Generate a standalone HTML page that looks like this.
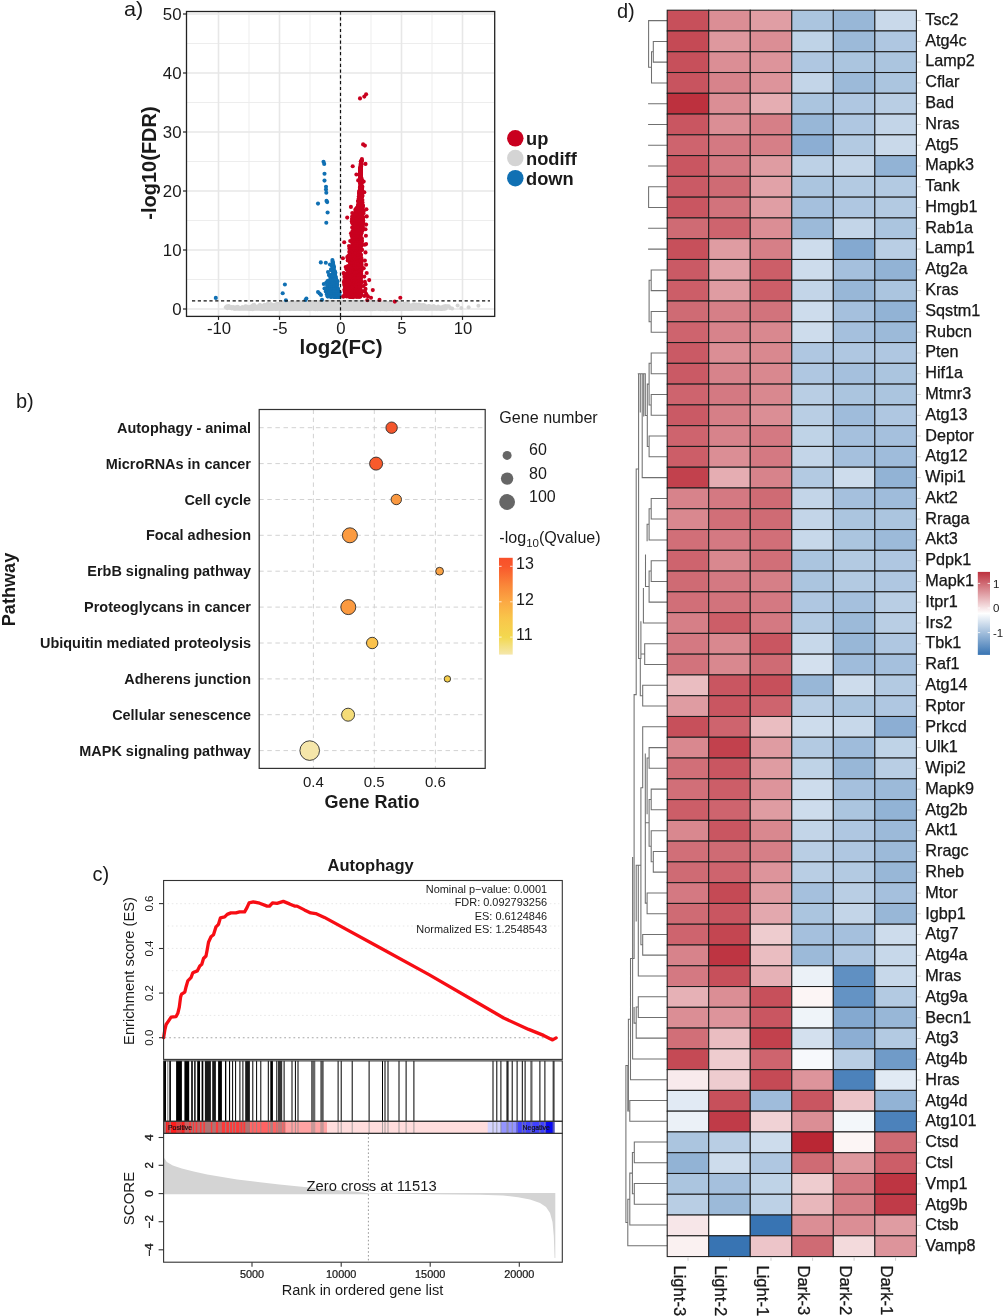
<!DOCTYPE html>
<html><head><meta charset="utf-8"><title>Figure</title>
<style>
html,body{margin:0;padding:0;background:#ffffff;}
body{width:1003px;height:1316px;overflow:hidden;}
svg{display:block;position:absolute;left:0;top:0;will-change:transform;}
text{font-family:"Liberation Sans",sans-serif;fill:#1a1a1a;}
.b{font-weight:bold;}
</style></head><body>
<svg width="1003" height="1316" viewBox="0 0 1003 1316">
<rect x="0" y="0" width="1003" height="1316" fill="#ffffff"/>
<g id="panelA">
<text transform="translate(124,16.3) scale(1.08,1)" font-size="20">a)</text>
<rect x="186.5" y="11.5" width="308.2" height="304.9" fill="#fff"/>
<line x1="249" y1="11.5" x2="249" y2="316.4" stroke="#ededed" stroke-width="1.0"/>
<line x1="310" y1="11.5" x2="310" y2="316.4" stroke="#ededed" stroke-width="1.0"/>
<line x1="371" y1="11.5" x2="371" y2="316.4" stroke="#ededed" stroke-width="1.0"/>
<line x1="432" y1="11.5" x2="432" y2="316.4" stroke="#ededed" stroke-width="1.0"/>
<line x1="186.5" y1="43.5" x2="494.7" y2="43.5" stroke="#ededed" stroke-width="1.0"/>
<line x1="186.5" y1="102.5" x2="494.7" y2="102.5" stroke="#ededed" stroke-width="1.0"/>
<line x1="186.5" y1="161.5" x2="494.7" y2="161.5" stroke="#ededed" stroke-width="1.0"/>
<line x1="186.5" y1="220.5" x2="494.7" y2="220.5" stroke="#ededed" stroke-width="1.0"/>
<line x1="186.5" y1="279.5" x2="494.7" y2="279.5" stroke="#ededed" stroke-width="1.0"/>
<line x1="218.5" y1="11.5" x2="218.5" y2="316.4" stroke="#e7e7e7" stroke-width="1.6"/>
<line x1="279.5" y1="11.5" x2="279.5" y2="316.4" stroke="#e7e7e7" stroke-width="1.6"/>
<line x1="340.5" y1="11.5" x2="340.5" y2="316.4" stroke="#e7e7e7" stroke-width="1.6"/>
<line x1="401.5" y1="11.5" x2="401.5" y2="316.4" stroke="#e7e7e7" stroke-width="1.6"/>
<line x1="462.5" y1="11.5" x2="462.5" y2="316.4" stroke="#e7e7e7" stroke-width="1.6"/>
<line x1="186.5" y1="14" x2="494.7" y2="14" stroke="#e7e7e7" stroke-width="1.6"/>
<line x1="186.5" y1="73" x2="494.7" y2="73" stroke="#e7e7e7" stroke-width="1.6"/>
<line x1="186.5" y1="132" x2="494.7" y2="132" stroke="#e7e7e7" stroke-width="1.6"/>
<line x1="186.5" y1="191" x2="494.7" y2="191" stroke="#e7e7e7" stroke-width="1.6"/>
<line x1="186.5" y1="250" x2="494.7" y2="250" stroke="#e7e7e7" stroke-width="1.6"/>
<line x1="186.5" y1="309" x2="494.7" y2="309" stroke="#e7e7e7" stroke-width="1.6"/>
<g fill="#d4d4d4"><circle cx="406.5" cy="308.8" r="2"/><circle cx="322.3" cy="304.3" r="2"/><circle cx="341.8" cy="305.3" r="2"/><circle cx="356.4" cy="307.7" r="2"/><circle cx="309.7" cy="307.4" r="2"/><circle cx="340.6" cy="303.9" r="2"/><circle cx="340.5" cy="307.6" r="2"/><circle cx="272.0" cy="307.3" r="2"/><circle cx="380.2" cy="306.6" r="2"/><circle cx="363.9" cy="303.6" r="2"/><circle cx="316.1" cy="307.9" r="2"/><circle cx="333.8" cy="308.7" r="2"/><circle cx="360.2" cy="307.9" r="2"/><circle cx="330.3" cy="303.9" r="2"/><circle cx="331.0" cy="308.9" r="2"/><circle cx="283.8" cy="305.8" r="2"/><circle cx="362.2" cy="305.5" r="2"/><circle cx="345.3" cy="306.4" r="2"/><circle cx="351.2" cy="306.6" r="2"/><circle cx="280.9" cy="305.9" r="2"/><circle cx="404.9" cy="308.9" r="2"/><circle cx="346.5" cy="306.8" r="2"/><circle cx="325.4" cy="306.1" r="2"/><circle cx="419.7" cy="308.5" r="2"/><circle cx="338.7" cy="305.3" r="2"/><circle cx="283.9" cy="307.3" r="2"/><circle cx="324.7" cy="308.8" r="2"/><circle cx="251.2" cy="308.6" r="2"/><circle cx="381.5" cy="307.0" r="2"/><circle cx="324.2" cy="304.3" r="2"/><circle cx="311.5" cy="303.4" r="2"/><circle cx="382.4" cy="305.9" r="2"/><circle cx="276.0" cy="309.0" r="2"/><circle cx="361.4" cy="304.7" r="2"/><circle cx="259.9" cy="304.7" r="2"/><circle cx="314.6" cy="308.9" r="2"/><circle cx="293.5" cy="306.9" r="2"/><circle cx="397.6" cy="309.1" r="2"/><circle cx="409.5" cy="306.0" r="2"/><circle cx="327.6" cy="308.5" r="2"/><circle cx="373.3" cy="302.5" r="2"/><circle cx="333.5" cy="306.2" r="2"/><circle cx="362.7" cy="304.7" r="2"/><circle cx="311.1" cy="306.9" r="2"/><circle cx="273.8" cy="307.3" r="2"/><circle cx="270.1" cy="309.1" r="2"/><circle cx="355.5" cy="302.7" r="2"/><circle cx="428.2" cy="308.0" r="2"/><circle cx="351.0" cy="307.4" r="2"/><circle cx="320.0" cy="306.6" r="2"/><circle cx="415.1" cy="308.2" r="2"/><circle cx="349.8" cy="306.9" r="2"/><circle cx="344.5" cy="307.1" r="2"/><circle cx="350.4" cy="301.9" r="2"/><circle cx="335.3" cy="302.6" r="2"/><circle cx="328.4" cy="307.1" r="2"/><circle cx="284.5" cy="303.9" r="2"/><circle cx="360.1" cy="309.0" r="2"/><circle cx="336.8" cy="304.9" r="2"/><circle cx="387.1" cy="303.4" r="2"/><circle cx="326.1" cy="307.6" r="2"/><circle cx="266.1" cy="308.3" r="2"/><circle cx="336.6" cy="303.2" r="2"/><circle cx="406.8" cy="305.4" r="2"/><circle cx="325.5" cy="301.9" r="2"/><circle cx="305.8" cy="308.1" r="2"/><circle cx="293.9" cy="308.3" r="2"/><circle cx="299.5" cy="308.9" r="2"/><circle cx="328.8" cy="306.8" r="2"/><circle cx="294.4" cy="308.9" r="2"/><circle cx="399.0" cy="305.4" r="2"/><circle cx="329.5" cy="308.6" r="2"/><circle cx="344.7" cy="305.8" r="2"/><circle cx="396.6" cy="306.0" r="2"/><circle cx="399.2" cy="308.7" r="2"/><circle cx="332.2" cy="304.0" r="2"/><circle cx="353.5" cy="301.8" r="2"/><circle cx="369.2" cy="306.4" r="2"/><circle cx="333.0" cy="305.3" r="2"/><circle cx="271.1" cy="307.1" r="2"/><circle cx="366.1" cy="302.0" r="2"/><circle cx="375.4" cy="303.2" r="2"/><circle cx="356.7" cy="302.0" r="2"/><circle cx="304.4" cy="306.5" r="2"/><circle cx="332.8" cy="306.9" r="2"/><circle cx="317.4" cy="309.2" r="2"/><circle cx="328.8" cy="308.7" r="2"/><circle cx="391.1" cy="303.0" r="2"/><circle cx="400.2" cy="305.6" r="2"/><circle cx="366.6" cy="306.0" r="2"/><circle cx="361.9" cy="308.1" r="2"/><circle cx="366.9" cy="302.4" r="2"/><circle cx="340.0" cy="309.0" r="2"/><circle cx="337.5" cy="304.3" r="2"/><circle cx="314.2" cy="304.9" r="2"/><circle cx="338.3" cy="303.7" r="2"/><circle cx="428.7" cy="305.9" r="2"/><circle cx="374.4" cy="304.4" r="2"/><circle cx="327.1" cy="305.1" r="2"/><circle cx="322.1" cy="306.0" r="2"/><circle cx="306.8" cy="303.5" r="2"/><circle cx="355.1" cy="308.3" r="2"/><circle cx="355.8" cy="307.2" r="2"/><circle cx="284.2" cy="304.3" r="2"/><circle cx="359.5" cy="302.6" r="2"/><circle cx="318.3" cy="304.3" r="2"/><circle cx="396.2" cy="308.9" r="2"/><circle cx="346.6" cy="302.9" r="2"/><circle cx="407.6" cy="303.6" r="2"/><circle cx="322.6" cy="305.8" r="2"/><circle cx="329.3" cy="306.3" r="2"/><circle cx="352.2" cy="306.6" r="2"/><circle cx="381.7" cy="305.1" r="2"/><circle cx="362.6" cy="308.0" r="2"/><circle cx="292.3" cy="308.4" r="2"/><circle cx="347.6" cy="301.7" r="2"/><circle cx="341.4" cy="305.5" r="2"/><circle cx="323.7" cy="305.4" r="2"/><circle cx="315.2" cy="307.1" r="2"/><circle cx="408.7" cy="309.0" r="2"/><circle cx="325.3" cy="308.8" r="2"/><circle cx="307.5" cy="308.9" r="2"/><circle cx="365.4" cy="304.1" r="2"/><circle cx="345.6" cy="303.3" r="2"/><circle cx="337.5" cy="302.0" r="2"/><circle cx="371.0" cy="302.1" r="2"/><circle cx="359.6" cy="308.2" r="2"/><circle cx="354.6" cy="309.2" r="2"/><circle cx="378.1" cy="304.4" r="2"/><circle cx="351.6" cy="307.1" r="2"/><circle cx="316.4" cy="302.4" r="2"/><circle cx="326.4" cy="305.6" r="2"/><circle cx="320.2" cy="306.0" r="2"/><circle cx="348.7" cy="306.1" r="2"/><circle cx="298.4" cy="307.1" r="2"/><circle cx="269.0" cy="306.1" r="2"/><circle cx="343.9" cy="307.9" r="2"/><circle cx="288.3" cy="302.9" r="2"/><circle cx="264.3" cy="305.0" r="2"/><circle cx="355.1" cy="302.8" r="2"/><circle cx="312.7" cy="302.3" r="2"/><circle cx="359.9" cy="304.2" r="2"/><circle cx="319.8" cy="302.5" r="2"/><circle cx="296.7" cy="304.2" r="2"/><circle cx="292.0" cy="306.1" r="2"/><circle cx="320.4" cy="309.1" r="2"/><circle cx="329.8" cy="305.4" r="2"/><circle cx="308.4" cy="305.4" r="2"/><circle cx="329.5" cy="303.7" r="2"/><circle cx="280.5" cy="303.9" r="2"/><circle cx="341.1" cy="304.5" r="2"/><circle cx="270.5" cy="308.7" r="2"/><circle cx="332.9" cy="308.6" r="2"/><circle cx="367.7" cy="302.9" r="2"/><circle cx="383.1" cy="303.2" r="2"/><circle cx="407.4" cy="306.9" r="2"/><circle cx="279.7" cy="308.8" r="2"/><circle cx="370.1" cy="308.5" r="2"/><circle cx="387.6" cy="308.5" r="2"/><circle cx="378.8" cy="302.8" r="2"/><circle cx="304.2" cy="306.4" r="2"/><circle cx="356.6" cy="305.8" r="2"/><circle cx="413.1" cy="304.8" r="2"/><circle cx="282.0" cy="307.7" r="2"/><circle cx="359.1" cy="305.3" r="2"/><circle cx="383.9" cy="305.3" r="2"/><circle cx="313.3" cy="306.2" r="2"/><circle cx="363.3" cy="308.4" r="2"/><circle cx="298.7" cy="306.3" r="2"/><circle cx="308.8" cy="308.5" r="2"/><circle cx="308.6" cy="307.0" r="2"/><circle cx="348.0" cy="306.2" r="2"/><circle cx="336.9" cy="307.8" r="2"/><circle cx="377.7" cy="302.2" r="2"/><circle cx="303.8" cy="304.4" r="2"/><circle cx="335.4" cy="302.2" r="2"/><circle cx="378.0" cy="302.7" r="2"/><circle cx="362.4" cy="307.1" r="2"/><circle cx="288.8" cy="308.3" r="2"/><circle cx="366.5" cy="302.0" r="2"/><circle cx="321.8" cy="305.5" r="2"/><circle cx="355.5" cy="304.2" r="2"/><circle cx="352.2" cy="302.7" r="2"/><circle cx="388.1" cy="307.0" r="2"/><circle cx="345.1" cy="304.8" r="2"/><circle cx="268.1" cy="307.6" r="2"/><circle cx="287.0" cy="307.9" r="2"/><circle cx="369.0" cy="309.0" r="2"/><circle cx="330.4" cy="307.5" r="2"/><circle cx="384.9" cy="307.6" r="2"/><circle cx="351.2" cy="303.6" r="2"/><circle cx="311.3" cy="305.5" r="2"/><circle cx="382.8" cy="303.9" r="2"/><circle cx="309.0" cy="307.2" r="2"/><circle cx="260.4" cy="308.1" r="2"/><circle cx="421.1" cy="306.4" r="2"/><circle cx="265.9" cy="307.8" r="2"/><circle cx="365.3" cy="303.7" r="2"/><circle cx="377.2" cy="306.6" r="2"/><circle cx="346.2" cy="307.1" r="2"/><circle cx="274.8" cy="304.8" r="2"/><circle cx="380.1" cy="307.9" r="2"/><circle cx="284.2" cy="304.7" r="2"/><circle cx="288.0" cy="306.7" r="2"/><circle cx="326.4" cy="308.6" r="2"/><circle cx="371.3" cy="304.7" r="2"/><circle cx="352.2" cy="304.7" r="2"/><circle cx="372.2" cy="308.6" r="2"/><circle cx="323.2" cy="305.8" r="2"/><circle cx="333.8" cy="305.8" r="2"/><circle cx="296.1" cy="304.4" r="2"/><circle cx="328.1" cy="307.8" r="2"/><circle cx="363.7" cy="305.1" r="2"/><circle cx="328.8" cy="301.7" r="2"/><circle cx="359.1" cy="309.2" r="2"/><circle cx="318.1" cy="303.9" r="2"/><circle cx="317.4" cy="306.7" r="2"/><circle cx="342.0" cy="305.6" r="2"/><circle cx="332.9" cy="307.1" r="2"/><circle cx="363.6" cy="305.9" r="2"/><circle cx="347.5" cy="305.5" r="2"/><circle cx="408.4" cy="304.0" r="2"/><circle cx="331.9" cy="302.6" r="2"/><circle cx="331.6" cy="302.2" r="2"/><circle cx="299.9" cy="302.5" r="2"/><circle cx="341.4" cy="306.3" r="2"/><circle cx="367.2" cy="303.5" r="2"/><circle cx="311.6" cy="302.8" r="2"/><circle cx="338.6" cy="308.4" r="2"/><circle cx="368.6" cy="304.0" r="2"/><circle cx="335.5" cy="304.9" r="2"/><circle cx="320.2" cy="307.8" r="2"/><circle cx="378.5" cy="304.8" r="2"/><circle cx="344.3" cy="304.0" r="2"/><circle cx="356.0" cy="304.3" r="2"/><circle cx="386.2" cy="309.2" r="2"/><circle cx="385.2" cy="303.0" r="2"/><circle cx="326.9" cy="306.6" r="2"/><circle cx="320.0" cy="303.3" r="2"/><circle cx="351.6" cy="308.1" r="2"/><circle cx="335.3" cy="304.7" r="2"/><circle cx="266.3" cy="308.9" r="2"/><circle cx="390.3" cy="305.6" r="2"/><circle cx="341.3" cy="304.3" r="2"/><circle cx="369.2" cy="306.4" r="2"/><circle cx="294.7" cy="304.4" r="2"/><circle cx="390.8" cy="306.1" r="2"/><circle cx="317.5" cy="308.9" r="2"/><circle cx="336.3" cy="309.0" r="2"/><circle cx="285.8" cy="308.9" r="2"/><circle cx="334.0" cy="306.7" r="2"/><circle cx="331.5" cy="302.2" r="2"/><circle cx="333.3" cy="306.8" r="2"/><circle cx="357.6" cy="303.1" r="2"/><circle cx="342.9" cy="304.4" r="2"/><circle cx="378.6" cy="304.3" r="2"/><circle cx="322.2" cy="304.4" r="2"/><circle cx="301.6" cy="307.9" r="2"/><circle cx="339.8" cy="302.6" r="2"/><circle cx="365.0" cy="306.2" r="2"/><circle cx="389.1" cy="303.0" r="2"/><circle cx="372.3" cy="309.2" r="2"/><circle cx="271.6" cy="308.6" r="2"/><circle cx="355.2" cy="308.3" r="2"/><circle cx="397.5" cy="304.7" r="2"/><circle cx="342.9" cy="308.5" r="2"/><circle cx="320.4" cy="306.1" r="2"/><circle cx="352.6" cy="305.4" r="2"/><circle cx="320.9" cy="305.4" r="2"/><circle cx="365.5" cy="307.1" r="2"/><circle cx="340.0" cy="302.5" r="2"/><circle cx="394.9" cy="306.3" r="2"/><circle cx="360.0" cy="308.0" r="2"/><circle cx="312.2" cy="305.2" r="2"/><circle cx="364.1" cy="308.4" r="2"/><circle cx="377.0" cy="304.5" r="2"/><circle cx="318.3" cy="308.0" r="2"/><circle cx="323.9" cy="302.6" r="2"/><circle cx="250.5" cy="308.8" r="2"/><circle cx="375.8" cy="307.1" r="2"/><circle cx="317.6" cy="307.7" r="2"/><circle cx="257.6" cy="306.5" r="2"/><circle cx="271.4" cy="306.9" r="2"/><circle cx="331.8" cy="305.8" r="2"/><circle cx="370.2" cy="306.0" r="2"/><circle cx="337.0" cy="304.6" r="2"/><circle cx="358.9" cy="307.3" r="2"/><circle cx="297.5" cy="307.0" r="2"/><circle cx="288.1" cy="307.6" r="2"/><circle cx="375.1" cy="308.2" r="2"/><circle cx="359.7" cy="304.6" r="2"/><circle cx="339.3" cy="302.1" r="2"/><circle cx="390.6" cy="303.3" r="2"/><circle cx="303.4" cy="302.4" r="2"/><circle cx="324.1" cy="308.5" r="2"/><circle cx="380.6" cy="304.3" r="2"/><circle cx="412.2" cy="308.8" r="2"/><circle cx="340.8" cy="303.0" r="2"/><circle cx="406.1" cy="304.3" r="2"/><circle cx="317.0" cy="305.7" r="2"/><circle cx="353.4" cy="301.8" r="2"/><circle cx="333.7" cy="305.7" r="2"/><circle cx="278.5" cy="306.0" r="2"/><circle cx="350.6" cy="306.7" r="2"/><circle cx="376.9" cy="303.5" r="2"/><circle cx="334.7" cy="305.0" r="2"/><circle cx="337.7" cy="305.5" r="2"/><circle cx="394.9" cy="306.5" r="2"/><circle cx="291.7" cy="304.2" r="2"/><circle cx="282.0" cy="308.8" r="2"/><circle cx="315.0" cy="304.6" r="2"/><circle cx="293.8" cy="308.8" r="2"/><circle cx="393.1" cy="307.8" r="2"/><circle cx="352.6" cy="309.0" r="2"/><circle cx="306.8" cy="305.5" r="2"/><circle cx="316.5" cy="302.3" r="2"/><circle cx="452.2" cy="308.6" r="2"/><circle cx="316.7" cy="308.4" r="2"/><circle cx="310.8" cy="305.4" r="2"/><circle cx="352.4" cy="309.1" r="2"/><circle cx="365.4" cy="306.7" r="2"/><circle cx="349.2" cy="305.9" r="2"/><circle cx="305.0" cy="308.7" r="2"/><circle cx="295.2" cy="303.2" r="2"/><circle cx="363.8" cy="306.4" r="2"/><circle cx="338.4" cy="304.8" r="2"/><circle cx="276.4" cy="308.6" r="2"/><circle cx="386.2" cy="302.7" r="2"/><circle cx="370.8" cy="308.0" r="2"/><circle cx="331.1" cy="305.7" r="2"/><circle cx="330.3" cy="308.6" r="2"/><circle cx="349.5" cy="308.1" r="2"/><circle cx="313.7" cy="308.3" r="2"/><circle cx="287.9" cy="306.7" r="2"/><circle cx="353.1" cy="308.6" r="2"/><circle cx="284.3" cy="306.3" r="2"/><circle cx="355.8" cy="305.0" r="2"/><circle cx="284.2" cy="308.0" r="2"/><circle cx="336.6" cy="303.4" r="2"/><circle cx="335.2" cy="308.7" r="2"/><circle cx="410.1" cy="306.0" r="2"/><circle cx="298.9" cy="303.6" r="2"/><circle cx="285.3" cy="305.3" r="2"/><circle cx="315.3" cy="309.3" r="2"/><circle cx="296.6" cy="308.8" r="2"/><circle cx="317.5" cy="308.9" r="2"/><circle cx="356.9" cy="308.3" r="2"/><circle cx="370.6" cy="305.4" r="2"/><circle cx="405.3" cy="303.6" r="2"/><circle cx="311.7" cy="306.6" r="2"/><circle cx="443.5" cy="306.6" r="2"/><circle cx="417.9" cy="307.8" r="2"/><circle cx="332.6" cy="301.9" r="2"/><circle cx="251.0" cy="307.5" r="2"/><circle cx="337.3" cy="307.8" r="2"/><circle cx="343.3" cy="307.8" r="2"/><circle cx="250.7" cy="308.7" r="2"/><circle cx="343.4" cy="308.7" r="2"/><circle cx="332.7" cy="302.2" r="2"/><circle cx="309.8" cy="304.0" r="2"/><circle cx="365.0" cy="308.2" r="2"/><circle cx="379.7" cy="305.0" r="2"/><circle cx="321.5" cy="305.8" r="2"/><circle cx="349.5" cy="308.7" r="2"/><circle cx="314.9" cy="302.0" r="2"/><circle cx="309.8" cy="307.6" r="2"/><circle cx="343.6" cy="304.9" r="2"/><circle cx="360.9" cy="306.6" r="2"/><circle cx="318.5" cy="305.6" r="2"/><circle cx="254.1" cy="304.7" r="2"/><circle cx="363.4" cy="303.6" r="2"/><circle cx="278.2" cy="307.8" r="2"/><circle cx="345.3" cy="303.9" r="2"/><circle cx="410.0" cy="306.6" r="2"/><circle cx="339.8" cy="307.5" r="2"/><circle cx="294.1" cy="305.5" r="2"/><circle cx="283.5" cy="307.8" r="2"/><circle cx="386.2" cy="303.8" r="2"/><circle cx="339.8" cy="307.0" r="2"/><circle cx="361.6" cy="308.6" r="2"/><circle cx="376.7" cy="303.1" r="2"/><circle cx="338.6" cy="308.0" r="2"/><circle cx="328.5" cy="303.9" r="2"/><circle cx="303.5" cy="303.1" r="2"/><circle cx="281.2" cy="304.7" r="2"/><circle cx="337.8" cy="302.0" r="2"/><circle cx="333.7" cy="307.2" r="2"/><circle cx="356.3" cy="306.5" r="2"/><circle cx="335.6" cy="304.4" r="2"/><circle cx="346.7" cy="308.4" r="2"/><circle cx="371.3" cy="302.1" r="2"/><circle cx="305.9" cy="304.5" r="2"/><circle cx="329.3" cy="304.1" r="2"/><circle cx="277.8" cy="305.7" r="2"/><circle cx="378.5" cy="305.7" r="2"/><circle cx="342.0" cy="307.8" r="2"/><circle cx="359.6" cy="308.5" r="2"/><circle cx="400.7" cy="307.7" r="2"/><circle cx="382.6" cy="309.1" r="2"/><circle cx="338.2" cy="304.5" r="2"/><circle cx="371.3" cy="308.0" r="2"/><circle cx="284.6" cy="303.4" r="2"/><circle cx="357.4" cy="308.5" r="2"/><circle cx="345.9" cy="306.8" r="2"/><circle cx="277.3" cy="304.1" r="2"/><circle cx="392.7" cy="305.2" r="2"/><circle cx="313.0" cy="306.2" r="2"/><circle cx="367.2" cy="303.9" r="2"/><circle cx="324.1" cy="306.3" r="2"/><circle cx="379.3" cy="308.2" r="2"/><circle cx="391.7" cy="302.8" r="2"/><circle cx="308.1" cy="303.0" r="2"/><circle cx="280.8" cy="304.7" r="2"/><circle cx="335.4" cy="307.1" r="2"/><circle cx="373.6" cy="305.6" r="2"/><circle cx="326.0" cy="308.6" r="2"/><circle cx="316.5" cy="309.0" r="2"/><circle cx="359.6" cy="302.2" r="2"/><circle cx="232.7" cy="308.0" r="2"/><circle cx="314.5" cy="307.7" r="2"/><circle cx="286.5" cy="304.2" r="2"/><circle cx="352.0" cy="305.3" r="2"/><circle cx="311.8" cy="304.4" r="2"/><circle cx="297.0" cy="308.5" r="2"/><circle cx="326.7" cy="305.9" r="2"/><circle cx="283.2" cy="306.7" r="2"/><circle cx="340.0" cy="307.0" r="2"/><circle cx="313.9" cy="308.0" r="2"/><circle cx="325.8" cy="302.7" r="2"/><circle cx="312.5" cy="303.8" r="2"/><circle cx="376.1" cy="305.3" r="2"/><circle cx="336.3" cy="307.2" r="2"/><circle cx="361.0" cy="304.5" r="2"/><circle cx="359.2" cy="306.2" r="2"/><circle cx="309.0" cy="309.3" r="2"/><circle cx="362.8" cy="304.6" r="2"/><circle cx="354.1" cy="304.2" r="2"/><circle cx="352.7" cy="302.0" r="2"/><circle cx="324.9" cy="303.0" r="2"/><circle cx="323.8" cy="308.7" r="2"/><circle cx="371.2" cy="307.0" r="2"/><circle cx="425.7" cy="309.0" r="2"/><circle cx="308.1" cy="308.8" r="2"/><circle cx="361.4" cy="305.8" r="2"/><circle cx="326.2" cy="307.7" r="2"/><circle cx="371.1" cy="308.8" r="2"/><circle cx="357.6" cy="304.6" r="2"/><circle cx="381.9" cy="302.9" r="2"/><circle cx="231.4" cy="307.0" r="2"/><circle cx="317.0" cy="308.9" r="2"/><circle cx="301.9" cy="307.2" r="2"/><circle cx="336.3" cy="309.0" r="2"/><circle cx="312.2" cy="306.2" r="2"/><circle cx="315.5" cy="302.4" r="2"/><circle cx="367.1" cy="307.9" r="2"/><circle cx="414.8" cy="305.3" r="2"/><circle cx="230.3" cy="307.9" r="2"/><circle cx="328.4" cy="305.3" r="2"/><circle cx="352.7" cy="303.0" r="2"/><circle cx="340.7" cy="306.9" r="2"/><circle cx="327.0" cy="306.8" r="2"/><circle cx="287.7" cy="304.5" r="2"/><circle cx="303.7" cy="308.3" r="2"/><circle cx="368.8" cy="308.5" r="2"/><circle cx="382.5" cy="306.4" r="2"/><circle cx="344.3" cy="306.3" r="2"/><circle cx="307.9" cy="307.1" r="2"/><circle cx="344.2" cy="307.3" r="2"/><circle cx="331.1" cy="302.6" r="2"/><circle cx="361.8" cy="306.2" r="2"/><circle cx="345.1" cy="306.9" r="2"/><circle cx="316.2" cy="303.4" r="2"/><circle cx="347.9" cy="302.8" r="2"/><circle cx="294.5" cy="304.5" r="2"/><circle cx="372.5" cy="302.3" r="2"/><circle cx="386.7" cy="308.4" r="2"/><circle cx="294.5" cy="306.2" r="2"/><circle cx="356.9" cy="303.2" r="2"/><circle cx="301.8" cy="302.4" r="2"/><circle cx="382.3" cy="307.9" r="2"/><circle cx="375.8" cy="304.0" r="2"/><circle cx="331.5" cy="307.7" r="2"/><circle cx="379.3" cy="306.5" r="2"/><circle cx="323.7" cy="303.6" r="2"/><circle cx="315.4" cy="303.6" r="2"/><circle cx="318.3" cy="308.9" r="2"/><circle cx="335.0" cy="307.3" r="2"/><circle cx="327.9" cy="302.0" r="2"/><circle cx="346.5" cy="304.9" r="2"/><circle cx="316.5" cy="305.0" r="2"/><circle cx="370.4" cy="307.4" r="2"/><circle cx="380.4" cy="306.1" r="2"/><circle cx="321.1" cy="307.3" r="2"/><circle cx="284.8" cy="308.4" r="2"/><circle cx="368.8" cy="307.2" r="2"/><circle cx="384.9" cy="305.5" r="2"/><circle cx="334.1" cy="305.3" r="2"/><circle cx="290.3" cy="305.8" r="2"/><circle cx="350.9" cy="306.7" r="2"/><circle cx="400.0" cy="306.6" r="2"/><circle cx="267.2" cy="304.5" r="2"/><circle cx="359.2" cy="302.4" r="2"/><circle cx="328.3" cy="302.5" r="2"/><circle cx="307.1" cy="307.6" r="2"/><circle cx="359.9" cy="304.5" r="2"/><circle cx="289.8" cy="304.2" r="2"/><circle cx="352.1" cy="306.8" r="2"/><circle cx="391.8" cy="306.1" r="2"/><circle cx="347.4" cy="302.7" r="2"/><circle cx="306.3" cy="304.2" r="2"/><circle cx="271.0" cy="305.1" r="2"/><circle cx="290.5" cy="308.7" r="2"/><circle cx="268.6" cy="308.9" r="2"/><circle cx="402.9" cy="305.1" r="2"/><circle cx="330.8" cy="304.9" r="2"/><circle cx="299.7" cy="308.1" r="2"/><circle cx="289.8" cy="309.2" r="2"/><circle cx="298.8" cy="307.6" r="2"/><circle cx="327.4" cy="304.6" r="2"/><circle cx="290.4" cy="306.9" r="2"/><circle cx="405.9" cy="305.4" r="2"/><circle cx="311.3" cy="308.2" r="2"/><circle cx="309.9" cy="304.6" r="2"/><circle cx="352.5" cy="308.4" r="2"/><circle cx="397.1" cy="303.6" r="2"/><circle cx="392.2" cy="307.6" r="2"/><circle cx="321.5" cy="309.3" r="2"/><circle cx="350.5" cy="303.2" r="2"/><circle cx="346.3" cy="306.8" r="2"/><circle cx="361.2" cy="306.2" r="2"/><circle cx="350.5" cy="308.2" r="2"/><circle cx="303.7" cy="307.8" r="2"/><circle cx="291.3" cy="306.6" r="2"/><circle cx="347.4" cy="307.1" r="2"/><circle cx="294.3" cy="305.8" r="2"/><circle cx="393.7" cy="307.5" r="2"/><circle cx="342.1" cy="305.9" r="2"/><circle cx="300.4" cy="309.1" r="2"/><circle cx="327.9" cy="305.5" r="2"/><circle cx="320.7" cy="304.8" r="2"/><circle cx="335.4" cy="302.4" r="2"/><circle cx="377.4" cy="304.2" r="2"/><circle cx="284.1" cy="308.7" r="2"/><circle cx="267.6" cy="307.2" r="2"/><circle cx="353.7" cy="303.5" r="2"/><circle cx="333.6" cy="303.8" r="2"/><circle cx="346.9" cy="308.9" r="2"/><circle cx="357.9" cy="309.1" r="2"/><circle cx="333.4" cy="305.5" r="2"/><circle cx="371.7" cy="306.0" r="2"/><circle cx="305.6" cy="308.3" r="2"/><circle cx="343.0" cy="307.3" r="2"/><circle cx="308.1" cy="306.8" r="2"/><circle cx="296.4" cy="303.9" r="2"/><circle cx="364.5" cy="307.4" r="2"/><circle cx="362.7" cy="303.3" r="2"/><circle cx="264.7" cy="304.8" r="2"/><circle cx="296.7" cy="307.6" r="2"/><circle cx="351.9" cy="302.8" r="2"/><circle cx="382.3" cy="308.7" r="2"/><circle cx="314.5" cy="306.5" r="2"/><circle cx="333.3" cy="308.5" r="2"/><circle cx="285.3" cy="307.2" r="2"/><circle cx="438.5" cy="308.1" r="2"/><circle cx="359.0" cy="303.6" r="2"/><circle cx="375.4" cy="303.3" r="2"/><circle cx="366.2" cy="306.8" r="2"/><circle cx="376.9" cy="306.9" r="2"/><circle cx="364.2" cy="302.1" r="2"/><circle cx="327.4" cy="308.1" r="2"/><circle cx="369.5" cy="305.8" r="2"/><circle cx="343.6" cy="304.8" r="2"/><circle cx="391.1" cy="304.9" r="2"/><circle cx="311.8" cy="308.2" r="2"/><circle cx="319.4" cy="306.9" r="2"/><circle cx="366.3" cy="308.2" r="2"/><circle cx="390.5" cy="304.3" r="2"/><circle cx="346.2" cy="303.7" r="2"/><circle cx="312.7" cy="303.2" r="2"/><circle cx="335.9" cy="306.0" r="2"/><circle cx="321.0" cy="309.1" r="2"/><circle cx="414.6" cy="304.4" r="2"/><circle cx="375.6" cy="308.5" r="2"/><circle cx="389.9" cy="307.8" r="2"/><circle cx="352.3" cy="309.1" r="2"/><circle cx="318.8" cy="306.3" r="2"/><circle cx="386.3" cy="304.6" r="2"/><circle cx="405.1" cy="303.8" r="2"/><circle cx="363.2" cy="305.2" r="2"/><circle cx="339.6" cy="308.6" r="2"/><circle cx="382.7" cy="303.2" r="2"/><circle cx="326.0" cy="308.5" r="2"/><circle cx="370.3" cy="307.8" r="2"/><circle cx="312.7" cy="307.7" r="2"/><circle cx="302.6" cy="303.0" r="2"/><circle cx="362.6" cy="306.2" r="2"/><circle cx="353.7" cy="302.9" r="2"/><circle cx="414.8" cy="306.2" r="2"/><circle cx="329.6" cy="305.7" r="2"/><circle cx="341.4" cy="303.3" r="2"/><circle cx="296.0" cy="307.8" r="2"/><circle cx="267.5" cy="307.7" r="2"/><circle cx="271.0" cy="304.1" r="2"/><circle cx="358.6" cy="304.7" r="2"/><circle cx="294.6" cy="306.7" r="2"/><circle cx="384.5" cy="305.0" r="2"/><circle cx="396.0" cy="304.5" r="2"/><circle cx="329.4" cy="303.9" r="2"/><circle cx="405.2" cy="306.3" r="2"/><circle cx="349.4" cy="304.5" r="2"/><circle cx="384.4" cy="307.6" r="2"/><circle cx="331.7" cy="305.6" r="2"/><circle cx="377.9" cy="303.0" r="2"/><circle cx="303.7" cy="302.8" r="2"/><circle cx="364.8" cy="309.1" r="2"/><circle cx="322.6" cy="307.4" r="2"/><circle cx="335.4" cy="307.3" r="2"/><circle cx="365.2" cy="306.9" r="2"/><circle cx="347.2" cy="307.0" r="2"/><circle cx="337.6" cy="307.1" r="2"/><circle cx="368.9" cy="305.8" r="2"/><circle cx="371.9" cy="307.5" r="2"/><circle cx="286.4" cy="304.6" r="2"/><circle cx="362.3" cy="309.1" r="2"/><circle cx="366.7" cy="302.2" r="2"/><circle cx="311.2" cy="307.9" r="2"/><circle cx="355.6" cy="302.5" r="2"/><circle cx="288.8" cy="304.8" r="2"/><circle cx="396.7" cy="303.7" r="2"/><circle cx="331.2" cy="306.0" r="2"/><circle cx="337.4" cy="306.8" r="2"/><circle cx="387.2" cy="305.1" r="2"/><circle cx="334.9" cy="307.8" r="2"/><circle cx="363.9" cy="306.2" r="2"/><circle cx="299.6" cy="305.5" r="2"/><circle cx="318.3" cy="308.4" r="2"/><circle cx="286.1" cy="304.1" r="2"/><circle cx="332.4" cy="305.8" r="2"/><circle cx="380.8" cy="305.6" r="2"/><circle cx="349.2" cy="304.1" r="2"/><circle cx="375.0" cy="302.8" r="2"/><circle cx="300.4" cy="308.3" r="2"/><circle cx="306.0" cy="307.9" r="2"/><circle cx="322.3" cy="308.4" r="2"/><circle cx="362.9" cy="302.1" r="2"/><circle cx="354.4" cy="306.0" r="2"/><circle cx="339.9" cy="303.8" r="2"/><circle cx="364.8" cy="308.1" r="2"/><circle cx="334.6" cy="302.2" r="2"/><circle cx="339.7" cy="308.3" r="2"/><circle cx="391.4" cy="304.8" r="2"/><circle cx="317.6" cy="309.1" r="2"/><circle cx="347.6" cy="302.7" r="2"/><circle cx="403.4" cy="306.9" r="2"/><circle cx="344.5" cy="304.5" r="2"/><circle cx="368.1" cy="304.9" r="2"/><circle cx="316.8" cy="307.8" r="2"/><circle cx="416.9" cy="306.8" r="2"/><circle cx="252.7" cy="309.2" r="2"/><circle cx="296.2" cy="303.9" r="2"/><circle cx="299.4" cy="306.1" r="2"/><circle cx="403.7" cy="307.6" r="2"/><circle cx="354.3" cy="306.3" r="2"/><circle cx="330.3" cy="306.2" r="2"/><circle cx="290.5" cy="308.2" r="2"/><circle cx="354.7" cy="306.5" r="2"/><circle cx="345.0" cy="304.1" r="2"/><circle cx="313.4" cy="305.2" r="2"/><circle cx="282.3" cy="303.1" r="2"/><circle cx="297.4" cy="304.1" r="2"/><circle cx="348.8" cy="303.0" r="2"/><circle cx="352.6" cy="308.2" r="2"/><circle cx="343.4" cy="305.3" r="2"/><circle cx="334.6" cy="307.4" r="2"/><circle cx="271.4" cy="307.9" r="2"/><circle cx="342.4" cy="306.8" r="2"/><circle cx="300.2" cy="305.3" r="2"/><circle cx="342.1" cy="306.1" r="2"/><circle cx="358.7" cy="306.3" r="2"/><circle cx="314.1" cy="306.6" r="2"/><circle cx="300.6" cy="302.4" r="2"/><circle cx="379.3" cy="306.3" r="2"/><circle cx="354.2" cy="302.3" r="2"/><circle cx="315.6" cy="301.9" r="2"/><circle cx="338.6" cy="304.5" r="2"/><circle cx="365.1" cy="302.0" r="2"/><circle cx="384.3" cy="302.4" r="2"/><circle cx="314.0" cy="303.3" r="2"/><circle cx="315.4" cy="304.0" r="2"/><circle cx="323.2" cy="307.6" r="2"/><circle cx="373.2" cy="308.0" r="2"/><circle cx="294.6" cy="308.9" r="2"/><circle cx="336.1" cy="307.6" r="2"/><circle cx="304.4" cy="305.5" r="2"/><circle cx="351.0" cy="306.0" r="2"/><circle cx="279.8" cy="304.6" r="2"/><circle cx="355.2" cy="307.0" r="2"/><circle cx="321.1" cy="304.6" r="2"/><circle cx="331.8" cy="306.5" r="2"/><circle cx="361.0" cy="307.6" r="2"/><circle cx="385.2" cy="304.0" r="2"/><circle cx="274.2" cy="307.5" r="2"/><circle cx="379.7" cy="305.6" r="2"/><circle cx="362.3" cy="307.4" r="2"/><circle cx="329.0" cy="304.4" r="2"/><circle cx="395.3" cy="308.1" r="2"/><circle cx="347.9" cy="308.8" r="2"/><circle cx="391.0" cy="305.1" r="2"/><circle cx="317.4" cy="305.6" r="2"/><circle cx="306.7" cy="304.6" r="2"/><circle cx="388.3" cy="308.7" r="2"/><circle cx="425.0" cy="305.6" r="2"/><circle cx="365.2" cy="308.9" r="2"/><circle cx="375.3" cy="302.4" r="2"/><circle cx="322.0" cy="302.2" r="2"/><circle cx="288.8" cy="304.0" r="2"/><circle cx="331.7" cy="306.9" r="2"/><circle cx="399.1" cy="305.2" r="2"/><circle cx="267.9" cy="303.8" r="2"/><circle cx="321.2" cy="303.9" r="2"/><circle cx="265.8" cy="305.7" r="2"/><circle cx="344.7" cy="309.1" r="2"/><circle cx="374.6" cy="309.0" r="2"/><circle cx="292.0" cy="305.1" r="2"/><circle cx="324.5" cy="305.8" r="2"/><circle cx="392.3" cy="306.0" r="2"/><circle cx="337.0" cy="307.8" r="2"/><circle cx="292.1" cy="307.2" r="2"/><circle cx="289.1" cy="303.4" r="2"/><circle cx="261.8" cy="307.4" r="2"/><circle cx="370.7" cy="302.2" r="2"/><circle cx="311.4" cy="308.1" r="2"/><circle cx="381.5" cy="305.6" r="2"/><circle cx="374.3" cy="304.7" r="2"/><circle cx="314.7" cy="304.2" r="2"/><circle cx="319.9" cy="303.3" r="2"/><circle cx="370.9" cy="303.8" r="2"/><circle cx="346.3" cy="303.0" r="2"/><circle cx="351.0" cy="308.8" r="2"/><circle cx="276.2" cy="308.7" r="2"/><circle cx="375.5" cy="308.3" r="2"/><circle cx="306.3" cy="307.9" r="2"/><circle cx="251.9" cy="306.1" r="2"/><circle cx="316.4" cy="305.3" r="2"/><circle cx="357.0" cy="304.0" r="2"/><circle cx="422.4" cy="306.3" r="2"/><circle cx="325.9" cy="305.0" r="2"/><circle cx="288.6" cy="308.0" r="2"/><circle cx="423.4" cy="305.1" r="2"/><circle cx="346.8" cy="303.4" r="2"/><circle cx="330.3" cy="303.5" r="2"/><circle cx="298.5" cy="302.8" r="2"/><circle cx="301.3" cy="306.5" r="2"/><circle cx="398.2" cy="306.6" r="2"/><circle cx="329.9" cy="305.7" r="2"/><circle cx="319.5" cy="306.7" r="2"/><circle cx="320.6" cy="305.5" r="2"/><circle cx="401.7" cy="305.4" r="2"/><circle cx="317.5" cy="304.9" r="2"/><circle cx="365.0" cy="308.0" r="2"/><circle cx="350.9" cy="303.8" r="2"/><circle cx="349.8" cy="308.8" r="2"/><circle cx="306.3" cy="307.8" r="2"/><circle cx="366.2" cy="306.4" r="2"/><circle cx="403.3" cy="304.3" r="2"/><circle cx="338.5" cy="307.4" r="2"/><circle cx="304.6" cy="303.4" r="2"/><circle cx="290.1" cy="305.4" r="2"/><circle cx="347.9" cy="303.9" r="2"/><circle cx="329.9" cy="307.0" r="2"/><circle cx="336.4" cy="301.9" r="2"/><circle cx="341.0" cy="304.3" r="2"/><circle cx="282.9" cy="308.7" r="2"/><circle cx="371.0" cy="303.4" r="2"/><circle cx="349.6" cy="305.7" r="2"/><circle cx="337.6" cy="302.9" r="2"/><circle cx="349.6" cy="303.9" r="2"/><circle cx="376.7" cy="302.4" r="2"/><circle cx="342.6" cy="302.3" r="2"/><circle cx="307.3" cy="304.5" r="2"/><circle cx="386.0" cy="304.1" r="2"/><circle cx="323.6" cy="308.8" r="2"/><circle cx="312.2" cy="303.5" r="2"/><circle cx="279.5" cy="304.8" r="2"/><circle cx="340.8" cy="302.1" r="2"/><circle cx="299.6" cy="304.0" r="2"/><circle cx="320.2" cy="304.7" r="2"/><circle cx="358.0" cy="303.4" r="2"/><circle cx="341.8" cy="304.7" r="2"/><circle cx="380.2" cy="305.9" r="2"/><circle cx="352.4" cy="301.8" r="2"/><circle cx="324.7" cy="305.6" r="2"/><circle cx="327.6" cy="308.5" r="2"/><circle cx="320.7" cy="308.9" r="2"/><circle cx="365.7" cy="306.6" r="2"/><circle cx="341.3" cy="305.8" r="2"/><circle cx="324.5" cy="305.1" r="2"/><circle cx="373.5" cy="308.8" r="2"/><circle cx="344.3" cy="305.1" r="2"/><circle cx="322.3" cy="302.1" r="2"/><circle cx="281.5" cy="304.6" r="2"/><circle cx="357.6" cy="304.0" r="2"/><circle cx="349.8" cy="305.4" r="2"/><circle cx="342.5" cy="302.5" r="2"/><circle cx="323.6" cy="308.6" r="2"/><circle cx="308.0" cy="303.7" r="2"/><circle cx="331.6" cy="303.8" r="2"/><circle cx="349.5" cy="306.4" r="2"/><circle cx="335.5" cy="305.5" r="2"/><circle cx="334.9" cy="308.1" r="2"/><circle cx="322.2" cy="309.2" r="2"/><circle cx="353.7" cy="306.7" r="2"/><circle cx="349.6" cy="306.7" r="2"/><circle cx="311.1" cy="305.5" r="2"/><circle cx="370.2" cy="306.8" r="2"/><circle cx="371.4" cy="302.8" r="2"/><circle cx="372.3" cy="308.2" r="2"/><circle cx="335.4" cy="303.0" r="2"/><circle cx="332.9" cy="305.1" r="2"/><circle cx="295.2" cy="307.8" r="2"/><circle cx="370.0" cy="302.9" r="2"/><circle cx="257.1" cy="306.6" r="2"/><circle cx="325.2" cy="308.6" r="2"/><circle cx="327.2" cy="302.7" r="2"/><circle cx="373.9" cy="307.3" r="2"/><circle cx="340.5" cy="304.9" r="2"/><circle cx="302.8" cy="304.5" r="2"/><circle cx="284.8" cy="304.5" r="2"/><circle cx="312.0" cy="304.0" r="2"/><circle cx="344.7" cy="302.9" r="2"/><circle cx="342.6" cy="303.4" r="2"/><circle cx="332.8" cy="307.9" r="2"/><circle cx="313.8" cy="305.2" r="2"/><circle cx="332.3" cy="305.5" r="2"/><circle cx="379.5" cy="308.3" r="2"/><circle cx="297.5" cy="306.3" r="2"/><circle cx="341.8" cy="303.3" r="2"/><circle cx="403.7" cy="306.6" r="2"/><circle cx="362.1" cy="306.4" r="2"/><circle cx="322.7" cy="305.7" r="2"/><circle cx="366.3" cy="305.1" r="2"/><circle cx="311.1" cy="303.7" r="2"/><circle cx="340.8" cy="302.8" r="2"/><circle cx="401.2" cy="307.5" r="2"/><circle cx="414.4" cy="307.8" r="2"/><circle cx="273.8" cy="307.4" r="2"/><circle cx="367.8" cy="302.9" r="2"/><circle cx="416.6" cy="304.5" r="2"/><circle cx="319.2" cy="306.7" r="2"/><circle cx="350.6" cy="302.9" r="2"/><circle cx="399.3" cy="305.9" r="2"/><circle cx="321.3" cy="302.1" r="2"/><circle cx="358.1" cy="305.0" r="2"/><circle cx="338.2" cy="302.4" r="2"/><circle cx="265.3" cy="306.3" r="2"/><circle cx="354.0" cy="306.6" r="2"/><circle cx="333.3" cy="302.8" r="2"/><circle cx="376.7" cy="306.9" r="2"/><circle cx="422.2" cy="305.4" r="2"/><circle cx="367.2" cy="305.4" r="2"/><circle cx="326.2" cy="306.8" r="2"/><circle cx="358.1" cy="305.7" r="2"/><circle cx="348.4" cy="302.4" r="2"/><circle cx="380.4" cy="307.2" r="2"/><circle cx="284.3" cy="308.7" r="2"/><circle cx="295.0" cy="303.1" r="2"/><circle cx="260.7" cy="308.6" r="2"/><circle cx="364.2" cy="307.6" r="2"/><circle cx="339.8" cy="305.6" r="2"/><circle cx="315.5" cy="303.5" r="2"/><circle cx="312.2" cy="302.1" r="2"/><circle cx="318.2" cy="307.9" r="2"/><circle cx="304.3" cy="307.6" r="2"/><circle cx="328.0" cy="301.7" r="2"/><circle cx="321.2" cy="305.1" r="2"/><circle cx="394.8" cy="303.7" r="2"/><circle cx="353.1" cy="306.5" r="2"/><circle cx="308.5" cy="307.2" r="2"/><circle cx="317.7" cy="302.8" r="2"/><circle cx="387.3" cy="307.9" r="2"/><circle cx="358.2" cy="307.3" r="2"/><circle cx="352.0" cy="306.5" r="2"/><circle cx="368.6" cy="306.8" r="2"/><circle cx="402.4" cy="308.2" r="2"/><circle cx="293.0" cy="307.3" r="2"/><circle cx="311.4" cy="308.0" r="2"/><circle cx="272.5" cy="306.2" r="2"/><circle cx="359.8" cy="304.1" r="2"/><circle cx="325.7" cy="305.4" r="2"/><circle cx="314.3" cy="308.8" r="2"/><circle cx="310.7" cy="305.0" r="2"/><circle cx="367.5" cy="304.0" r="2"/><circle cx="335.0" cy="307.9" r="2"/><circle cx="319.8" cy="305.7" r="2"/><circle cx="389.5" cy="302.8" r="2"/><circle cx="299.7" cy="303.5" r="2"/><circle cx="291.1" cy="306.2" r="2"/><circle cx="441.8" cy="308.3" r="2"/><circle cx="326.1" cy="308.1" r="2"/><circle cx="319.3" cy="308.9" r="2"/><circle cx="312.1" cy="307.6" r="2"/><circle cx="335.2" cy="305.6" r="2"/><circle cx="371.1" cy="305.7" r="2"/><circle cx="369.9" cy="308.0" r="2"/><circle cx="361.7" cy="305.9" r="2"/><circle cx="329.6" cy="305.9" r="2"/><circle cx="282.3" cy="304.2" r="2"/><circle cx="351.5" cy="302.3" r="2"/><circle cx="399.8" cy="303.3" r="2"/><circle cx="382.2" cy="305.9" r="2"/><circle cx="333.9" cy="302.8" r="2"/><circle cx="371.8" cy="304.8" r="2"/><circle cx="325.5" cy="308.5" r="2"/><circle cx="338.3" cy="308.7" r="2"/><circle cx="292.3" cy="305.2" r="2"/><circle cx="328.2" cy="304.1" r="2"/><circle cx="346.0" cy="304.3" r="2"/><circle cx="333.9" cy="305.6" r="2"/><circle cx="370.6" cy="305.0" r="2"/><circle cx="414.0" cy="305.6" r="2"/><circle cx="392.1" cy="304.7" r="2"/><circle cx="328.6" cy="308.2" r="2"/><circle cx="312.0" cy="305.8" r="2"/><circle cx="315.0" cy="306.8" r="2"/><circle cx="302.3" cy="305.9" r="2"/><circle cx="341.8" cy="306.3" r="2"/><circle cx="356.9" cy="308.7" r="2"/><circle cx="347.6" cy="303.3" r="2"/><circle cx="348.1" cy="305.3" r="2"/><circle cx="346.7" cy="302.6" r="2"/><circle cx="335.3" cy="309.0" r="2"/><circle cx="311.5" cy="308.6" r="2"/><circle cx="407.8" cy="308.5" r="2"/><circle cx="381.4" cy="303.2" r="2"/><circle cx="305.0" cy="305.7" r="2"/><circle cx="305.2" cy="303.9" r="2"/><circle cx="317.6" cy="308.7" r="2"/><circle cx="341.8" cy="303.6" r="2"/><circle cx="389.7" cy="308.7" r="2"/><circle cx="380.1" cy="302.9" r="2"/><circle cx="382.2" cy="305.7" r="2"/><circle cx="383.0" cy="302.6" r="2"/><circle cx="383.7" cy="304.9" r="2"/><circle cx="369.3" cy="304.9" r="2"/><circle cx="358.2" cy="308.0" r="2"/><circle cx="335.9" cy="304.5" r="2"/><circle cx="272.4" cy="304.9" r="2"/><circle cx="335.5" cy="304.6" r="2"/><circle cx="410.8" cy="305.4" r="2"/><circle cx="319.4" cy="302.7" r="2"/><circle cx="316.1" cy="304.1" r="2"/><circle cx="380.2" cy="304.8" r="2"/><circle cx="343.6" cy="305.3" r="2"/><circle cx="321.8" cy="305.9" r="2"/><circle cx="401.3" cy="304.9" r="2"/><circle cx="364.9" cy="303.1" r="2"/><circle cx="370.1" cy="304.0" r="2"/><circle cx="318.5" cy="308.5" r="2"/><circle cx="359.9" cy="307.4" r="2"/><circle cx="355.2" cy="304.6" r="2"/><circle cx="370.8" cy="305.2" r="2"/><circle cx="385.4" cy="303.0" r="2"/><circle cx="384.5" cy="302.5" r="2"/><circle cx="347.2" cy="302.4" r="2"/><circle cx="367.4" cy="304.8" r="2"/><circle cx="295.8" cy="304.4" r="2"/><circle cx="365.6" cy="303.0" r="2"/><circle cx="367.2" cy="308.2" r="2"/><circle cx="325.3" cy="306.9" r="2"/><circle cx="310.3" cy="309.1" r="2"/><circle cx="338.2" cy="304.5" r="2"/><circle cx="293.1" cy="303.1" r="2"/><circle cx="353.8" cy="309.3" r="2"/><circle cx="352.0" cy="308.3" r="2"/><circle cx="303.5" cy="307.9" r="2"/><circle cx="342.4" cy="303.3" r="2"/><circle cx="382.2" cy="306.7" r="2"/><circle cx="382.0" cy="307.9" r="2"/><circle cx="380.0" cy="306.7" r="2"/><circle cx="334.6" cy="307.3" r="2"/><circle cx="327.3" cy="307.4" r="2"/><circle cx="325.2" cy="305.0" r="2"/><circle cx="363.6" cy="304.3" r="2"/><circle cx="432.3" cy="308.1" r="2"/><circle cx="395.4" cy="305.7" r="2"/><circle cx="402.4" cy="309.1" r="2"/><circle cx="393.2" cy="302.9" r="2"/><circle cx="277.5" cy="308.6" r="2"/><circle cx="332.7" cy="305.0" r="2"/><circle cx="323.6" cy="301.8" r="2"/><circle cx="389.3" cy="307.1" r="2"/><circle cx="406.4" cy="307.6" r="2"/><circle cx="314.6" cy="303.8" r="2"/><circle cx="342.0" cy="305.7" r="2"/><circle cx="362.3" cy="307.3" r="2"/><circle cx="321.4" cy="305.0" r="2"/><circle cx="316.0" cy="303.2" r="2"/><circle cx="314.1" cy="304.4" r="2"/><circle cx="375.0" cy="307.6" r="2"/><circle cx="305.0" cy="304.5" r="2"/><circle cx="384.8" cy="302.9" r="2"/><circle cx="343.9" cy="307.8" r="2"/><circle cx="369.8" cy="304.5" r="2"/><circle cx="400.8" cy="306.2" r="2"/><circle cx="314.4" cy="304.4" r="2"/><circle cx="308.6" cy="308.3" r="2"/><circle cx="357.2" cy="307.5" r="2"/><circle cx="300.2" cy="306.8" r="2"/><circle cx="312.0" cy="303.1" r="2"/><circle cx="336.1" cy="306.4" r="2"/><circle cx="346.6" cy="306.7" r="2"/><circle cx="292.0" cy="304.3" r="2"/><circle cx="325.6" cy="308.2" r="2"/><circle cx="363.2" cy="306.9" r="2"/><circle cx="392.9" cy="305.7" r="2"/><circle cx="264.0" cy="307.4" r="2"/><circle cx="391.4" cy="305.3" r="2"/><circle cx="374.9" cy="305.0" r="2"/><circle cx="298.2" cy="308.3" r="2"/><circle cx="283.2" cy="308.4" r="2"/><circle cx="356.8" cy="303.4" r="2"/><circle cx="324.2" cy="306.1" r="2"/><circle cx="345.8" cy="308.2" r="2"/><circle cx="374.0" cy="308.7" r="2"/><circle cx="326.0" cy="306.1" r="2"/><circle cx="346.8" cy="302.8" r="2"/><circle cx="359.0" cy="307.7" r="2"/><circle cx="375.1" cy="302.2" r="2"/><circle cx="409.0" cy="309.1" r="2"/><circle cx="406.7" cy="305.8" r="2"/><circle cx="349.9" cy="304.0" r="2"/><circle cx="331.3" cy="305.2" r="2"/><circle cx="432.8" cy="308.1" r="2"/><circle cx="365.4" cy="306.9" r="2"/><circle cx="357.1" cy="305.1" r="2"/><circle cx="297.7" cy="303.1" r="2"/><circle cx="370.8" cy="306.2" r="2"/><circle cx="310.3" cy="306.8" r="2"/><circle cx="322.7" cy="306.3" r="2"/><circle cx="288.6" cy="302.7" r="2"/><circle cx="320.4" cy="307.3" r="2"/><circle cx="342.9" cy="308.0" r="2"/><circle cx="282.2" cy="303.7" r="2"/><circle cx="305.7" cy="308.4" r="2"/><circle cx="337.5" cy="302.9" r="2"/><circle cx="291.5" cy="305.1" r="2"/><circle cx="291.9" cy="302.9" r="2"/><circle cx="308.2" cy="307.0" r="2"/><circle cx="285.8" cy="303.8" r="2"/><circle cx="364.4" cy="308.6" r="2"/><circle cx="301.9" cy="303.8" r="2"/><circle cx="370.4" cy="306.9" r="2"/><circle cx="376.5" cy="306.0" r="2"/><circle cx="294.0" cy="303.9" r="2"/><circle cx="342.1" cy="304.4" r="2"/><circle cx="321.9" cy="305.8" r="2"/><circle cx="296.3" cy="307.3" r="2"/><circle cx="327.5" cy="303.6" r="2"/><circle cx="331.1" cy="305.7" r="2"/><circle cx="368.1" cy="307.5" r="2"/><circle cx="380.4" cy="306.5" r="2"/><circle cx="297.7" cy="303.8" r="2"/><circle cx="324.7" cy="308.8" r="2"/><circle cx="361.1" cy="306.9" r="2"/><circle cx="386.3" cy="304.3" r="2"/><circle cx="245.5" cy="306.8" r="2"/><circle cx="390.3" cy="306.3" r="2"/><circle cx="334.0" cy="308.1" r="2"/><circle cx="400.2" cy="308.9" r="2"/><circle cx="324.0" cy="306.3" r="2"/><circle cx="308.2" cy="304.3" r="2"/><circle cx="342.3" cy="307.2" r="2"/><circle cx="386.0" cy="303.1" r="2"/><circle cx="341.7" cy="304.5" r="2"/><circle cx="248.7" cy="307.3" r="2"/><circle cx="367.2" cy="303.7" r="2"/><circle cx="277.8" cy="307.4" r="2"/><circle cx="302.4" cy="303.0" r="2"/><circle cx="295.2" cy="306.8" r="2"/><circle cx="268.9" cy="309.2" r="2"/><circle cx="291.7" cy="302.7" r="2"/><circle cx="302.0" cy="305.8" r="2"/><circle cx="316.6" cy="302.6" r="2"/><circle cx="338.4" cy="308.5" r="2"/><circle cx="327.5" cy="307.8" r="2"/><circle cx="282.7" cy="306.2" r="2"/><circle cx="333.4" cy="302.4" r="2"/><circle cx="378.5" cy="308.6" r="2"/><circle cx="377.5" cy="305.5" r="2"/><circle cx="345.8" cy="303.5" r="2"/><circle cx="364.7" cy="306.4" r="2"/><circle cx="375.3" cy="306.1" r="2"/><circle cx="393.7" cy="303.2" r="2"/><circle cx="406.7" cy="306.1" r="2"/><circle cx="328.0" cy="304.0" r="2"/><circle cx="329.9" cy="304.2" r="2"/><circle cx="398.0" cy="303.6" r="2"/><circle cx="401.4" cy="307.2" r="2"/><circle cx="400.6" cy="305.9" r="2"/><circle cx="249.0" cy="308.3" r="2"/><circle cx="331.9" cy="306.8" r="2"/><circle cx="369.0" cy="303.3" r="2"/><circle cx="342.7" cy="301.9" r="2"/><circle cx="342.5" cy="306.8" r="2"/><circle cx="335.1" cy="303.5" r="2"/><circle cx="391.4" cy="305.7" r="2"/><circle cx="329.1" cy="304.0" r="2"/><circle cx="380.8" cy="306.7" r="2"/><circle cx="362.1" cy="306.6" r="2"/><circle cx="354.4" cy="307.7" r="2"/><circle cx="358.6" cy="305.5" r="2"/><circle cx="344.8" cy="308.9" r="2"/><circle cx="297.8" cy="303.3" r="2"/><circle cx="368.5" cy="307.5" r="2"/><circle cx="368.3" cy="304.6" r="2"/><circle cx="334.9" cy="305.4" r="2"/><circle cx="369.0" cy="306.7" r="2"/><circle cx="375.6" cy="302.5" r="2"/><circle cx="290.5" cy="303.6" r="2"/><circle cx="335.0" cy="303.7" r="2"/><circle cx="323.2" cy="308.4" r="2"/><circle cx="305.2" cy="306.0" r="2"/><circle cx="353.1" cy="304.3" r="2"/><circle cx="307.6" cy="308.6" r="2"/><circle cx="323.5" cy="304.0" r="2"/><circle cx="350.1" cy="303.1" r="2"/><circle cx="354.2" cy="302.1" r="2"/><circle cx="353.1" cy="305.5" r="2"/><circle cx="427.7" cy="309.0" r="2"/><circle cx="320.8" cy="307.7" r="2"/><circle cx="350.3" cy="303.1" r="2"/><circle cx="293.4" cy="308.3" r="2"/><circle cx="359.3" cy="304.6" r="2"/><circle cx="385.5" cy="304.8" r="2"/><circle cx="387.9" cy="306.3" r="2"/><circle cx="315.7" cy="303.5" r="2"/><circle cx="329.6" cy="308.4" r="2"/><circle cx="389.8" cy="305.1" r="2"/><circle cx="336.9" cy="306.4" r="2"/><circle cx="377.9" cy="303.2" r="2"/><circle cx="302.5" cy="306.5" r="2"/><circle cx="394.5" cy="308.0" r="2"/><circle cx="380.6" cy="306.9" r="2"/><circle cx="358.6" cy="305.3" r="2"/><circle cx="309.3" cy="308.7" r="2"/><circle cx="334.3" cy="302.7" r="2"/><circle cx="346.4" cy="304.3" r="2"/><circle cx="350.8" cy="306.9" r="2"/><circle cx="336.4" cy="304.6" r="2"/><circle cx="332.0" cy="301.8" r="2"/><circle cx="348.0" cy="304.7" r="2"/><circle cx="395.0" cy="306.6" r="2"/><circle cx="262.1" cy="305.8" r="2"/><circle cx="286.9" cy="304.4" r="2"/><circle cx="280.2" cy="305.0" r="2"/><circle cx="313.7" cy="307.7" r="2"/><circle cx="272.6" cy="309.1" r="2"/><circle cx="362.1" cy="306.9" r="2"/><circle cx="344.2" cy="306.0" r="2"/><circle cx="330.6" cy="303.0" r="2"/><circle cx="313.9" cy="308.6" r="2"/><circle cx="346.6" cy="302.8" r="2"/><circle cx="347.5" cy="308.8" r="2"/><circle cx="353.4" cy="306.9" r="2"/><circle cx="312.0" cy="306.3" r="2"/><circle cx="365.8" cy="302.4" r="2"/><circle cx="283.2" cy="303.3" r="2"/><circle cx="389.3" cy="309.0" r="2"/><circle cx="317.3" cy="307.8" r="2"/><circle cx="293.6" cy="306.2" r="2"/><circle cx="371.3" cy="307.3" r="2"/><circle cx="282.5" cy="303.3" r="2"/><circle cx="411.6" cy="305.8" r="2"/><circle cx="280.2" cy="307.2" r="2"/><circle cx="419.7" cy="306.2" r="2"/><circle cx="358.0" cy="304.2" r="2"/><circle cx="341.7" cy="302.7" r="2"/><circle cx="357.5" cy="302.6" r="2"/><circle cx="426.1" cy="307.3" r="2"/><circle cx="375.4" cy="303.9" r="2"/><circle cx="253.3" cy="304.9" r="2"/><circle cx="387.1" cy="305.7" r="2"/><circle cx="349.5" cy="303.7" r="2"/><circle cx="277.4" cy="306.3" r="2"/><circle cx="370.2" cy="306.5" r="2"/><circle cx="293.2" cy="307.9" r="2"/><circle cx="347.6" cy="308.6" r="2"/><circle cx="349.6" cy="306.8" r="2"/><circle cx="315.2" cy="306.7" r="2"/><circle cx="365.8" cy="305.1" r="2"/><circle cx="300.6" cy="304.6" r="2"/><circle cx="348.0" cy="303.9" r="2"/><circle cx="319.1" cy="303.5" r="2"/><circle cx="333.4" cy="304.9" r="2"/><circle cx="415.6" cy="306.5" r="2"/><circle cx="344.9" cy="304.6" r="2"/><circle cx="298.0" cy="304.4" r="2"/><circle cx="335.9" cy="302.8" r="2"/><circle cx="310.5" cy="307.4" r="2"/><circle cx="341.5" cy="302.7" r="2"/><circle cx="346.8" cy="307.8" r="2"/><circle cx="343.8" cy="309.2" r="2"/><circle cx="343.8" cy="303.2" r="2"/><circle cx="319.2" cy="307.6" r="2"/><circle cx="358.0" cy="303.0" r="2"/><circle cx="381.8" cy="306.8" r="2"/><circle cx="316.3" cy="306.7" r="2"/><circle cx="338.2" cy="302.6" r="2"/><circle cx="342.9" cy="303.5" r="2"/><circle cx="389.4" cy="308.9" r="2"/><circle cx="382.6" cy="302.7" r="2"/><circle cx="312.0" cy="307.8" r="2"/><circle cx="343.3" cy="304.2" r="2"/><circle cx="282.2" cy="303.4" r="2"/><circle cx="302.8" cy="303.3" r="2"/><circle cx="341.1" cy="305.5" r="2"/><circle cx="365.1" cy="302.3" r="2"/><circle cx="377.8" cy="304.4" r="2"/><circle cx="328.4" cy="307.4" r="2"/><circle cx="287.7" cy="303.0" r="2"/><circle cx="356.0" cy="305.0" r="2"/><circle cx="333.7" cy="306.8" r="2"/><circle cx="357.1" cy="306.0" r="2"/><circle cx="346.8" cy="307.8" r="2"/><circle cx="368.4" cy="305.1" r="2"/><circle cx="366.1" cy="305.1" r="2"/><circle cx="373.4" cy="308.1" r="2"/><circle cx="322.6" cy="306.2" r="2"/><circle cx="379.4" cy="307.4" r="2"/><circle cx="320.9" cy="302.6" r="2"/><circle cx="343.8" cy="307.8" r="2"/><circle cx="413.1" cy="305.9" r="2"/><circle cx="354.4" cy="304.4" r="2"/><circle cx="295.0" cy="305.2" r="2"/><circle cx="398.7" cy="306.9" r="2"/><circle cx="379.5" cy="307.6" r="2"/><circle cx="385.0" cy="309.2" r="2"/><circle cx="348.2" cy="307.7" r="2"/><circle cx="354.0" cy="303.1" r="2"/><circle cx="331.4" cy="307.2" r="2"/><circle cx="313.2" cy="305.4" r="2"/><circle cx="400.2" cy="307.4" r="2"/><circle cx="326.1" cy="308.8" r="2"/><circle cx="321.7" cy="306.1" r="2"/><circle cx="323.2" cy="301.8" r="2"/><circle cx="413.2" cy="307.0" r="2"/><circle cx="374.8" cy="306.9" r="2"/><circle cx="326.1" cy="304.9" r="2"/><circle cx="338.7" cy="306.5" r="2"/><circle cx="360.4" cy="307.5" r="2"/><circle cx="374.8" cy="306.5" r="2"/><circle cx="277.6" cy="303.8" r="2"/><circle cx="375.8" cy="308.3" r="2"/><circle cx="332.0" cy="308.3" r="2"/><circle cx="313.7" cy="303.7" r="2"/><circle cx="325.3" cy="307.9" r="2"/><circle cx="371.4" cy="308.3" r="2"/><circle cx="409.1" cy="307.8" r="2"/><circle cx="346.3" cy="302.5" r="2"/><circle cx="362.2" cy="302.3" r="2"/><circle cx="308.7" cy="302.5" r="2"/><circle cx="359.7" cy="306.9" r="2"/><circle cx="372.6" cy="302.7" r="2"/><circle cx="282.4" cy="308.8" r="2"/><circle cx="320.5" cy="305.7" r="2"/><circle cx="371.4" cy="305.3" r="2"/><circle cx="271.8" cy="306.7" r="2"/><circle cx="325.9" cy="301.9" r="2"/><circle cx="364.0" cy="303.7" r="2"/><circle cx="274.5" cy="306.4" r="2"/><circle cx="325.0" cy="303.7" r="2"/><circle cx="342.6" cy="303.4" r="2"/><circle cx="375.3" cy="308.5" r="2"/><circle cx="290.6" cy="307.1" r="2"/><circle cx="383.8" cy="307.0" r="2"/><circle cx="352.4" cy="302.1" r="2"/><circle cx="387.2" cy="303.5" r="2"/><circle cx="385.9" cy="307.2" r="2"/><circle cx="353.8" cy="301.8" r="2"/><circle cx="359.5" cy="308.7" r="2"/><circle cx="272.6" cy="307.3" r="2"/><circle cx="287.8" cy="307.9" r="2"/><circle cx="301.3" cy="305.6" r="2"/><circle cx="326.9" cy="302.4" r="2"/><circle cx="376.9" cy="303.7" r="2"/><circle cx="270.9" cy="309.0" r="2"/><circle cx="328.0" cy="307.4" r="2"/><circle cx="288.9" cy="304.2" r="2"/><circle cx="279.7" cy="307.5" r="2"/><circle cx="398.2" cy="304.1" r="2"/><circle cx="344.3" cy="304.5" r="2"/><circle cx="404.3" cy="305.1" r="2"/><circle cx="386.7" cy="304.4" r="2"/><circle cx="304.5" cy="305.2" r="2"/><circle cx="268.1" cy="308.2" r="2"/><circle cx="421.3" cy="305.2" r="2"/><circle cx="324.7" cy="305.0" r="2"/><circle cx="295.8" cy="304.3" r="2"/><circle cx="367.5" cy="309.1" r="2"/><circle cx="345.8" cy="307.9" r="2"/><circle cx="314.3" cy="305.1" r="2"/><circle cx="327.0" cy="303.2" r="2"/><circle cx="346.8" cy="306.5" r="2"/><circle cx="343.4" cy="303.5" r="2"/><circle cx="370.0" cy="309.3" r="2"/><circle cx="326.7" cy="309.0" r="2"/><circle cx="327.1" cy="304.1" r="2"/><circle cx="363.9" cy="301.9" r="2"/><circle cx="352.7" cy="306.9" r="2"/><circle cx="383.2" cy="306.9" r="2"/><circle cx="330.7" cy="306.7" r="2"/><circle cx="336.7" cy="304.9" r="2"/><circle cx="295.4" cy="306.6" r="2"/><circle cx="399.0" cy="307.0" r="2"/><circle cx="286.1" cy="304.3" r="2"/><circle cx="348.4" cy="309.3" r="2"/><circle cx="305.7" cy="303.0" r="2"/><circle cx="353.7" cy="303.7" r="2"/><circle cx="369.6" cy="302.3" r="2"/><circle cx="276.5" cy="304.2" r="2"/><circle cx="332.3" cy="303.2" r="2"/><circle cx="271.9" cy="307.6" r="2"/><circle cx="395.3" cy="304.3" r="2"/><circle cx="323.2" cy="304.8" r="2"/><circle cx="279.0" cy="307.1" r="2"/><circle cx="313.1" cy="303.3" r="2"/><circle cx="391.7" cy="306.0" r="2"/><circle cx="398.6" cy="303.1" r="2"/><circle cx="390.1" cy="304.5" r="2"/><circle cx="309.9" cy="302.9" r="2"/><circle cx="334.6" cy="302.4" r="2"/><circle cx="404.3" cy="305.8" r="2"/><circle cx="311.9" cy="302.7" r="2"/><circle cx="327.4" cy="304.8" r="2"/><circle cx="303.3" cy="305.7" r="2"/><circle cx="295.1" cy="302.5" r="2"/><circle cx="387.6" cy="304.6" r="2"/><circle cx="365.1" cy="304.2" r="2"/><circle cx="358.1" cy="301.8" r="2"/><circle cx="363.1" cy="304.6" r="2"/><circle cx="380.4" cy="309.2" r="2"/><circle cx="399.5" cy="305.1" r="2"/><circle cx="340.2" cy="304.5" r="2"/><circle cx="327.2" cy="303.8" r="2"/><circle cx="300.5" cy="302.5" r="2"/><circle cx="382.8" cy="304.2" r="2"/><circle cx="320.4" cy="301.8" r="2"/><circle cx="282.2" cy="304.3" r="2"/><circle cx="330.0" cy="301.8" r="2"/><circle cx="341.5" cy="306.0" r="2"/><circle cx="373.0" cy="307.5" r="2"/><circle cx="379.7" cy="305.4" r="2"/><circle cx="312.0" cy="302.8" r="2"/><circle cx="309.3" cy="303.0" r="2"/><circle cx="327.7" cy="304.2" r="2"/><circle cx="293.2" cy="306.5" r="2"/><circle cx="336.2" cy="307.2" r="2"/><circle cx="358.5" cy="309.1" r="2"/><circle cx="342.2" cy="306.1" r="2"/><circle cx="277.5" cy="306.2" r="2"/><circle cx="294.0" cy="302.6" r="2"/><circle cx="390.7" cy="305.5" r="2"/><circle cx="300.9" cy="305.2" r="2"/><circle cx="369.3" cy="305.9" r="2"/><circle cx="365.2" cy="309.2" r="2"/><circle cx="327.9" cy="307.1" r="2"/><circle cx="301.6" cy="304.7" r="2"/><circle cx="348.7" cy="303.9" r="2"/><circle cx="305.9" cy="302.5" r="2"/><circle cx="333.6" cy="305.6" r="2"/><circle cx="344.6" cy="304.0" r="2"/><circle cx="312.5" cy="303.4" r="2"/><circle cx="331.6" cy="303.5" r="2"/><circle cx="328.5" cy="308.3" r="2"/><circle cx="292.3" cy="303.3" r="2"/><circle cx="333.1" cy="303.5" r="2"/><circle cx="315.6" cy="304.3" r="2"/><circle cx="269.3" cy="308.4" r="2"/><circle cx="327.3" cy="302.1" r="2"/><circle cx="329.5" cy="304.1" r="2"/><circle cx="316.9" cy="307.9" r="2"/><circle cx="260.0" cy="306.3" r="2"/><circle cx="370.8" cy="308.2" r="2"/><circle cx="367.2" cy="308.9" r="2"/><circle cx="365.9" cy="304.0" r="2"/><circle cx="353.2" cy="303.7" r="2"/><circle cx="291.4" cy="305.8" r="2"/><circle cx="345.3" cy="308.1" r="2"/><circle cx="304.3" cy="306.9" r="2"/><circle cx="425.9" cy="308.7" r="2"/><circle cx="320.2" cy="307.6" r="2"/><circle cx="366.6" cy="308.8" r="2"/><circle cx="279.9" cy="305.2" r="2"/><circle cx="294.4" cy="304.0" r="2"/><circle cx="319.6" cy="305.4" r="2"/><circle cx="367.9" cy="304.4" r="2"/><circle cx="361.9" cy="308.2" r="2"/><circle cx="351.7" cy="302.4" r="2"/><circle cx="268.1" cy="306.0" r="2"/><circle cx="384.7" cy="308.4" r="2"/><circle cx="304.3" cy="305.5" r="2"/><circle cx="403.6" cy="306.5" r="2"/><circle cx="413.4" cy="304.5" r="2"/><circle cx="372.8" cy="303.9" r="2"/><circle cx="379.1" cy="308.6" r="2"/><circle cx="291.3" cy="305.0" r="2"/><circle cx="441.3" cy="309.0" r="2"/><circle cx="349.0" cy="305.5" r="2"/><circle cx="379.5" cy="303.4" r="2"/><circle cx="307.0" cy="307.9" r="2"/><circle cx="338.0" cy="304.3" r="2"/><circle cx="294.2" cy="306.5" r="2"/><circle cx="331.1" cy="308.4" r="2"/><circle cx="341.1" cy="302.5" r="2"/><circle cx="350.5" cy="303.8" r="2"/><circle cx="395.0" cy="307.5" r="2"/><circle cx="359.3" cy="307.8" r="2"/><circle cx="350.0" cy="306.6" r="2"/><circle cx="342.0" cy="303.8" r="2"/><circle cx="419.0" cy="304.6" r="2"/><circle cx="317.9" cy="305.4" r="2"/><circle cx="386.9" cy="309.2" r="2"/><circle cx="263.9" cy="309.1" r="2"/><circle cx="306.2" cy="307.5" r="2"/><circle cx="356.5" cy="303.4" r="2"/><circle cx="334.2" cy="308.0" r="2"/><circle cx="441.2" cy="307.2" r="2"/><circle cx="281.2" cy="309.1" r="2"/><circle cx="298.7" cy="307.0" r="2"/><circle cx="335.0" cy="304.2" r="2"/><circle cx="408.4" cy="305.3" r="2"/><circle cx="384.9" cy="309.1" r="2"/><circle cx="353.3" cy="308.0" r="2"/><circle cx="285.3" cy="307.8" r="2"/><circle cx="307.5" cy="307.4" r="2"/><circle cx="235.7" cy="308.0" r="2"/><circle cx="280.6" cy="304.4" r="2"/><circle cx="357.2" cy="308.5" r="2"/><circle cx="371.4" cy="307.6" r="2"/><circle cx="289.7" cy="306.1" r="2"/><circle cx="344.9" cy="303.3" r="2"/><circle cx="404.1" cy="304.6" r="2"/><circle cx="347.0" cy="308.5" r="2"/><circle cx="328.7" cy="305.2" r="2"/><circle cx="364.6" cy="304.5" r="2"/><circle cx="361.3" cy="306.0" r="2"/><circle cx="343.8" cy="302.8" r="2"/><circle cx="319.8" cy="308.5" r="2"/><circle cx="324.1" cy="305.1" r="2"/><circle cx="344.2" cy="303.8" r="2"/><circle cx="319.3" cy="302.0" r="2"/><circle cx="392.7" cy="309.2" r="2"/><circle cx="375.6" cy="304.1" r="2"/><circle cx="383.2" cy="306.9" r="2"/><circle cx="419.9" cy="305.5" r="2"/><circle cx="402.4" cy="306.0" r="2"/><circle cx="396.1" cy="304.3" r="2"/><circle cx="355.2" cy="308.0" r="2"/><circle cx="333.2" cy="302.3" r="2"/><circle cx="430.5" cy="307.5" r="2"/><circle cx="314.4" cy="303.4" r="2"/><circle cx="316.5" cy="307.1" r="2"/><circle cx="306.7" cy="308.3" r="2"/><circle cx="349.1" cy="306.7" r="2"/><circle cx="357.0" cy="304.2" r="2"/><circle cx="380.9" cy="302.9" r="2"/><circle cx="331.9" cy="305.5" r="2"/><circle cx="273.0" cy="307.3" r="2"/><circle cx="353.1" cy="302.2" r="2"/><circle cx="378.7" cy="304.1" r="2"/><circle cx="341.9" cy="305.8" r="2"/><circle cx="335.4" cy="304.3" r="2"/><circle cx="362.6" cy="307.4" r="2"/><circle cx="396.6" cy="306.1" r="2"/><circle cx="338.1" cy="306.2" r="2"/><circle cx="285.2" cy="307.7" r="2"/><circle cx="318.6" cy="308.6" r="2"/><circle cx="334.2" cy="307.5" r="2"/><circle cx="270.3" cy="304.8" r="2"/><circle cx="370.7" cy="303.7" r="2"/><circle cx="310.7" cy="306.1" r="2"/><circle cx="360.5" cy="302.7" r="2"/><circle cx="348.2" cy="308.1" r="2"/><circle cx="328.5" cy="303.7" r="2"/><circle cx="404.2" cy="304.7" r="2"/><circle cx="318.7" cy="308.8" r="2"/><circle cx="314.3" cy="302.9" r="2"/><circle cx="352.0" cy="303.4" r="2"/><circle cx="373.3" cy="305.9" r="2"/><circle cx="340.5" cy="305.5" r="2"/><circle cx="302.2" cy="305.2" r="2"/><circle cx="367.5" cy="305.8" r="2"/><circle cx="364.1" cy="308.9" r="2"/><circle cx="421.5" cy="307.1" r="2"/><circle cx="331.9" cy="302.7" r="2"/><circle cx="225.8" cy="307.3" r="2"/><circle cx="227.3" cy="308.2" r="2"/><circle cx="228.8" cy="306.1" r="2"/><circle cx="230.3" cy="307.6" r="2"/><circle cx="231.8" cy="308.4" r="2"/><circle cx="233.4" cy="307.1" r="2"/><circle cx="234.9" cy="308.4" r="2"/><circle cx="236.4" cy="307.0" r="2"/><circle cx="237.9" cy="306.8" r="2"/><circle cx="239.4" cy="308.4" r="2"/><circle cx="240.9" cy="308.0" r="2"/><circle cx="242.4" cy="307.1" r="2"/><circle cx="243.9" cy="308.3" r="2"/><circle cx="245.4" cy="306.3" r="2"/><circle cx="246.9" cy="306.6" r="2"/><circle cx="248.4" cy="308.4" r="2"/><circle cx="249.9" cy="307.1" r="2"/><circle cx="251.4" cy="307.1" r="2"/><circle cx="252.9" cy="307.8" r="2"/><circle cx="254.4" cy="306.9" r="2"/><circle cx="256.0" cy="307.6" r="2"/><circle cx="257.5" cy="307.6" r="2"/><circle cx="259.0" cy="307.7" r="2"/><circle cx="260.5" cy="307.1" r="2"/><circle cx="262.0" cy="309.0" r="2"/><circle cx="263.5" cy="307.0" r="2"/><circle cx="265.0" cy="308.6" r="2"/><circle cx="266.5" cy="308.3" r="2"/><circle cx="268.0" cy="306.4" r="2"/><circle cx="269.5" cy="308.3" r="2"/><circle cx="271.0" cy="307.0" r="2"/><circle cx="272.5" cy="308.2" r="2"/><circle cx="274.0" cy="305.8" r="2"/><circle cx="275.5" cy="305.8" r="2"/><circle cx="277.0" cy="307.9" r="2"/><circle cx="278.6" cy="306.0" r="2"/><circle cx="280.1" cy="306.0" r="2"/><circle cx="281.6" cy="308.3" r="2"/><circle cx="283.1" cy="307.8" r="2"/><circle cx="284.6" cy="308.4" r="2"/><circle cx="286.1" cy="308.3" r="2"/><circle cx="287.6" cy="307.3" r="2"/><circle cx="289.1" cy="307.4" r="2"/><circle cx="290.6" cy="307.5" r="2"/><circle cx="292.1" cy="308.4" r="2"/><circle cx="293.6" cy="307.3" r="2"/><circle cx="295.1" cy="305.9" r="2"/><circle cx="296.6" cy="307.8" r="2"/><circle cx="298.1" cy="306.8" r="2"/><circle cx="299.6" cy="308.3" r="2"/><circle cx="301.1" cy="306.6" r="2"/><circle cx="302.7" cy="307.1" r="2"/><circle cx="304.2" cy="306.0" r="2"/><circle cx="305.7" cy="308.7" r="2"/><circle cx="307.2" cy="306.9" r="2"/><circle cx="308.7" cy="307.6" r="2"/><circle cx="310.2" cy="307.8" r="2"/><circle cx="311.7" cy="307.9" r="2"/><circle cx="313.2" cy="306.1" r="2"/><circle cx="314.7" cy="308.2" r="2"/><circle cx="316.2" cy="307.0" r="2"/><circle cx="317.7" cy="308.9" r="2"/><circle cx="319.2" cy="305.9" r="2"/><circle cx="320.7" cy="306.4" r="2"/><circle cx="322.2" cy="306.8" r="2"/><circle cx="323.7" cy="307.3" r="2"/><circle cx="325.3" cy="307.8" r="2"/><circle cx="326.8" cy="307.6" r="2"/><circle cx="328.3" cy="306.9" r="2"/><circle cx="329.8" cy="307.3" r="2"/><circle cx="331.3" cy="306.1" r="2"/><circle cx="332.8" cy="307.9" r="2"/><circle cx="334.3" cy="306.2" r="2"/><circle cx="335.8" cy="308.0" r="2"/><circle cx="337.3" cy="308.5" r="2"/><circle cx="338.8" cy="308.6" r="2"/><circle cx="340.3" cy="308.1" r="2"/><circle cx="341.8" cy="306.0" r="2"/><circle cx="343.3" cy="306.4" r="2"/><circle cx="344.8" cy="306.6" r="2"/><circle cx="346.3" cy="308.0" r="2"/><circle cx="347.9" cy="308.3" r="2"/><circle cx="349.4" cy="307.8" r="2"/><circle cx="350.9" cy="306.8" r="2"/><circle cx="352.4" cy="308.5" r="2"/><circle cx="353.9" cy="307.3" r="2"/><circle cx="355.4" cy="307.8" r="2"/><circle cx="356.9" cy="306.5" r="2"/><circle cx="358.4" cy="306.9" r="2"/><circle cx="359.9" cy="308.5" r="2"/><circle cx="361.4" cy="308.0" r="2"/><circle cx="362.9" cy="306.4" r="2"/><circle cx="364.4" cy="306.1" r="2"/><circle cx="365.9" cy="307.3" r="2"/><circle cx="367.4" cy="306.3" r="2"/><circle cx="368.9" cy="308.3" r="2"/><circle cx="370.5" cy="307.7" r="2"/><circle cx="372.0" cy="306.9" r="2"/><circle cx="373.5" cy="308.9" r="2"/><circle cx="375.0" cy="307.3" r="2"/><circle cx="376.5" cy="306.2" r="2"/><circle cx="378.0" cy="308.3" r="2"/><circle cx="379.5" cy="309.0" r="2"/><circle cx="381.0" cy="306.9" r="2"/><circle cx="382.5" cy="306.9" r="2"/><circle cx="384.0" cy="308.2" r="2"/><circle cx="385.5" cy="307.9" r="2"/><circle cx="387.0" cy="307.9" r="2"/><circle cx="388.5" cy="308.7" r="2"/><circle cx="390.0" cy="306.6" r="2"/><circle cx="391.5" cy="308.3" r="2"/><circle cx="393.1" cy="306.5" r="2"/><circle cx="394.6" cy="306.9" r="2"/><circle cx="396.1" cy="308.7" r="2"/><circle cx="397.6" cy="306.6" r="2"/><circle cx="399.1" cy="308.5" r="2"/><circle cx="400.6" cy="306.9" r="2"/><circle cx="402.1" cy="308.7" r="2"/><circle cx="403.6" cy="307.1" r="2"/><circle cx="405.1" cy="307.6" r="2"/><circle cx="406.6" cy="307.3" r="2"/><circle cx="408.1" cy="306.6" r="2"/><circle cx="409.6" cy="306.6" r="2"/><circle cx="411.1" cy="308.9" r="2"/><circle cx="412.6" cy="308.5" r="2"/><circle cx="414.1" cy="305.8" r="2"/><circle cx="415.6" cy="307.6" r="2"/><circle cx="417.2" cy="306.3" r="2"/><circle cx="418.7" cy="307.2" r="2"/><circle cx="420.2" cy="306.5" r="2"/><circle cx="421.7" cy="308.8" r="2"/><circle cx="423.2" cy="307.4" r="2"/><circle cx="424.7" cy="306.6" r="2"/><circle cx="426.2" cy="307.7" r="2"/><circle cx="427.7" cy="306.7" r="2"/><circle cx="429.2" cy="306.3" r="2"/><circle cx="430.7" cy="306.4" r="2"/><circle cx="432.2" cy="308.3" r="2"/><circle cx="433.7" cy="306.1" r="2"/><circle cx="435.2" cy="307.1" r="2"/><circle cx="436.7" cy="308.4" r="2"/><circle cx="438.2" cy="306.4" r="2"/><circle cx="439.8" cy="308.2" r="2"/><circle cx="441.3" cy="307.9" r="2"/><circle cx="442.8" cy="307.6" r="2"/><circle cx="444.3" cy="307.4" r="2"/><circle cx="445.8" cy="308.4" r="2"/><circle cx="447.3" cy="306.2" r="2"/><circle cx="448.8" cy="306.3" r="2"/><circle cx="450.3" cy="308.0" r="2"/><circle cx="457.6" cy="305.5" r="2"/><circle cx="478.4" cy="305.8" r="2"/><circle cx="468.6" cy="307.2" r="2"/><circle cx="461.3" cy="308.1" r="2"/><circle cx="445.4" cy="306.1" r="2"/><circle cx="227.0" cy="306.3" r="2"/></g>
<path d="M233.1,310.8 L233.1,306.9 L279.5,304.3 L316.1,301.6 L371.0,301.6 L401.5,303.7 L445.4,306.6 L445.4,310.8 Z" fill="#d4d4d4"/>
<g fill="#1070b3"><circle cx="332.6" cy="261.6" r="2.05"/><circle cx="337.2" cy="292.9" r="2.05"/><circle cx="329.4" cy="275.2" r="2.05"/><circle cx="335.8" cy="296.7" r="2.05"/><circle cx="333.6" cy="271.7" r="2.05"/><circle cx="339.2" cy="292.1" r="2.05"/><circle cx="331.1" cy="269.2" r="2.05"/><circle cx="333.4" cy="265.1" r="2.05"/><circle cx="335.0" cy="284.9" r="2.05"/><circle cx="328.2" cy="291.7" r="2.05"/><circle cx="327.5" cy="293.4" r="2.05"/><circle cx="334.4" cy="291.2" r="2.05"/><circle cx="333.9" cy="287.5" r="2.05"/><circle cx="328.9" cy="295.1" r="2.05"/><circle cx="329.8" cy="288.5" r="2.05"/><circle cx="330.7" cy="296.2" r="2.05"/><circle cx="331.6" cy="276.9" r="2.05"/><circle cx="330.7" cy="293.9" r="2.05"/><circle cx="336.3" cy="281.4" r="2.05"/><circle cx="335.3" cy="272.9" r="2.05"/><circle cx="338.6" cy="293.6" r="2.05"/><circle cx="336.8" cy="292.7" r="2.05"/><circle cx="335.5" cy="282.1" r="2.05"/><circle cx="335.7" cy="288.4" r="2.05"/><circle cx="331.1" cy="292.4" r="2.05"/><circle cx="334.2" cy="293.7" r="2.05"/><circle cx="339.6" cy="295.3" r="2.05"/><circle cx="330.9" cy="296.0" r="2.05"/><circle cx="332.4" cy="284.1" r="2.05"/><circle cx="334.1" cy="294.3" r="2.05"/><circle cx="334.8" cy="284.1" r="2.05"/><circle cx="337.4" cy="291.8" r="2.05"/><circle cx="336.8" cy="287.5" r="2.05"/><circle cx="335.0" cy="285.5" r="2.05"/><circle cx="335.4" cy="281.4" r="2.05"/><circle cx="329.8" cy="295.7" r="2.05"/><circle cx="336.9" cy="288.0" r="2.05"/><circle cx="329.2" cy="288.5" r="2.05"/><circle cx="331.0" cy="292.5" r="2.05"/><circle cx="329.7" cy="294.1" r="2.05"/><circle cx="337.0" cy="285.1" r="2.05"/><circle cx="330.1" cy="282.7" r="2.05"/><circle cx="332.1" cy="292.9" r="2.05"/><circle cx="330.3" cy="293.2" r="2.05"/><circle cx="337.6" cy="295.9" r="2.05"/><circle cx="332.2" cy="274.2" r="2.05"/><circle cx="332.7" cy="289.3" r="2.05"/><circle cx="327.8" cy="296.6" r="2.05"/><circle cx="334.2" cy="292.4" r="2.05"/><circle cx="336.9" cy="284.2" r="2.05"/><circle cx="333.3" cy="296.4" r="2.05"/><circle cx="333.8" cy="267.9" r="2.05"/><circle cx="336.9" cy="281.2" r="2.05"/><circle cx="329.4" cy="289.6" r="2.05"/><circle cx="335.8" cy="295.6" r="2.05"/><circle cx="335.8" cy="295.0" r="2.05"/><circle cx="336.5" cy="290.3" r="2.05"/><circle cx="335.7" cy="283.0" r="2.05"/><circle cx="335.0" cy="274.8" r="2.05"/><circle cx="331.0" cy="296.7" r="2.05"/><circle cx="330.5" cy="277.3" r="2.05"/><circle cx="333.3" cy="276.5" r="2.05"/><circle cx="335.5" cy="296.7" r="2.05"/><circle cx="331.8" cy="280.7" r="2.05"/><circle cx="334.2" cy="296.7" r="2.05"/><circle cx="326.8" cy="292.7" r="2.05"/><circle cx="334.7" cy="295.7" r="2.05"/><circle cx="327.9" cy="292.1" r="2.05"/><circle cx="330.3" cy="294.8" r="2.05"/><circle cx="339.5" cy="292.5" r="2.05"/><circle cx="331.1" cy="280.1" r="2.05"/><circle cx="333.1" cy="262.9" r="2.05"/><circle cx="335.0" cy="276.6" r="2.05"/><circle cx="335.3" cy="295.3" r="2.05"/><circle cx="325.2" cy="288.5" r="2.05"/><circle cx="336.9" cy="293.1" r="2.05"/><circle cx="335.3" cy="289.9" r="2.05"/><circle cx="331.2" cy="280.7" r="2.05"/><circle cx="333.5" cy="279.7" r="2.05"/><circle cx="332.4" cy="279.3" r="2.05"/><circle cx="330.7" cy="280.4" r="2.05"/><circle cx="335.2" cy="295.1" r="2.05"/><circle cx="332.2" cy="295.1" r="2.05"/><circle cx="334.2" cy="276.8" r="2.05"/><circle cx="337.4" cy="291.4" r="2.05"/><circle cx="336.1" cy="288.6" r="2.05"/><circle cx="330.2" cy="293.8" r="2.05"/><circle cx="334.8" cy="271.2" r="2.05"/><circle cx="333.5" cy="291.4" r="2.05"/><circle cx="333.9" cy="270.0" r="2.05"/><circle cx="336.9" cy="295.3" r="2.05"/><circle cx="332.7" cy="290.4" r="2.05"/><circle cx="328.2" cy="294.9" r="2.05"/><circle cx="326.2" cy="282.8" r="2.05"/><circle cx="333.0" cy="295.9" r="2.05"/><circle cx="335.3" cy="279.9" r="2.05"/><circle cx="338.4" cy="290.9" r="2.05"/><circle cx="329.8" cy="291.9" r="2.05"/><circle cx="337.7" cy="292.8" r="2.05"/><circle cx="335.0" cy="276.4" r="2.05"/><circle cx="334.9" cy="294.2" r="2.05"/><circle cx="333.7" cy="278.3" r="2.05"/><circle cx="329.5" cy="293.2" r="2.05"/><circle cx="331.7" cy="274.7" r="2.05"/><circle cx="338.4" cy="296.3" r="2.05"/><circle cx="338.5" cy="293.2" r="2.05"/><circle cx="335.2" cy="283.1" r="2.05"/><circle cx="335.1" cy="290.7" r="2.05"/><circle cx="330.5" cy="283.7" r="2.05"/><circle cx="332.2" cy="289.9" r="2.05"/><circle cx="339.4" cy="292.2" r="2.05"/><circle cx="330.3" cy="294.2" r="2.05"/><circle cx="337.4" cy="290.0" r="2.05"/><circle cx="330.6" cy="295.9" r="2.05"/><circle cx="331.9" cy="275.6" r="2.05"/><circle cx="337.5" cy="292.8" r="2.05"/><circle cx="333.5" cy="292.3" r="2.05"/><circle cx="335.6" cy="277.6" r="2.05"/><circle cx="339.0" cy="296.4" r="2.05"/><circle cx="331.2" cy="287.4" r="2.05"/><circle cx="334.3" cy="281.3" r="2.05"/><circle cx="333.1" cy="271.3" r="2.05"/><circle cx="335.3" cy="290.6" r="2.05"/><circle cx="337.2" cy="291.9" r="2.05"/><circle cx="334.3" cy="274.2" r="2.05"/><circle cx="335.4" cy="293.0" r="2.05"/><circle cx="336.6" cy="294.5" r="2.05"/><circle cx="338.2" cy="296.5" r="2.05"/><circle cx="329.6" cy="289.8" r="2.05"/><circle cx="326.9" cy="294.3" r="2.05"/><circle cx="335.9" cy="290.4" r="2.05"/><circle cx="331.6" cy="292.2" r="2.05"/><circle cx="329.1" cy="280.3" r="2.05"/><circle cx="332.6" cy="263.8" r="2.05"/><circle cx="338.1" cy="295.2" r="2.05"/><circle cx="332.8" cy="288.8" r="2.05"/><circle cx="335.5" cy="293.5" r="2.05"/><circle cx="332.1" cy="294.7" r="2.05"/><circle cx="331.7" cy="284.3" r="2.05"/><circle cx="332.6" cy="263.8" r="2.05"/><circle cx="333.1" cy="291.3" r="2.05"/><circle cx="334.7" cy="275.3" r="2.05"/><circle cx="333.0" cy="293.3" r="2.05"/><circle cx="336.8" cy="280.7" r="2.05"/><circle cx="327.2" cy="285.4" r="2.05"/><circle cx="333.5" cy="281.8" r="2.05"/><circle cx="332.7" cy="290.7" r="2.05"/><circle cx="333.6" cy="274.5" r="2.05"/><circle cx="333.3" cy="274.0" r="2.05"/><circle cx="333.8" cy="284.2" r="2.05"/><circle cx="331.4" cy="285.6" r="2.05"/><circle cx="338.6" cy="296.2" r="2.05"/><circle cx="335.3" cy="290.2" r="2.05"/><circle cx="327.3" cy="288.6" r="2.05"/><circle cx="334.9" cy="288.4" r="2.05"/><circle cx="334.2" cy="296.7" r="2.05"/><circle cx="336.2" cy="286.1" r="2.05"/><circle cx="331.0" cy="293.9" r="2.05"/><circle cx="337.8" cy="296.7" r="2.05"/><circle cx="330.5" cy="287.3" r="2.05"/><circle cx="331.9" cy="266.1" r="2.05"/><circle cx="338.3" cy="295.8" r="2.05"/><circle cx="333.5" cy="294.2" r="2.05"/><circle cx="335.9" cy="292.4" r="2.05"/><circle cx="338.2" cy="291.9" r="2.05"/><circle cx="332.2" cy="289.6" r="2.05"/><circle cx="335.7" cy="281.3" r="2.05"/><circle cx="335.1" cy="272.2" r="2.05"/><circle cx="332.8" cy="275.3" r="2.05"/><circle cx="325.8" cy="291.5" r="2.05"/><circle cx="330.9" cy="284.3" r="2.05"/><circle cx="332.7" cy="293.9" r="2.05"/><circle cx="335.5" cy="292.3" r="2.05"/><circle cx="334.2" cy="295.9" r="2.05"/><circle cx="329.0" cy="289.5" r="2.05"/><circle cx="334.1" cy="294.8" r="2.05"/><circle cx="337.5" cy="289.5" r="2.05"/><circle cx="331.0" cy="286.0" r="2.05"/><circle cx="331.3" cy="295.6" r="2.05"/><circle cx="334.2" cy="296.7" r="2.05"/><circle cx="336.2" cy="279.4" r="2.05"/><circle cx="335.9" cy="279.7" r="2.05"/><circle cx="334.9" cy="295.8" r="2.05"/><circle cx="333.8" cy="267.1" r="2.05"/><circle cx="332.0" cy="264.6" r="2.05"/><circle cx="333.8" cy="291.1" r="2.05"/><circle cx="334.7" cy="289.7" r="2.05"/><circle cx="334.9" cy="282.6" r="2.05"/><circle cx="334.8" cy="281.2" r="2.05"/><circle cx="330.1" cy="286.6" r="2.05"/><circle cx="328.9" cy="290.2" r="2.05"/><circle cx="337.2" cy="294.6" r="2.05"/><circle cx="336.0" cy="283.6" r="2.05"/><circle cx="338.9" cy="293.1" r="2.05"/><circle cx="331.8" cy="295.3" r="2.05"/><circle cx="332.4" cy="270.7" r="2.05"/><circle cx="326.7" cy="289.7" r="2.05"/><circle cx="331.5" cy="286.1" r="2.05"/><circle cx="335.2" cy="294.2" r="2.05"/><circle cx="331.3" cy="283.4" r="2.05"/><circle cx="327.4" cy="295.9" r="2.05"/><circle cx="333.8" cy="295.7" r="2.05"/><circle cx="334.7" cy="293.8" r="2.05"/><circle cx="334.7" cy="294.3" r="2.05"/><circle cx="333.7" cy="280.7" r="2.05"/><circle cx="332.1" cy="293.2" r="2.05"/><circle cx="330.0" cy="293.8" r="2.05"/><circle cx="335.2" cy="296.9" r="2.05"/><circle cx="336.7" cy="290.9" r="2.05"/><circle cx="329.7" cy="289.8" r="2.05"/><circle cx="326.2" cy="289.3" r="2.05"/><circle cx="335.9" cy="296.9" r="2.05"/><circle cx="335.4" cy="278.2" r="2.05"/><circle cx="330.8" cy="294.2" r="2.05"/><circle cx="329.2" cy="291.1" r="2.05"/><circle cx="338.8" cy="296.8" r="2.05"/><circle cx="333.9" cy="266.7" r="2.05"/><circle cx="337.0" cy="294.5" r="2.05"/><circle cx="338.1" cy="291.0" r="2.05"/><circle cx="334.1" cy="294.0" r="2.05"/><circle cx="335.6" cy="276.5" r="2.05"/><circle cx="334.9" cy="280.5" r="2.05"/><circle cx="333.2" cy="286.2" r="2.05"/><circle cx="333.1" cy="288.8" r="2.05"/><circle cx="329.9" cy="283.3" r="2.05"/><circle cx="330.1" cy="285.7" r="2.05"/><circle cx="332.6" cy="286.4" r="2.05"/><circle cx="334.2" cy="276.1" r="2.05"/><circle cx="331.0" cy="270.1" r="2.05"/><circle cx="334.0" cy="293.2" r="2.05"/><circle cx="329.6" cy="296.1" r="2.05"/><circle cx="331.1" cy="297.0" r="2.05"/><circle cx="333.6" cy="296.4" r="2.05"/><circle cx="335.8" cy="296.6" r="2.05"/><circle cx="338.0" cy="297.0" r="2.05"/><circle cx="339.7" cy="297.0" r="2.05"/><circle cx="330.0" cy="293.9" r="2.05"/><circle cx="331.7" cy="294.1" r="2.05"/><circle cx="333.7" cy="293.9" r="2.05"/><circle cx="336.0" cy="294.5" r="2.05"/><circle cx="337.8" cy="294.3" r="2.05"/><circle cx="329.3" cy="292.5" r="2.05"/><circle cx="331.3" cy="292.5" r="2.05"/><circle cx="334.2" cy="292.4" r="2.05"/><circle cx="336.1" cy="292.8" r="2.05"/><circle cx="337.5" cy="292.7" r="2.05"/><circle cx="330.1" cy="290.6" r="2.05"/><circle cx="331.6" cy="290.0" r="2.05"/><circle cx="334.0" cy="290.6" r="2.05"/><circle cx="336.1" cy="290.6" r="2.05"/><circle cx="338.0" cy="290.2" r="2.05"/><circle cx="330.5" cy="288.3" r="2.05"/><circle cx="331.8" cy="287.9" r="2.05"/><circle cx="334.6" cy="287.7" r="2.05"/><circle cx="336.1" cy="287.6" r="2.05"/><circle cx="338.0" cy="288.5" r="2.05"/><circle cx="330.6" cy="285.7" r="2.05"/><circle cx="332.4" cy="285.8" r="2.05"/><circle cx="334.2" cy="285.5" r="2.05"/><circle cx="336.4" cy="285.7" r="2.05"/><circle cx="330.9" cy="283.9" r="2.05"/><circle cx="332.1" cy="283.5" r="2.05"/><circle cx="335.1" cy="284.2" r="2.05"/><circle cx="337.2" cy="284.4" r="2.05"/><circle cx="331.1" cy="281.3" r="2.05"/><circle cx="333.4" cy="282.3" r="2.05"/><circle cx="335.5" cy="281.5" r="2.05"/><circle cx="337.5" cy="281.6" r="2.05"/><circle cx="331.2" cy="279.4" r="2.05"/><circle cx="333.7" cy="279.9" r="2.05"/><circle cx="335.6" cy="279.3" r="2.05"/><circle cx="323.5" cy="161.7" r="2.05"/><circle cx="324.2" cy="163.9" r="2.05"/><circle cx="324.5" cy="173.8" r="2.05"/><circle cx="324.5" cy="180.6" r="2.05"/><circle cx="326.0" cy="186.8" r="2.05"/><circle cx="326.0" cy="189.5" r="2.05"/><circle cx="326.3" cy="192.7" r="2.05"/><circle cx="318.0" cy="203.6" r="2.05"/><circle cx="326.5" cy="200.9" r="2.05"/><circle cx="327.2" cy="202.1" r="2.05"/><circle cx="327.6" cy="212.5" r="2.05"/><circle cx="326.3" cy="222.7" r="2.05"/><circle cx="320.8" cy="262.4" r="2.05"/><circle cx="325.8" cy="262.7" r="2.05"/><circle cx="332.4" cy="260.0" r="2.05"/><circle cx="330.0" cy="264.5" r="2.05"/><circle cx="333.0" cy="267.0" r="2.05"/><circle cx="328.0" cy="272.0" r="2.05"/><circle cx="329.0" cy="275.0" r="2.05"/><circle cx="318.0" cy="292.0" r="2.05"/><circle cx="319.6" cy="293.5" r="2.05"/><circle cx="321.0" cy="295.0" r="2.05"/><circle cx="323.8" cy="284.0" r="2.05"/><circle cx="324.5" cy="288.5" r="2.05"/><circle cx="327.5" cy="281.0" r="2.05"/><circle cx="306.4" cy="298.5" r="2.05"/><circle cx="322.0" cy="299.8" r="2.05"/><circle cx="215.8" cy="297.9" r="2.05"/><circle cx="284.9" cy="284.5" r="2.05"/><circle cx="282.7" cy="293.3" r="2.05"/><circle cx="285.9" cy="300.3" r="2.05"/><circle cx="305.5" cy="300.0" r="2.05"/></g>
<g fill="#c9001f"><circle cx="357.6" cy="246.4" r="2.05"/><circle cx="354.7" cy="291.2" r="2.05"/><circle cx="354.6" cy="285.8" r="2.05"/><circle cx="358.4" cy="292.0" r="2.05"/><circle cx="349.7" cy="290.7" r="2.05"/><circle cx="361.4" cy="224.3" r="2.05"/><circle cx="348.6" cy="295.6" r="2.05"/><circle cx="354.7" cy="271.9" r="2.05"/><circle cx="359.3" cy="280.0" r="2.05"/><circle cx="360.3" cy="186.2" r="2.05"/><circle cx="361.8" cy="180.7" r="2.05"/><circle cx="359.8" cy="234.7" r="2.05"/><circle cx="361.4" cy="163.9" r="2.05"/><circle cx="355.5" cy="293.8" r="2.05"/><circle cx="360.8" cy="200.1" r="2.05"/><circle cx="351.1" cy="294.5" r="2.05"/><circle cx="354.3" cy="293.8" r="2.05"/><circle cx="344.8" cy="286.7" r="2.05"/><circle cx="354.4" cy="255.8" r="2.05"/><circle cx="352.0" cy="277.3" r="2.05"/><circle cx="358.4" cy="242.6" r="2.05"/><circle cx="360.6" cy="168.8" r="2.05"/><circle cx="361.4" cy="263.0" r="2.05"/><circle cx="358.9" cy="294.2" r="2.05"/><circle cx="358.3" cy="295.0" r="2.05"/><circle cx="360.9" cy="276.7" r="2.05"/><circle cx="357.9" cy="246.1" r="2.05"/><circle cx="360.7" cy="168.7" r="2.05"/><circle cx="352.1" cy="235.5" r="2.05"/><circle cx="356.2" cy="271.8" r="2.05"/><circle cx="359.2" cy="226.3" r="2.05"/><circle cx="360.1" cy="183.4" r="2.05"/><circle cx="352.1" cy="282.7" r="2.05"/><circle cx="347.9" cy="286.4" r="2.05"/><circle cx="359.8" cy="284.1" r="2.05"/><circle cx="360.0" cy="179.5" r="2.05"/><circle cx="352.1" cy="293.2" r="2.05"/><circle cx="358.2" cy="251.9" r="2.05"/><circle cx="362.4" cy="207.6" r="2.05"/><circle cx="362.0" cy="249.7" r="2.05"/><circle cx="357.0" cy="245.6" r="2.05"/><circle cx="361.7" cy="225.9" r="2.05"/><circle cx="357.3" cy="214.4" r="2.05"/><circle cx="355.8" cy="290.1" r="2.05"/><circle cx="360.1" cy="172.0" r="2.05"/><circle cx="359.5" cy="278.6" r="2.05"/><circle cx="356.2" cy="264.1" r="2.05"/><circle cx="356.8" cy="268.3" r="2.05"/><circle cx="359.9" cy="268.9" r="2.05"/><circle cx="361.7" cy="160.6" r="2.05"/><circle cx="360.4" cy="271.5" r="2.05"/><circle cx="356.3" cy="275.8" r="2.05"/><circle cx="357.6" cy="247.0" r="2.05"/><circle cx="360.7" cy="222.3" r="2.05"/><circle cx="361.9" cy="244.7" r="2.05"/><circle cx="354.0" cy="267.0" r="2.05"/><circle cx="356.0" cy="270.5" r="2.05"/><circle cx="359.8" cy="267.5" r="2.05"/><circle cx="345.3" cy="295.8" r="2.05"/><circle cx="362.4" cy="219.6" r="2.05"/><circle cx="359.1" cy="285.0" r="2.05"/><circle cx="358.9" cy="255.0" r="2.05"/><circle cx="360.8" cy="274.2" r="2.05"/><circle cx="356.9" cy="261.0" r="2.05"/><circle cx="361.9" cy="229.6" r="2.05"/><circle cx="358.5" cy="275.5" r="2.05"/><circle cx="358.5" cy="295.5" r="2.05"/><circle cx="354.6" cy="287.3" r="2.05"/><circle cx="357.5" cy="246.0" r="2.05"/><circle cx="355.9" cy="249.6" r="2.05"/><circle cx="358.8" cy="235.3" r="2.05"/><circle cx="357.4" cy="255.5" r="2.05"/><circle cx="359.2" cy="263.0" r="2.05"/><circle cx="354.2" cy="295.7" r="2.05"/><circle cx="362.2" cy="217.5" r="2.05"/><circle cx="350.7" cy="279.8" r="2.05"/><circle cx="357.6" cy="239.2" r="2.05"/><circle cx="359.8" cy="203.3" r="2.05"/><circle cx="354.7" cy="281.7" r="2.05"/><circle cx="360.8" cy="257.4" r="2.05"/><circle cx="354.1" cy="286.0" r="2.05"/><circle cx="357.0" cy="212.6" r="2.05"/><circle cx="360.6" cy="227.8" r="2.05"/><circle cx="358.1" cy="246.8" r="2.05"/><circle cx="358.7" cy="275.5" r="2.05"/><circle cx="360.5" cy="174.5" r="2.05"/><circle cx="360.5" cy="169.3" r="2.05"/><circle cx="353.7" cy="222.6" r="2.05"/><circle cx="359.2" cy="271.6" r="2.05"/><circle cx="356.9" cy="291.2" r="2.05"/><circle cx="360.5" cy="286.8" r="2.05"/><circle cx="363.0" cy="209.7" r="2.05"/><circle cx="352.4" cy="290.2" r="2.05"/><circle cx="360.7" cy="165.4" r="2.05"/><circle cx="350.4" cy="289.1" r="2.05"/><circle cx="355.3" cy="295.0" r="2.05"/><circle cx="360.9" cy="169.3" r="2.05"/><circle cx="355.4" cy="293.3" r="2.05"/><circle cx="349.3" cy="251.8" r="2.05"/><circle cx="353.5" cy="287.9" r="2.05"/><circle cx="360.6" cy="177.2" r="2.05"/><circle cx="350.3" cy="293.0" r="2.05"/><circle cx="353.5" cy="258.0" r="2.05"/><circle cx="356.0" cy="266.9" r="2.05"/><circle cx="359.4" cy="198.7" r="2.05"/><circle cx="350.0" cy="279.4" r="2.05"/><circle cx="355.5" cy="282.7" r="2.05"/><circle cx="359.7" cy="263.6" r="2.05"/><circle cx="359.9" cy="257.7" r="2.05"/><circle cx="359.8" cy="229.8" r="2.05"/><circle cx="349.4" cy="248.5" r="2.05"/><circle cx="360.9" cy="177.1" r="2.05"/><circle cx="352.2" cy="290.3" r="2.05"/><circle cx="358.2" cy="295.2" r="2.05"/><circle cx="360.3" cy="175.5" r="2.05"/><circle cx="362.4" cy="186.7" r="2.05"/><circle cx="355.8" cy="263.3" r="2.05"/><circle cx="361.4" cy="196.8" r="2.05"/><circle cx="360.7" cy="177.2" r="2.05"/><circle cx="352.1" cy="296.5" r="2.05"/><circle cx="361.3" cy="259.0" r="2.05"/><circle cx="351.5" cy="257.6" r="2.05"/><circle cx="353.9" cy="226.0" r="2.05"/><circle cx="352.8" cy="272.6" r="2.05"/><circle cx="360.6" cy="274.0" r="2.05"/><circle cx="360.7" cy="166.2" r="2.05"/><circle cx="354.8" cy="244.2" r="2.05"/><circle cx="345.9" cy="287.2" r="2.05"/><circle cx="349.6" cy="289.4" r="2.05"/><circle cx="355.0" cy="256.7" r="2.05"/><circle cx="360.7" cy="173.1" r="2.05"/><circle cx="343.6" cy="273.1" r="2.05"/><circle cx="362.1" cy="204.4" r="2.05"/><circle cx="346.5" cy="279.9" r="2.05"/><circle cx="353.7" cy="280.1" r="2.05"/><circle cx="361.4" cy="178.9" r="2.05"/><circle cx="360.9" cy="271.5" r="2.05"/><circle cx="349.2" cy="293.9" r="2.05"/><circle cx="354.9" cy="295.6" r="2.05"/><circle cx="356.8" cy="267.4" r="2.05"/><circle cx="360.2" cy="171.6" r="2.05"/><circle cx="360.9" cy="169.4" r="2.05"/><circle cx="360.8" cy="209.2" r="2.05"/><circle cx="354.7" cy="284.3" r="2.05"/><circle cx="362.6" cy="229.8" r="2.05"/><circle cx="355.6" cy="292.4" r="2.05"/><circle cx="354.2" cy="292.9" r="2.05"/><circle cx="352.8" cy="285.9" r="2.05"/><circle cx="363.3" cy="223.0" r="2.05"/><circle cx="352.9" cy="282.4" r="2.05"/><circle cx="360.2" cy="266.4" r="2.05"/><circle cx="360.8" cy="245.4" r="2.05"/><circle cx="353.4" cy="286.9" r="2.05"/><circle cx="350.7" cy="274.7" r="2.05"/><circle cx="358.4" cy="247.9" r="2.05"/><circle cx="359.2" cy="294.1" r="2.05"/><circle cx="359.7" cy="199.9" r="2.05"/><circle cx="359.6" cy="201.7" r="2.05"/><circle cx="352.0" cy="268.9" r="2.05"/><circle cx="359.1" cy="228.0" r="2.05"/><circle cx="356.6" cy="233.4" r="2.05"/><circle cx="351.2" cy="291.5" r="2.05"/><circle cx="353.4" cy="292.8" r="2.05"/><circle cx="359.6" cy="294.3" r="2.05"/><circle cx="354.0" cy="296.1" r="2.05"/><circle cx="348.7" cy="295.4" r="2.05"/><circle cx="362.1" cy="207.5" r="2.05"/><circle cx="359.1" cy="265.3" r="2.05"/><circle cx="352.6" cy="282.8" r="2.05"/><circle cx="359.4" cy="284.3" r="2.05"/><circle cx="355.1" cy="241.8" r="2.05"/><circle cx="353.9" cy="265.4" r="2.05"/><circle cx="356.0" cy="269.9" r="2.05"/><circle cx="349.9" cy="258.5" r="2.05"/><circle cx="355.3" cy="289.9" r="2.05"/><circle cx="360.8" cy="168.6" r="2.05"/><circle cx="360.1" cy="212.8" r="2.05"/><circle cx="360.1" cy="189.7" r="2.05"/><circle cx="356.6" cy="291.2" r="2.05"/><circle cx="358.9" cy="289.4" r="2.05"/><circle cx="361.4" cy="242.0" r="2.05"/><circle cx="357.6" cy="257.0" r="2.05"/><circle cx="359.5" cy="216.3" r="2.05"/><circle cx="358.8" cy="244.0" r="2.05"/><circle cx="357.4" cy="282.1" r="2.05"/><circle cx="355.0" cy="225.6" r="2.05"/><circle cx="360.9" cy="205.2" r="2.05"/><circle cx="351.4" cy="276.6" r="2.05"/><circle cx="357.8" cy="256.9" r="2.05"/><circle cx="350.7" cy="273.5" r="2.05"/><circle cx="361.0" cy="246.3" r="2.05"/><circle cx="358.5" cy="280.4" r="2.05"/><circle cx="354.5" cy="235.7" r="2.05"/><circle cx="347.7" cy="260.5" r="2.05"/><circle cx="360.8" cy="245.3" r="2.05"/><circle cx="360.1" cy="293.1" r="2.05"/><circle cx="353.2" cy="263.6" r="2.05"/><circle cx="348.2" cy="284.4" r="2.05"/><circle cx="346.0" cy="293.2" r="2.05"/><circle cx="356.6" cy="265.4" r="2.05"/><circle cx="355.3" cy="288.5" r="2.05"/><circle cx="356.5" cy="251.3" r="2.05"/><circle cx="351.0" cy="282.5" r="2.05"/><circle cx="360.9" cy="186.7" r="2.05"/><circle cx="356.2" cy="269.2" r="2.05"/><circle cx="361.9" cy="213.5" r="2.05"/><circle cx="357.4" cy="237.6" r="2.05"/><circle cx="357.9" cy="214.2" r="2.05"/><circle cx="359.6" cy="202.5" r="2.05"/><circle cx="361.4" cy="202.4" r="2.05"/><circle cx="356.3" cy="259.6" r="2.05"/><circle cx="352.1" cy="296.9" r="2.05"/><circle cx="359.1" cy="248.5" r="2.05"/><circle cx="361.5" cy="221.9" r="2.05"/><circle cx="357.3" cy="263.9" r="2.05"/><circle cx="360.8" cy="291.0" r="2.05"/><circle cx="360.4" cy="199.9" r="2.05"/><circle cx="343.3" cy="296.7" r="2.05"/><circle cx="361.1" cy="182.1" r="2.05"/><circle cx="357.8" cy="267.8" r="2.05"/><circle cx="356.5" cy="275.8" r="2.05"/><circle cx="360.5" cy="275.3" r="2.05"/><circle cx="361.0" cy="176.0" r="2.05"/><circle cx="361.1" cy="215.9" r="2.05"/><circle cx="359.3" cy="223.2" r="2.05"/><circle cx="352.0" cy="284.2" r="2.05"/><circle cx="355.1" cy="245.7" r="2.05"/><circle cx="357.5" cy="249.4" r="2.05"/><circle cx="362.9" cy="228.6" r="2.05"/><circle cx="352.1" cy="275.4" r="2.05"/><circle cx="351.6" cy="241.1" r="2.05"/><circle cx="360.1" cy="212.3" r="2.05"/><circle cx="360.0" cy="285.3" r="2.05"/><circle cx="346.5" cy="291.9" r="2.05"/><circle cx="358.9" cy="285.1" r="2.05"/><circle cx="358.2" cy="233.0" r="2.05"/><circle cx="359.1" cy="267.5" r="2.05"/><circle cx="358.7" cy="289.5" r="2.05"/><circle cx="360.8" cy="169.8" r="2.05"/><circle cx="356.2" cy="285.1" r="2.05"/><circle cx="361.7" cy="261.0" r="2.05"/><circle cx="359.9" cy="289.5" r="2.05"/><circle cx="360.8" cy="274.9" r="2.05"/><circle cx="360.5" cy="218.8" r="2.05"/><circle cx="359.2" cy="223.6" r="2.05"/><circle cx="351.5" cy="294.6" r="2.05"/><circle cx="360.0" cy="290.9" r="2.05"/><circle cx="347.9" cy="266.1" r="2.05"/><circle cx="351.2" cy="285.6" r="2.05"/><circle cx="353.6" cy="270.1" r="2.05"/><circle cx="357.8" cy="292.8" r="2.05"/><circle cx="353.2" cy="285.5" r="2.05"/><circle cx="361.7" cy="199.7" r="2.05"/><circle cx="354.1" cy="284.3" r="2.05"/><circle cx="360.5" cy="169.5" r="2.05"/><circle cx="353.9" cy="260.9" r="2.05"/><circle cx="351.1" cy="284.1" r="2.05"/><circle cx="360.7" cy="168.2" r="2.05"/><circle cx="356.0" cy="262.2" r="2.05"/><circle cx="354.9" cy="290.4" r="2.05"/><circle cx="357.4" cy="292.6" r="2.05"/><circle cx="361.1" cy="166.5" r="2.05"/><circle cx="361.6" cy="264.8" r="2.05"/><circle cx="357.3" cy="216.4" r="2.05"/><circle cx="357.8" cy="293.4" r="2.05"/><circle cx="358.3" cy="214.3" r="2.05"/><circle cx="356.4" cy="217.0" r="2.05"/><circle cx="359.4" cy="253.2" r="2.05"/><circle cx="348.3" cy="287.5" r="2.05"/><circle cx="352.5" cy="296.1" r="2.05"/><circle cx="353.8" cy="295.4" r="2.05"/><circle cx="358.3" cy="216.3" r="2.05"/><circle cx="360.5" cy="170.5" r="2.05"/><circle cx="347.7" cy="258.0" r="2.05"/><circle cx="360.6" cy="171.6" r="2.05"/><circle cx="360.9" cy="290.7" r="2.05"/><circle cx="361.4" cy="185.7" r="2.05"/><circle cx="352.7" cy="289.5" r="2.05"/><circle cx="360.0" cy="288.4" r="2.05"/><circle cx="361.1" cy="254.8" r="2.05"/><circle cx="360.6" cy="199.6" r="2.05"/><circle cx="349.5" cy="269.0" r="2.05"/><circle cx="358.6" cy="285.6" r="2.05"/><circle cx="361.8" cy="181.8" r="2.05"/><circle cx="356.8" cy="267.8" r="2.05"/><circle cx="353.4" cy="227.6" r="2.05"/><circle cx="356.7" cy="290.0" r="2.05"/><circle cx="360.7" cy="175.2" r="2.05"/><circle cx="362.2" cy="195.0" r="2.05"/><circle cx="362.1" cy="193.7" r="2.05"/><circle cx="355.1" cy="296.5" r="2.05"/><circle cx="359.3" cy="293.6" r="2.05"/><circle cx="345.2" cy="285.8" r="2.05"/><circle cx="355.3" cy="294.7" r="2.05"/><circle cx="362.3" cy="190.5" r="2.05"/><circle cx="361.4" cy="193.8" r="2.05"/><circle cx="352.5" cy="231.1" r="2.05"/><circle cx="361.5" cy="191.0" r="2.05"/><circle cx="354.6" cy="272.8" r="2.05"/><circle cx="356.0" cy="263.7" r="2.05"/><circle cx="360.2" cy="249.2" r="2.05"/><circle cx="356.8" cy="295.1" r="2.05"/><circle cx="360.6" cy="285.8" r="2.05"/><circle cx="350.6" cy="270.4" r="2.05"/><circle cx="356.4" cy="296.1" r="2.05"/><circle cx="358.3" cy="294.3" r="2.05"/><circle cx="359.6" cy="295.9" r="2.05"/><circle cx="360.4" cy="179.5" r="2.05"/><circle cx="351.0" cy="252.5" r="2.05"/><circle cx="359.2" cy="279.5" r="2.05"/><circle cx="358.4" cy="243.2" r="2.05"/><circle cx="353.6" cy="224.4" r="2.05"/><circle cx="361.4" cy="161.9" r="2.05"/><circle cx="356.2" cy="224.6" r="2.05"/><circle cx="359.4" cy="226.0" r="2.05"/><circle cx="351.2" cy="293.1" r="2.05"/><circle cx="360.9" cy="172.5" r="2.05"/><circle cx="361.0" cy="205.3" r="2.05"/><circle cx="354.7" cy="216.6" r="2.05"/><circle cx="354.1" cy="256.4" r="2.05"/><circle cx="360.5" cy="261.0" r="2.05"/><circle cx="361.5" cy="270.8" r="2.05"/><circle cx="359.9" cy="189.1" r="2.05"/><circle cx="361.6" cy="243.1" r="2.05"/><circle cx="351.8" cy="294.1" r="2.05"/><circle cx="351.6" cy="286.7" r="2.05"/><circle cx="355.1" cy="217.3" r="2.05"/><circle cx="349.4" cy="276.0" r="2.05"/><circle cx="358.6" cy="249.9" r="2.05"/><circle cx="355.5" cy="284.0" r="2.05"/><circle cx="357.1" cy="268.1" r="2.05"/><circle cx="361.0" cy="280.6" r="2.05"/><circle cx="357.6" cy="228.5" r="2.05"/><circle cx="361.2" cy="201.5" r="2.05"/><circle cx="359.3" cy="254.9" r="2.05"/><circle cx="351.1" cy="254.7" r="2.05"/><circle cx="353.3" cy="294.0" r="2.05"/><circle cx="348.3" cy="287.8" r="2.05"/><circle cx="357.6" cy="231.8" r="2.05"/><circle cx="360.3" cy="255.6" r="2.05"/><circle cx="362.0" cy="196.4" r="2.05"/><circle cx="355.3" cy="209.8" r="2.05"/><circle cx="356.6" cy="253.0" r="2.05"/><circle cx="359.0" cy="246.4" r="2.05"/><circle cx="352.4" cy="277.3" r="2.05"/><circle cx="352.8" cy="283.3" r="2.05"/><circle cx="359.1" cy="201.4" r="2.05"/><circle cx="351.3" cy="292.9" r="2.05"/><circle cx="357.2" cy="280.9" r="2.05"/><circle cx="355.3" cy="278.1" r="2.05"/><circle cx="361.3" cy="196.5" r="2.05"/><circle cx="355.9" cy="282.1" r="2.05"/><circle cx="354.8" cy="282.6" r="2.05"/><circle cx="348.2" cy="259.8" r="2.05"/><circle cx="358.6" cy="284.5" r="2.05"/><circle cx="359.1" cy="279.9" r="2.05"/><circle cx="358.9" cy="204.1" r="2.05"/><circle cx="356.0" cy="259.0" r="2.05"/><circle cx="350.2" cy="241.0" r="2.05"/><circle cx="363.3" cy="220.5" r="2.05"/><circle cx="355.0" cy="214.4" r="2.05"/><circle cx="354.4" cy="249.2" r="2.05"/><circle cx="359.0" cy="248.2" r="2.05"/><circle cx="360.2" cy="272.6" r="2.05"/><circle cx="344.8" cy="281.9" r="2.05"/><circle cx="352.1" cy="266.2" r="2.05"/><circle cx="362.4" cy="221.5" r="2.05"/><circle cx="360.2" cy="186.3" r="2.05"/><circle cx="352.3" cy="275.4" r="2.05"/><circle cx="349.0" cy="246.0" r="2.05"/><circle cx="349.8" cy="280.1" r="2.05"/><circle cx="361.0" cy="161.2" r="2.05"/><circle cx="352.5" cy="265.0" r="2.05"/><circle cx="361.5" cy="193.9" r="2.05"/><circle cx="354.0" cy="282.4" r="2.05"/><circle cx="349.8" cy="273.0" r="2.05"/><circle cx="353.3" cy="286.8" r="2.05"/><circle cx="349.9" cy="285.1" r="2.05"/><circle cx="357.4" cy="276.0" r="2.05"/><circle cx="353.8" cy="241.1" r="2.05"/><circle cx="353.7" cy="232.6" r="2.05"/><circle cx="349.1" cy="278.1" r="2.05"/><circle cx="362.4" cy="200.0" r="2.05"/><circle cx="350.8" cy="292.8" r="2.05"/><circle cx="360.7" cy="167.0" r="2.05"/><circle cx="345.9" cy="291.2" r="2.05"/><circle cx="356.9" cy="284.8" r="2.05"/><circle cx="359.6" cy="293.9" r="2.05"/><circle cx="358.9" cy="262.9" r="2.05"/><circle cx="358.8" cy="258.8" r="2.05"/><circle cx="358.8" cy="281.0" r="2.05"/><circle cx="350.2" cy="260.6" r="2.05"/><circle cx="354.4" cy="283.1" r="2.05"/><circle cx="359.3" cy="226.5" r="2.05"/><circle cx="357.6" cy="269.4" r="2.05"/><circle cx="361.2" cy="282.5" r="2.05"/><circle cx="352.9" cy="284.4" r="2.05"/><circle cx="361.9" cy="238.4" r="2.05"/><circle cx="349.9" cy="290.9" r="2.05"/><circle cx="355.8" cy="289.4" r="2.05"/><circle cx="353.9" cy="231.4" r="2.05"/><circle cx="358.6" cy="253.8" r="2.05"/><circle cx="358.0" cy="266.4" r="2.05"/><circle cx="356.0" cy="241.0" r="2.05"/><circle cx="361.0" cy="286.6" r="2.05"/><circle cx="356.8" cy="281.5" r="2.05"/><circle cx="358.4" cy="243.2" r="2.05"/><circle cx="352.5" cy="292.4" r="2.05"/><circle cx="356.6" cy="247.1" r="2.05"/><circle cx="357.2" cy="291.2" r="2.05"/><circle cx="357.4" cy="247.0" r="2.05"/><circle cx="358.3" cy="250.0" r="2.05"/><circle cx="353.0" cy="286.4" r="2.05"/><circle cx="353.7" cy="228.1" r="2.05"/><circle cx="356.8" cy="229.4" r="2.05"/><circle cx="353.2" cy="283.6" r="2.05"/><circle cx="355.1" cy="295.3" r="2.05"/><circle cx="360.8" cy="224.5" r="2.05"/><circle cx="358.2" cy="262.6" r="2.05"/><circle cx="356.5" cy="259.0" r="2.05"/><circle cx="358.7" cy="268.8" r="2.05"/><circle cx="357.9" cy="251.1" r="2.05"/><circle cx="358.1" cy="233.5" r="2.05"/><circle cx="361.4" cy="244.9" r="2.05"/><circle cx="352.0" cy="274.8" r="2.05"/><circle cx="353.2" cy="273.5" r="2.05"/><circle cx="358.8" cy="288.3" r="2.05"/><circle cx="351.8" cy="221.5" r="2.05"/><circle cx="350.7" cy="291.4" r="2.05"/><circle cx="360.4" cy="190.0" r="2.05"/><circle cx="354.8" cy="259.7" r="2.05"/><circle cx="356.9" cy="272.2" r="2.05"/><circle cx="348.4" cy="285.2" r="2.05"/><circle cx="361.0" cy="294.5" r="2.05"/><circle cx="361.2" cy="162.1" r="2.05"/><circle cx="360.9" cy="281.6" r="2.05"/><circle cx="351.0" cy="273.2" r="2.05"/><circle cx="359.9" cy="294.4" r="2.05"/><circle cx="361.4" cy="209.3" r="2.05"/><circle cx="359.5" cy="239.2" r="2.05"/><circle cx="360.8" cy="184.7" r="2.05"/><circle cx="347.5" cy="285.3" r="2.05"/><circle cx="359.4" cy="236.2" r="2.05"/><circle cx="356.7" cy="258.2" r="2.05"/><circle cx="356.2" cy="266.1" r="2.05"/><circle cx="359.9" cy="296.7" r="2.05"/><circle cx="355.6" cy="245.3" r="2.05"/><circle cx="357.5" cy="258.4" r="2.05"/><circle cx="358.1" cy="201.5" r="2.05"/><circle cx="350.5" cy="287.9" r="2.05"/><circle cx="360.2" cy="217.6" r="2.05"/><circle cx="360.8" cy="219.9" r="2.05"/><circle cx="352.0" cy="263.5" r="2.05"/><circle cx="356.5" cy="253.6" r="2.05"/><circle cx="356.7" cy="263.9" r="2.05"/><circle cx="352.7" cy="241.9" r="2.05"/><circle cx="347.9" cy="276.5" r="2.05"/><circle cx="357.2" cy="289.3" r="2.05"/><circle cx="359.3" cy="293.8" r="2.05"/><circle cx="360.3" cy="278.4" r="2.05"/><circle cx="354.9" cy="263.4" r="2.05"/><circle cx="351.7" cy="273.6" r="2.05"/><circle cx="345.3" cy="288.8" r="2.05"/><circle cx="361.2" cy="240.0" r="2.05"/><circle cx="352.7" cy="282.2" r="2.05"/><circle cx="359.6" cy="262.5" r="2.05"/><circle cx="358.1" cy="281.2" r="2.05"/><circle cx="346.6" cy="269.3" r="2.05"/><circle cx="355.4" cy="275.6" r="2.05"/><circle cx="353.6" cy="254.6" r="2.05"/><circle cx="354.6" cy="283.3" r="2.05"/><circle cx="360.0" cy="170.0" r="2.05"/><circle cx="357.8" cy="292.5" r="2.05"/><circle cx="357.2" cy="274.1" r="2.05"/><circle cx="358.3" cy="226.7" r="2.05"/><circle cx="361.0" cy="165.0" r="2.05"/><circle cx="349.2" cy="296.7" r="2.05"/><circle cx="350.0" cy="279.3" r="2.05"/><circle cx="356.2" cy="286.5" r="2.05"/><circle cx="355.7" cy="239.3" r="2.05"/><circle cx="344.3" cy="273.5" r="2.05"/><circle cx="361.0" cy="164.5" r="2.05"/><circle cx="355.3" cy="256.5" r="2.05"/><circle cx="359.8" cy="226.9" r="2.05"/><circle cx="356.6" cy="272.7" r="2.05"/><circle cx="350.2" cy="251.7" r="2.05"/><circle cx="355.0" cy="295.6" r="2.05"/><circle cx="355.1" cy="260.0" r="2.05"/><circle cx="358.0" cy="239.0" r="2.05"/><circle cx="360.4" cy="210.4" r="2.05"/><circle cx="356.1" cy="213.2" r="2.05"/><circle cx="361.0" cy="293.8" r="2.05"/><circle cx="360.6" cy="204.4" r="2.05"/><circle cx="351.6" cy="235.4" r="2.05"/><circle cx="359.1" cy="260.4" r="2.05"/><circle cx="353.2" cy="269.2" r="2.05"/><circle cx="349.8" cy="290.2" r="2.05"/><circle cx="351.9" cy="290.1" r="2.05"/><circle cx="361.0" cy="282.8" r="2.05"/><circle cx="348.6" cy="258.1" r="2.05"/><circle cx="362.0" cy="227.8" r="2.05"/><circle cx="353.4" cy="276.1" r="2.05"/><circle cx="359.2" cy="221.9" r="2.05"/><circle cx="357.9" cy="206.0" r="2.05"/><circle cx="358.5" cy="265.9" r="2.05"/><circle cx="356.5" cy="215.2" r="2.05"/><circle cx="353.7" cy="234.7" r="2.05"/><circle cx="351.4" cy="267.8" r="2.05"/><circle cx="346.2" cy="295.8" r="2.05"/><circle cx="361.5" cy="186.1" r="2.05"/><circle cx="360.6" cy="267.6" r="2.05"/><circle cx="361.7" cy="179.6" r="2.05"/><circle cx="356.7" cy="237.0" r="2.05"/><circle cx="354.2" cy="257.9" r="2.05"/><circle cx="355.8" cy="291.9" r="2.05"/><circle cx="352.2" cy="295.9" r="2.05"/><circle cx="359.0" cy="214.9" r="2.05"/><circle cx="360.6" cy="181.0" r="2.05"/><circle cx="354.6" cy="246.7" r="2.05"/><circle cx="361.8" cy="180.8" r="2.05"/><circle cx="357.0" cy="257.6" r="2.05"/><circle cx="354.0" cy="290.5" r="2.05"/><circle cx="362.4" cy="196.1" r="2.05"/><circle cx="349.7" cy="253.0" r="2.05"/><circle cx="356.1" cy="287.9" r="2.05"/><circle cx="361.4" cy="180.0" r="2.05"/><circle cx="360.4" cy="283.2" r="2.05"/><circle cx="350.0" cy="258.6" r="2.05"/><circle cx="355.3" cy="249.8" r="2.05"/><circle cx="360.4" cy="247.0" r="2.05"/><circle cx="347.0" cy="267.9" r="2.05"/><circle cx="360.1" cy="181.4" r="2.05"/><circle cx="351.9" cy="281.3" r="2.05"/><circle cx="350.7" cy="288.5" r="2.05"/><circle cx="354.3" cy="267.3" r="2.05"/><circle cx="357.3" cy="236.6" r="2.05"/><circle cx="362.2" cy="195.6" r="2.05"/><circle cx="348.7" cy="271.7" r="2.05"/><circle cx="357.5" cy="260.5" r="2.05"/><circle cx="357.0" cy="235.3" r="2.05"/><circle cx="349.9" cy="294.7" r="2.05"/><circle cx="360.7" cy="178.5" r="2.05"/><circle cx="347.6" cy="268.2" r="2.05"/><circle cx="359.2" cy="284.6" r="2.05"/><circle cx="362.0" cy="188.9" r="2.05"/><circle cx="361.8" cy="241.1" r="2.05"/><circle cx="359.8" cy="269.4" r="2.05"/><circle cx="352.2" cy="227.4" r="2.05"/><circle cx="361.4" cy="245.7" r="2.05"/><circle cx="361.2" cy="196.0" r="2.05"/><circle cx="354.2" cy="289.1" r="2.05"/><circle cx="352.6" cy="282.8" r="2.05"/><circle cx="348.0" cy="283.0" r="2.05"/><circle cx="362.9" cy="206.7" r="2.05"/><circle cx="357.1" cy="259.9" r="2.05"/><circle cx="349.8" cy="262.1" r="2.05"/><circle cx="359.0" cy="273.1" r="2.05"/><circle cx="357.2" cy="246.3" r="2.05"/><circle cx="355.9" cy="248.7" r="2.05"/><circle cx="361.8" cy="194.2" r="2.05"/><circle cx="358.0" cy="246.2" r="2.05"/><circle cx="352.6" cy="283.1" r="2.05"/><circle cx="355.8" cy="270.0" r="2.05"/><circle cx="360.6" cy="172.9" r="2.05"/><circle cx="357.4" cy="209.9" r="2.05"/><circle cx="360.4" cy="169.1" r="2.05"/><circle cx="359.8" cy="293.4" r="2.05"/><circle cx="361.2" cy="162.9" r="2.05"/><circle cx="351.2" cy="256.5" r="2.05"/><circle cx="359.6" cy="190.5" r="2.05"/><circle cx="357.2" cy="284.3" r="2.05"/><circle cx="357.9" cy="286.5" r="2.05"/><circle cx="358.9" cy="261.2" r="2.05"/><circle cx="360.2" cy="172.5" r="2.05"/><circle cx="358.0" cy="296.2" r="2.05"/><circle cx="355.7" cy="268.1" r="2.05"/><circle cx="359.2" cy="191.8" r="2.05"/><circle cx="359.1" cy="265.9" r="2.05"/><circle cx="357.2" cy="252.1" r="2.05"/><circle cx="356.2" cy="248.5" r="2.05"/><circle cx="359.1" cy="291.7" r="2.05"/><circle cx="358.6" cy="296.5" r="2.05"/><circle cx="354.3" cy="240.8" r="2.05"/><circle cx="358.8" cy="280.3" r="2.05"/><circle cx="360.3" cy="289.7" r="2.05"/><circle cx="357.4" cy="242.9" r="2.05"/><circle cx="355.2" cy="294.7" r="2.05"/><circle cx="354.0" cy="222.4" r="2.05"/><circle cx="359.8" cy="175.1" r="2.05"/><circle cx="345.2" cy="287.6" r="2.05"/><circle cx="358.1" cy="262.7" r="2.05"/><circle cx="348.4" cy="255.9" r="2.05"/><circle cx="358.0" cy="288.0" r="2.05"/><circle cx="351.9" cy="260.8" r="2.05"/><circle cx="350.9" cy="250.8" r="2.05"/><circle cx="346.7" cy="283.3" r="2.05"/><circle cx="359.2" cy="287.8" r="2.05"/><circle cx="346.4" cy="287.9" r="2.05"/><circle cx="346.6" cy="268.7" r="2.05"/><circle cx="361.0" cy="267.2" r="2.05"/><circle cx="355.1" cy="217.4" r="2.05"/><circle cx="354.1" cy="288.5" r="2.05"/><circle cx="361.9" cy="219.4" r="2.05"/><circle cx="355.9" cy="296.1" r="2.05"/><circle cx="358.4" cy="294.6" r="2.05"/><circle cx="354.8" cy="277.7" r="2.05"/><circle cx="355.7" cy="294.6" r="2.05"/><circle cx="352.2" cy="288.4" r="2.05"/><circle cx="357.7" cy="224.4" r="2.05"/><circle cx="358.2" cy="254.2" r="2.05"/><circle cx="360.6" cy="260.1" r="2.05"/><circle cx="356.2" cy="241.0" r="2.05"/><circle cx="354.8" cy="292.6" r="2.05"/><circle cx="359.3" cy="221.5" r="2.05"/><circle cx="360.4" cy="290.0" r="2.05"/><circle cx="358.0" cy="260.9" r="2.05"/><circle cx="354.6" cy="249.8" r="2.05"/><circle cx="360.8" cy="193.8" r="2.05"/><circle cx="357.2" cy="255.5" r="2.05"/><circle cx="359.9" cy="274.2" r="2.05"/><circle cx="353.1" cy="250.7" r="2.05"/><circle cx="360.3" cy="177.8" r="2.05"/><circle cx="347.8" cy="288.9" r="2.05"/><circle cx="350.8" cy="292.9" r="2.05"/><circle cx="350.7" cy="277.3" r="2.05"/><circle cx="358.5" cy="223.4" r="2.05"/><circle cx="357.8" cy="262.6" r="2.05"/><circle cx="351.4" cy="253.3" r="2.05"/><circle cx="360.9" cy="244.0" r="2.05"/><circle cx="359.2" cy="226.7" r="2.05"/><circle cx="357.0" cy="288.9" r="2.05"/><circle cx="344.7" cy="284.6" r="2.05"/><circle cx="360.8" cy="189.6" r="2.05"/><circle cx="360.6" cy="174.6" r="2.05"/><circle cx="356.3" cy="281.1" r="2.05"/><circle cx="360.5" cy="182.0" r="2.05"/><circle cx="355.2" cy="286.3" r="2.05"/><circle cx="356.6" cy="289.5" r="2.05"/><circle cx="358.6" cy="285.7" r="2.05"/><circle cx="358.9" cy="253.3" r="2.05"/><circle cx="351.6" cy="257.9" r="2.05"/><circle cx="355.5" cy="227.9" r="2.05"/><circle cx="350.0" cy="271.7" r="2.05"/><circle cx="357.9" cy="233.4" r="2.05"/><circle cx="351.0" cy="279.5" r="2.05"/><circle cx="357.3" cy="290.3" r="2.05"/><circle cx="359.6" cy="296.2" r="2.05"/><circle cx="360.6" cy="258.7" r="2.05"/><circle cx="360.3" cy="167.8" r="2.05"/><circle cx="350.4" cy="296.6" r="2.05"/><circle cx="361.8" cy="267.1" r="2.05"/><circle cx="347.1" cy="275.8" r="2.05"/><circle cx="351.6" cy="277.7" r="2.05"/><circle cx="357.7" cy="295.0" r="2.05"/><circle cx="354.4" cy="257.2" r="2.05"/><circle cx="359.7" cy="285.7" r="2.05"/><circle cx="360.3" cy="288.7" r="2.05"/><circle cx="351.8" cy="292.0" r="2.05"/><circle cx="360.8" cy="167.3" r="2.05"/><circle cx="349.6" cy="279.6" r="2.05"/><circle cx="351.1" cy="254.5" r="2.05"/><circle cx="363.2" cy="217.6" r="2.05"/><circle cx="361.5" cy="161.1" r="2.05"/><circle cx="352.0" cy="287.6" r="2.05"/><circle cx="351.6" cy="285.8" r="2.05"/><circle cx="351.0" cy="233.3" r="2.05"/><circle cx="350.8" cy="282.3" r="2.05"/><circle cx="344.3" cy="281.6" r="2.05"/><circle cx="352.2" cy="256.1" r="2.05"/><circle cx="349.8" cy="274.7" r="2.05"/><circle cx="358.6" cy="216.7" r="2.05"/><circle cx="360.8" cy="267.4" r="2.05"/><circle cx="355.9" cy="220.8" r="2.05"/><circle cx="350.2" cy="280.1" r="2.05"/><circle cx="359.5" cy="208.4" r="2.05"/><circle cx="359.0" cy="237.5" r="2.05"/><circle cx="359.0" cy="232.8" r="2.05"/><circle cx="355.4" cy="293.8" r="2.05"/><circle cx="354.4" cy="250.4" r="2.05"/><circle cx="354.3" cy="290.4" r="2.05"/><circle cx="362.1" cy="196.7" r="2.05"/><circle cx="350.9" cy="296.8" r="2.05"/><circle cx="362.4" cy="226.3" r="2.05"/><circle cx="361.4" cy="185.8" r="2.05"/><circle cx="359.5" cy="258.1" r="2.05"/><circle cx="359.8" cy="265.7" r="2.05"/><circle cx="359.9" cy="295.9" r="2.05"/><circle cx="358.9" cy="206.5" r="2.05"/><circle cx="356.2" cy="261.4" r="2.05"/><circle cx="358.3" cy="279.4" r="2.05"/><circle cx="360.5" cy="240.3" r="2.05"/><circle cx="356.8" cy="266.7" r="2.05"/><circle cx="355.9" cy="218.5" r="2.05"/><circle cx="361.2" cy="177.2" r="2.05"/><circle cx="355.3" cy="263.9" r="2.05"/><circle cx="354.0" cy="253.1" r="2.05"/><circle cx="357.2" cy="255.2" r="2.05"/><circle cx="360.7" cy="206.6" r="2.05"/><circle cx="354.4" cy="293.8" r="2.05"/><circle cx="354.4" cy="293.3" r="2.05"/><circle cx="356.5" cy="294.4" r="2.05"/><circle cx="361.5" cy="220.2" r="2.05"/><circle cx="358.6" cy="293.7" r="2.05"/><circle cx="352.6" cy="266.1" r="2.05"/><circle cx="360.9" cy="161.2" r="2.05"/><circle cx="353.8" cy="282.5" r="2.05"/><circle cx="357.6" cy="248.7" r="2.05"/><circle cx="361.8" cy="250.0" r="2.05"/><circle cx="357.8" cy="227.8" r="2.05"/><circle cx="361.0" cy="268.2" r="2.05"/><circle cx="354.3" cy="292.2" r="2.05"/><circle cx="360.9" cy="176.3" r="2.05"/><circle cx="353.5" cy="272.3" r="2.05"/><circle cx="360.8" cy="173.0" r="2.05"/><circle cx="359.3" cy="281.1" r="2.05"/><circle cx="360.9" cy="177.2" r="2.05"/><circle cx="354.3" cy="237.1" r="2.05"/><circle cx="345.7" cy="267.0" r="2.05"/><circle cx="358.6" cy="228.2" r="2.05"/><circle cx="350.6" cy="276.3" r="2.05"/><circle cx="352.3" cy="213.0" r="2.05"/><circle cx="359.8" cy="199.1" r="2.05"/><circle cx="347.6" cy="288.3" r="2.05"/><circle cx="362.3" cy="191.6" r="2.05"/><circle cx="359.6" cy="203.3" r="2.05"/><circle cx="360.8" cy="170.1" r="2.05"/><circle cx="358.9" cy="286.6" r="2.05"/><circle cx="357.8" cy="256.6" r="2.05"/><circle cx="356.3" cy="279.5" r="2.05"/><circle cx="355.8" cy="284.2" r="2.05"/><circle cx="359.5" cy="276.1" r="2.05"/><circle cx="353.2" cy="243.8" r="2.05"/><circle cx="352.7" cy="252.0" r="2.05"/><circle cx="358.3" cy="264.9" r="2.05"/><circle cx="356.8" cy="263.7" r="2.05"/><circle cx="353.3" cy="273.2" r="2.05"/><circle cx="354.3" cy="284.2" r="2.05"/><circle cx="360.7" cy="204.5" r="2.05"/><circle cx="361.8" cy="160.5" r="2.05"/><circle cx="362.8" cy="205.3" r="2.05"/><circle cx="354.7" cy="294.5" r="2.05"/><circle cx="354.6" cy="289.4" r="2.05"/><circle cx="360.8" cy="166.1" r="2.05"/><circle cx="358.9" cy="241.2" r="2.05"/><circle cx="357.3" cy="294.3" r="2.05"/><circle cx="358.6" cy="287.7" r="2.05"/><circle cx="357.4" cy="207.8" r="2.05"/><circle cx="353.4" cy="247.3" r="2.05"/><circle cx="357.1" cy="243.7" r="2.05"/><circle cx="358.4" cy="230.2" r="2.05"/><circle cx="356.3" cy="272.1" r="2.05"/><circle cx="353.3" cy="296.7" r="2.05"/><circle cx="347.3" cy="280.6" r="2.05"/><circle cx="357.1" cy="207.6" r="2.05"/><circle cx="353.1" cy="276.5" r="2.05"/><circle cx="355.6" cy="284.3" r="2.05"/><circle cx="350.5" cy="292.7" r="2.05"/><circle cx="355.4" cy="290.3" r="2.05"/><circle cx="359.1" cy="193.6" r="2.05"/><circle cx="357.9" cy="268.3" r="2.05"/><circle cx="361.1" cy="163.4" r="2.05"/><circle cx="351.2" cy="246.9" r="2.05"/><circle cx="345.6" cy="291.7" r="2.05"/><circle cx="361.7" cy="183.6" r="2.05"/><circle cx="355.8" cy="290.3" r="2.05"/><circle cx="357.4" cy="263.6" r="2.05"/><circle cx="361.4" cy="164.3" r="2.05"/><circle cx="361.4" cy="195.6" r="2.05"/><circle cx="361.6" cy="294.9" r="2.05"/><circle cx="353.0" cy="258.2" r="2.05"/><circle cx="353.7" cy="272.5" r="2.05"/><circle cx="357.3" cy="281.3" r="2.05"/><circle cx="359.1" cy="218.0" r="2.05"/><circle cx="356.3" cy="291.0" r="2.05"/><circle cx="355.2" cy="260.6" r="2.05"/><circle cx="357.1" cy="238.7" r="2.05"/><circle cx="344.5" cy="289.7" r="2.05"/><circle cx="360.5" cy="174.0" r="2.05"/><circle cx="354.8" cy="236.7" r="2.05"/><circle cx="359.1" cy="202.8" r="2.05"/><circle cx="353.0" cy="252.7" r="2.05"/><circle cx="347.9" cy="272.2" r="2.05"/><circle cx="360.5" cy="270.1" r="2.05"/><circle cx="356.6" cy="249.7" r="2.05"/><circle cx="359.5" cy="255.9" r="2.05"/><circle cx="359.8" cy="295.6" r="2.05"/><circle cx="356.1" cy="284.6" r="2.05"/><circle cx="356.3" cy="282.8" r="2.05"/><circle cx="358.2" cy="235.7" r="2.05"/><circle cx="355.2" cy="289.3" r="2.05"/><circle cx="357.5" cy="264.9" r="2.05"/><circle cx="360.2" cy="168.2" r="2.05"/><circle cx="353.4" cy="290.3" r="2.05"/><circle cx="351.9" cy="219.1" r="2.05"/><circle cx="345.4" cy="274.4" r="2.05"/><circle cx="360.4" cy="245.2" r="2.05"/><circle cx="356.2" cy="290.2" r="2.05"/><circle cx="360.7" cy="294.4" r="2.05"/><circle cx="356.0" cy="272.3" r="2.05"/><circle cx="355.3" cy="240.4" r="2.05"/><circle cx="358.5" cy="290.6" r="2.05"/><circle cx="359.5" cy="251.4" r="2.05"/><circle cx="358.8" cy="235.2" r="2.05"/><circle cx="359.8" cy="213.0" r="2.05"/><circle cx="357.1" cy="293.7" r="2.05"/><circle cx="360.1" cy="243.7" r="2.05"/><circle cx="351.6" cy="272.4" r="2.05"/><circle cx="359.3" cy="240.8" r="2.05"/><circle cx="361.6" cy="241.1" r="2.05"/><circle cx="361.2" cy="189.3" r="2.05"/><circle cx="360.4" cy="273.3" r="2.05"/><circle cx="358.5" cy="201.0" r="2.05"/><circle cx="351.0" cy="279.6" r="2.05"/><circle cx="360.4" cy="171.0" r="2.05"/><circle cx="351.3" cy="267.1" r="2.05"/><circle cx="359.0" cy="292.7" r="2.05"/><circle cx="353.4" cy="287.0" r="2.05"/><circle cx="354.7" cy="221.4" r="2.05"/><circle cx="357.4" cy="287.2" r="2.05"/><circle cx="356.1" cy="210.7" r="2.05"/><circle cx="359.4" cy="284.5" r="2.05"/><circle cx="360.7" cy="179.2" r="2.05"/><circle cx="357.4" cy="273.3" r="2.05"/><circle cx="354.7" cy="264.4" r="2.05"/><circle cx="357.0" cy="250.0" r="2.05"/><circle cx="348.1" cy="278.3" r="2.05"/><circle cx="353.4" cy="233.3" r="2.05"/><circle cx="356.0" cy="228.8" r="2.05"/><circle cx="356.5" cy="296.7" r="2.05"/><circle cx="355.1" cy="213.4" r="2.05"/><circle cx="355.8" cy="287.2" r="2.05"/><circle cx="362.0" cy="188.4" r="2.05"/><circle cx="360.5" cy="194.7" r="2.05"/><circle cx="361.2" cy="163.8" r="2.05"/><circle cx="361.4" cy="187.6" r="2.05"/><circle cx="359.0" cy="282.9" r="2.05"/><circle cx="360.5" cy="261.6" r="2.05"/><circle cx="359.0" cy="222.0" r="2.05"/><circle cx="355.6" cy="276.2" r="2.05"/><circle cx="360.5" cy="168.6" r="2.05"/><circle cx="359.1" cy="274.6" r="2.05"/><circle cx="357.9" cy="280.9" r="2.05"/><circle cx="354.5" cy="268.2" r="2.05"/><circle cx="360.7" cy="187.2" r="2.05"/><circle cx="353.5" cy="291.1" r="2.05"/><circle cx="360.7" cy="168.2" r="2.05"/><circle cx="360.4" cy="276.7" r="2.05"/><circle cx="349.7" cy="296.1" r="2.05"/><circle cx="358.3" cy="294.3" r="2.05"/><circle cx="361.5" cy="207.8" r="2.05"/><circle cx="357.7" cy="275.9" r="2.05"/><circle cx="359.5" cy="296.3" r="2.05"/><circle cx="361.1" cy="293.0" r="2.05"/><circle cx="359.9" cy="253.7" r="2.05"/><circle cx="359.8" cy="287.6" r="2.05"/><circle cx="355.8" cy="287.3" r="2.05"/><circle cx="356.7" cy="216.5" r="2.05"/><circle cx="358.7" cy="286.1" r="2.05"/><circle cx="358.3" cy="271.6" r="2.05"/><circle cx="351.5" cy="287.0" r="2.05"/><circle cx="361.7" cy="240.7" r="2.05"/><circle cx="351.0" cy="295.5" r="2.05"/><circle cx="352.1" cy="288.0" r="2.05"/><circle cx="360.4" cy="239.2" r="2.05"/><circle cx="360.8" cy="207.7" r="2.05"/><circle cx="360.5" cy="220.8" r="2.05"/><circle cx="357.7" cy="217.3" r="2.05"/><circle cx="344.4" cy="282.2" r="2.05"/><circle cx="353.2" cy="289.6" r="2.05"/><circle cx="359.1" cy="286.9" r="2.05"/><circle cx="353.0" cy="270.6" r="2.05"/><circle cx="358.4" cy="286.6" r="2.05"/><circle cx="360.4" cy="171.7" r="2.05"/><circle cx="353.4" cy="296.2" r="2.05"/><circle cx="358.8" cy="269.1" r="2.05"/><circle cx="357.7" cy="294.5" r="2.05"/><circle cx="352.8" cy="296.4" r="2.05"/><circle cx="355.4" cy="275.1" r="2.05"/><circle cx="346.1" cy="276.7" r="2.05"/><circle cx="355.9" cy="211.2" r="2.05"/><circle cx="359.6" cy="218.4" r="2.05"/><circle cx="349.7" cy="274.0" r="2.05"/><circle cx="361.0" cy="194.3" r="2.05"/><circle cx="357.1" cy="294.3" r="2.05"/><circle cx="359.1" cy="269.1" r="2.05"/><circle cx="346.2" cy="292.4" r="2.05"/><circle cx="347.2" cy="294.0" r="2.05"/><circle cx="360.6" cy="164.0" r="2.05"/><circle cx="361.3" cy="244.4" r="2.05"/><circle cx="355.2" cy="248.8" r="2.05"/><circle cx="356.9" cy="294.9" r="2.05"/><circle cx="360.0" cy="295.7" r="2.05"/><circle cx="360.5" cy="278.3" r="2.05"/><circle cx="357.4" cy="232.0" r="2.05"/><circle cx="360.9" cy="278.1" r="2.05"/><circle cx="352.4" cy="265.3" r="2.05"/><circle cx="345.6" cy="273.9" r="2.05"/><circle cx="360.7" cy="273.8" r="2.05"/><circle cx="353.1" cy="285.4" r="2.05"/><circle cx="355.9" cy="250.4" r="2.05"/><circle cx="355.0" cy="240.7" r="2.05"/><circle cx="358.8" cy="224.8" r="2.05"/><circle cx="360.0" cy="291.0" r="2.05"/><circle cx="359.8" cy="194.5" r="2.05"/><circle cx="358.2" cy="290.0" r="2.05"/><circle cx="359.4" cy="293.8" r="2.05"/><circle cx="352.4" cy="232.7" r="2.05"/><circle cx="359.8" cy="290.1" r="2.05"/><circle cx="353.7" cy="291.5" r="2.05"/><circle cx="352.4" cy="223.3" r="2.05"/><circle cx="352.7" cy="290.2" r="2.05"/><circle cx="360.1" cy="205.9" r="2.05"/><circle cx="360.9" cy="262.0" r="2.05"/><circle cx="361.4" cy="232.8" r="2.05"/><circle cx="355.2" cy="236.3" r="2.05"/><circle cx="355.7" cy="272.9" r="2.05"/><circle cx="361.6" cy="180.3" r="2.05"/><circle cx="358.4" cy="272.0" r="2.05"/><circle cx="353.8" cy="259.0" r="2.05"/><circle cx="357.1" cy="285.7" r="2.05"/><circle cx="357.6" cy="268.6" r="2.05"/><circle cx="360.5" cy="180.7" r="2.05"/><circle cx="353.5" cy="264.8" r="2.05"/><circle cx="358.4" cy="205.3" r="2.05"/><circle cx="361.2" cy="165.0" r="2.05"/><circle cx="353.2" cy="287.7" r="2.05"/><circle cx="358.1" cy="275.7" r="2.05"/><circle cx="352.0" cy="264.6" r="2.05"/><circle cx="355.3" cy="284.0" r="2.05"/><circle cx="360.9" cy="206.0" r="2.05"/><circle cx="349.2" cy="287.6" r="2.05"/><circle cx="361.9" cy="214.2" r="2.05"/><circle cx="354.3" cy="290.4" r="2.05"/><circle cx="359.4" cy="197.1" r="2.05"/><circle cx="350.5" cy="278.8" r="2.05"/><circle cx="352.9" cy="291.3" r="2.05"/><circle cx="360.1" cy="222.4" r="2.05"/><circle cx="354.8" cy="293.1" r="2.05"/><circle cx="355.3" cy="286.7" r="2.05"/><circle cx="354.3" cy="294.8" r="2.05"/><circle cx="361.5" cy="199.9" r="2.05"/><circle cx="360.3" cy="284.1" r="2.05"/><circle cx="356.7" cy="278.0" r="2.05"/><circle cx="356.7" cy="260.8" r="2.05"/><circle cx="359.3" cy="249.7" r="2.05"/><circle cx="360.3" cy="239.6" r="2.05"/><circle cx="352.2" cy="216.4" r="2.05"/><circle cx="347.3" cy="257.1" r="2.05"/><circle cx="352.9" cy="296.8" r="2.05"/><circle cx="355.7" cy="256.1" r="2.05"/><circle cx="343.6" cy="296.3" r="2.05"/><circle cx="346.6" cy="296.5" r="2.05"/><circle cx="348.0" cy="295.6" r="2.05"/><circle cx="349.8" cy="296.7" r="2.05"/><circle cx="352.2" cy="296.9" r="2.05"/><circle cx="354.3" cy="296.5" r="2.05"/><circle cx="356.8" cy="296.6" r="2.05"/><circle cx="358.3" cy="296.7" r="2.05"/><circle cx="360.2" cy="296.4" r="2.05"/><circle cx="344.6" cy="294.8" r="2.05"/><circle cx="346.1" cy="293.6" r="2.05"/><circle cx="348.1" cy="294.5" r="2.05"/><circle cx="351.0" cy="293.6" r="2.05"/><circle cx="352.5" cy="293.9" r="2.05"/><circle cx="354.7" cy="293.8" r="2.05"/><circle cx="356.7" cy="294.0" r="2.05"/><circle cx="358.4" cy="294.8" r="2.05"/><circle cx="360.8" cy="294.2" r="2.05"/><circle cx="344.7" cy="291.7" r="2.05"/><circle cx="346.2" cy="291.7" r="2.05"/><circle cx="348.9" cy="292.1" r="2.05"/><circle cx="350.8" cy="292.0" r="2.05"/><circle cx="352.9" cy="291.7" r="2.05"/><circle cx="354.5" cy="291.6" r="2.05"/><circle cx="357.1" cy="291.4" r="2.05"/><circle cx="358.9" cy="292.2" r="2.05"/><circle cx="344.6" cy="289.8" r="2.05"/><circle cx="347.3" cy="290.6" r="2.05"/><circle cx="349.1" cy="290.0" r="2.05"/><circle cx="350.6" cy="289.8" r="2.05"/><circle cx="353.2" cy="290.2" r="2.05"/><circle cx="355.0" cy="290.4" r="2.05"/><circle cx="357.2" cy="290.4" r="2.05"/><circle cx="359.5" cy="290.2" r="2.05"/><circle cx="345.0" cy="288.4" r="2.05"/><circle cx="346.2" cy="288.5" r="2.05"/><circle cx="348.6" cy="288.3" r="2.05"/><circle cx="350.9" cy="287.9" r="2.05"/><circle cx="352.8" cy="287.4" r="2.05"/><circle cx="355.4" cy="287.6" r="2.05"/><circle cx="356.9" cy="287.7" r="2.05"/><circle cx="359.2" cy="287.9" r="2.05"/><circle cx="344.6" cy="285.3" r="2.05"/><circle cx="346.1" cy="286.2" r="2.05"/><circle cx="349.0" cy="285.7" r="2.05"/><circle cx="350.9" cy="285.4" r="2.05"/><circle cx="352.8" cy="286.2" r="2.05"/><circle cx="355.1" cy="285.2" r="2.05"/><circle cx="356.5" cy="286.3" r="2.05"/><circle cx="359.4" cy="286.2" r="2.05"/><circle cx="344.3" cy="284.1" r="2.05"/><circle cx="346.0" cy="284.2" r="2.05"/><circle cx="348.4" cy="284.1" r="2.05"/><circle cx="351.0" cy="283.1" r="2.05"/><circle cx="353.1" cy="283.3" r="2.05"/><circle cx="355.0" cy="283.3" r="2.05"/><circle cx="356.5" cy="283.5" r="2.05"/><circle cx="358.4" cy="283.4" r="2.05"/><circle cx="343.9" cy="282.1" r="2.05"/><circle cx="346.3" cy="281.7" r="2.05"/><circle cx="348.8" cy="281.3" r="2.05"/><circle cx="350.3" cy="281.5" r="2.05"/><circle cx="352.9" cy="280.8" r="2.05"/><circle cx="354.3" cy="281.5" r="2.05"/><circle cx="356.6" cy="281.2" r="2.05"/><circle cx="358.8" cy="280.9" r="2.05"/><circle cx="344.5" cy="280.0" r="2.05"/><circle cx="346.1" cy="278.8" r="2.05"/><circle cx="348.1" cy="279.0" r="2.05"/><circle cx="350.6" cy="278.7" r="2.05"/><circle cx="352.3" cy="279.4" r="2.05"/><circle cx="354.5" cy="279.4" r="2.05"/><circle cx="356.6" cy="278.8" r="2.05"/><circle cx="358.7" cy="279.2" r="2.05"/><circle cx="344.4" cy="276.9" r="2.05"/><circle cx="346.7" cy="277.6" r="2.05"/><circle cx="348.3" cy="277.4" r="2.05"/><circle cx="350.4" cy="277.1" r="2.05"/><circle cx="352.9" cy="277.2" r="2.05"/><circle cx="355.0" cy="277.2" r="2.05"/><circle cx="357.2" cy="277.5" r="2.05"/><circle cx="358.4" cy="277.4" r="2.05"/><circle cx="344.5" cy="274.8" r="2.05"/><circle cx="346.7" cy="275.1" r="2.05"/><circle cx="348.7" cy="275.4" r="2.05"/><circle cx="350.8" cy="275.6" r="2.05"/><circle cx="353.0" cy="274.7" r="2.05"/><circle cx="354.9" cy="274.9" r="2.05"/><circle cx="357.2" cy="274.6" r="2.05"/><circle cx="358.9" cy="274.7" r="2.05"/><circle cx="348.1" cy="272.9" r="2.05"/><circle cx="350.6" cy="272.7" r="2.05"/><circle cx="352.8" cy="273.6" r="2.05"/><circle cx="354.6" cy="272.6" r="2.05"/><circle cx="356.8" cy="272.3" r="2.05"/><circle cx="359.2" cy="272.3" r="2.05"/><circle cx="361.1" cy="273.6" r="2.05"/><circle cx="349.0" cy="271.0" r="2.05"/><circle cx="351.1" cy="271.5" r="2.05"/><circle cx="353.1" cy="270.9" r="2.05"/><circle cx="355.0" cy="270.7" r="2.05"/><circle cx="357.0" cy="271.4" r="2.05"/><circle cx="358.9" cy="270.2" r="2.05"/><circle cx="349.1" cy="268.9" r="2.05"/><circle cx="351.3" cy="269.0" r="2.05"/><circle cx="353.9" cy="268.3" r="2.05"/><circle cx="355.5" cy="268.2" r="2.05"/><circle cx="357.6" cy="268.9" r="2.05"/><circle cx="359.5" cy="268.5" r="2.05"/><circle cx="350.2" cy="266.2" r="2.05"/><circle cx="351.5" cy="267.1" r="2.05"/><circle cx="353.8" cy="267.1" r="2.05"/><circle cx="355.5" cy="267.2" r="2.05"/><circle cx="357.9" cy="267.3" r="2.05"/><circle cx="360.3" cy="266.8" r="2.05"/><circle cx="350.1" cy="263.8" r="2.05"/><circle cx="352.4" cy="264.1" r="2.05"/><circle cx="354.0" cy="264.7" r="2.05"/><circle cx="356.1" cy="264.7" r="2.05"/><circle cx="358.6" cy="264.2" r="2.05"/><circle cx="360.3" cy="264.3" r="2.05"/><circle cx="350.7" cy="262.3" r="2.05"/><circle cx="351.9" cy="262.6" r="2.05"/><circle cx="354.4" cy="262.0" r="2.05"/><circle cx="356.2" cy="262.8" r="2.05"/><circle cx="358.2" cy="262.8" r="2.05"/><circle cx="361.0" cy="262.1" r="2.05"/><circle cx="350.5" cy="259.7" r="2.05"/><circle cx="352.6" cy="259.9" r="2.05"/><circle cx="355.0" cy="260.0" r="2.05"/><circle cx="357.0" cy="259.8" r="2.05"/><circle cx="358.8" cy="260.9" r="2.05"/><circle cx="360.7" cy="260.6" r="2.05"/><circle cx="351.1" cy="258.3" r="2.05"/><circle cx="353.3" cy="257.5" r="2.05"/><circle cx="354.9" cy="258.5" r="2.05"/><circle cx="356.9" cy="257.4" r="2.05"/><circle cx="359.3" cy="257.7" r="2.05"/><circle cx="361.4" cy="258.0" r="2.05"/><circle cx="350.7" cy="256.4" r="2.05"/><circle cx="353.6" cy="255.8" r="2.05"/><circle cx="355.4" cy="256.5" r="2.05"/><circle cx="357.5" cy="255.7" r="2.05"/><circle cx="359.0" cy="256.5" r="2.05"/><circle cx="351.5" cy="253.8" r="2.05"/><circle cx="353.3" cy="253.6" r="2.05"/><circle cx="356.1" cy="253.4" r="2.05"/><circle cx="358.1" cy="254.4" r="2.05"/><circle cx="359.7" cy="253.8" r="2.05"/><circle cx="351.9" cy="251.2" r="2.05"/><circle cx="353.4" cy="252.0" r="2.05"/><circle cx="355.5" cy="252.4" r="2.05"/><circle cx="358.0" cy="251.7" r="2.05"/><circle cx="359.8" cy="252.1" r="2.05"/><circle cx="351.3" cy="249.8" r="2.05"/><circle cx="353.9" cy="249.3" r="2.05"/><circle cx="356.4" cy="249.6" r="2.05"/><circle cx="357.9" cy="248.9" r="2.05"/><circle cx="360.5" cy="249.1" r="2.05"/><circle cx="351.8" cy="248.1" r="2.05"/><circle cx="353.5" cy="247.6" r="2.05"/><circle cx="356.4" cy="247.5" r="2.05"/><circle cx="357.7" cy="247.0" r="2.05"/><circle cx="359.8" cy="247.9" r="2.05"/><circle cx="351.6" cy="246.0" r="2.05"/><circle cx="354.2" cy="245.8" r="2.05"/><circle cx="356.2" cy="244.7" r="2.05"/><circle cx="358.6" cy="245.3" r="2.05"/><circle cx="360.1" cy="246.0" r="2.05"/><circle cx="352.5" cy="243.5" r="2.05"/><circle cx="354.4" cy="242.6" r="2.05"/><circle cx="356.7" cy="243.0" r="2.05"/><circle cx="358.3" cy="243.0" r="2.05"/><circle cx="360.3" cy="242.8" r="2.05"/><circle cx="352.4" cy="241.7" r="2.05"/><circle cx="354.1" cy="241.0" r="2.05"/><circle cx="356.4" cy="240.8" r="2.05"/><circle cx="358.7" cy="240.6" r="2.05"/><circle cx="360.7" cy="240.5" r="2.05"/><circle cx="352.6" cy="238.3" r="2.05"/><circle cx="354.8" cy="239.1" r="2.05"/><circle cx="357.0" cy="238.6" r="2.05"/><circle cx="359.1" cy="238.6" r="2.05"/><circle cx="360.3" cy="238.3" r="2.05"/><circle cx="352.5" cy="237.3" r="2.05"/><circle cx="354.6" cy="236.8" r="2.05"/><circle cx="356.9" cy="236.5" r="2.05"/><circle cx="359.2" cy="236.2" r="2.05"/><circle cx="360.7" cy="237.2" r="2.05"/><circle cx="353.5" cy="234.5" r="2.05"/><circle cx="355.0" cy="234.3" r="2.05"/><circle cx="357.3" cy="235.3" r="2.05"/><circle cx="359.0" cy="234.3" r="2.05"/><circle cx="361.0" cy="234.8" r="2.05"/><circle cx="353.3" cy="232.3" r="2.05"/><circle cx="355.8" cy="232.9" r="2.05"/><circle cx="357.5" cy="233.2" r="2.05"/><circle cx="359.4" cy="232.8" r="2.05"/><circle cx="361.4" cy="233.2" r="2.05"/><circle cx="353.6" cy="230.6" r="2.05"/><circle cx="356.1" cy="229.9" r="2.05"/><circle cx="358.0" cy="230.2" r="2.05"/><circle cx="360.4" cy="230.7" r="2.05"/><circle cx="362.4" cy="230.7" r="2.05"/><circle cx="354.6" cy="228.0" r="2.05"/><circle cx="356.0" cy="228.4" r="2.05"/><circle cx="358.0" cy="228.9" r="2.05"/><circle cx="360.1" cy="227.8" r="2.05"/><circle cx="362.8" cy="227.9" r="2.05"/><circle cx="354.1" cy="225.8" r="2.05"/><circle cx="356.3" cy="226.5" r="2.05"/><circle cx="358.4" cy="226.4" r="2.05"/><circle cx="361.1" cy="226.1" r="2.05"/><circle cx="362.4" cy="226.5" r="2.05"/><circle cx="354.8" cy="224.5" r="2.05"/><circle cx="356.2" cy="223.8" r="2.05"/><circle cx="358.6" cy="224.0" r="2.05"/><circle cx="360.9" cy="224.0" r="2.05"/><circle cx="362.9" cy="224.8" r="2.05"/><circle cx="355.0" cy="221.7" r="2.05"/><circle cx="357.1" cy="222.4" r="2.05"/><circle cx="358.9" cy="221.9" r="2.05"/><circle cx="360.4" cy="222.0" r="2.05"/><circle cx="362.9" cy="221.4" r="2.05"/><circle cx="354.2" cy="219.6" r="2.05"/><circle cx="357.0" cy="219.3" r="2.05"/><circle cx="359.1" cy="220.5" r="2.05"/><circle cx="360.5" cy="220.3" r="2.05"/><circle cx="362.6" cy="220.2" r="2.05"/><circle cx="354.9" cy="217.8" r="2.05"/><circle cx="356.3" cy="217.8" r="2.05"/><circle cx="359.0" cy="218.0" r="2.05"/><circle cx="361.0" cy="218.3" r="2.05"/><circle cx="362.9" cy="217.8" r="2.05"/><circle cx="354.5" cy="215.5" r="2.05"/><circle cx="357.2" cy="215.5" r="2.05"/><circle cx="358.4" cy="216.1" r="2.05"/><circle cx="360.7" cy="216.1" r="2.05"/><circle cx="362.6" cy="215.9" r="2.05"/><circle cx="354.4" cy="213.9" r="2.05"/><circle cx="356.9" cy="214.2" r="2.05"/><circle cx="359.2" cy="213.0" r="2.05"/><circle cx="360.5" cy="213.4" r="2.05"/><circle cx="363.4" cy="213.2" r="2.05"/><circle cx="355.7" cy="211.0" r="2.05"/><circle cx="356.8" cy="211.1" r="2.05"/><circle cx="359.3" cy="211.3" r="2.05"/><circle cx="361.6" cy="210.8" r="2.05"/><circle cx="363.6" cy="211.2" r="2.05"/><circle cx="356.0" cy="208.7" r="2.05"/><circle cx="358.0" cy="209.0" r="2.05"/><circle cx="360.0" cy="209.1" r="2.05"/><circle cx="362.2" cy="209.1" r="2.05"/><circle cx="357.6" cy="207.7" r="2.05"/><circle cx="359.0" cy="207.5" r="2.05"/><circle cx="361.3" cy="207.7" r="2.05"/><circle cx="358.2" cy="204.6" r="2.05"/><circle cx="360.2" cy="205.3" r="2.05"/><circle cx="362.8" cy="205.6" r="2.05"/><circle cx="358.9" cy="203.2" r="2.05"/><circle cx="361.0" cy="203.0" r="2.05"/><circle cx="362.5" cy="202.5" r="2.05"/><circle cx="358.4" cy="200.3" r="2.05"/><circle cx="361.1" cy="200.4" r="2.05"/><circle cx="358.7" cy="198.4" r="2.05"/><circle cx="361.0" cy="199.3" r="2.05"/><circle cx="358.8" cy="196.6" r="2.05"/><circle cx="361.7" cy="196.1" r="2.05"/><circle cx="359.1" cy="194.1" r="2.05"/><circle cx="361.8" cy="195.0" r="2.05"/><circle cx="359.4" cy="192.4" r="2.05"/><circle cx="362.0" cy="192.7" r="2.05"/><circle cx="359.7" cy="190.8" r="2.05"/><circle cx="361.7" cy="190.7" r="2.05"/><circle cx="360.0" cy="187.5" r="2.05"/><circle cx="361.9" cy="188.0" r="2.05"/><circle cx="360.8" cy="186.5" r="2.05"/><circle cx="360.3" cy="183.2" r="2.05"/><circle cx="360.6" cy="181.2" r="2.05"/><circle cx="360.7" cy="179.5" r="2.05"/><circle cx="360.1" cy="177.8" r="2.05"/><circle cx="360.3" cy="175.5" r="2.05"/><circle cx="360.4" cy="173.0" r="2.05"/><circle cx="360.6" cy="170.7" r="2.05"/><circle cx="360.4" cy="168.7" r="2.05"/><circle cx="364.3" cy="296.0" r="2.05"/><circle cx="366.1" cy="293.7" r="2.05"/><circle cx="367.9" cy="296.3" r="2.05"/><circle cx="363.7" cy="291.3" r="2.05"/><circle cx="365.5" cy="288.9" r="2.05"/><circle cx="363.4" cy="286.0" r="2.05"/><circle cx="364.9" cy="281.9" r="2.05"/><circle cx="364.3" cy="276.6" r="2.05"/><circle cx="366.7" cy="273.0" r="2.05"/><circle cx="363.7" cy="268.3" r="2.05"/><circle cx="364.9" cy="260.6" r="2.05"/><circle cx="365.5" cy="252.4" r="2.05"/><circle cx="364.7" cy="244.7" r="2.05"/><circle cx="365.9" cy="235.8" r="2.05"/><circle cx="366.1" cy="224.6" r="2.05"/><circle cx="366.4" cy="209.3" r="2.05"/><circle cx="360.0" cy="98.4" r="2.05"/><circle cx="364.3" cy="96.6" r="2.05"/><circle cx="366.1" cy="94.2" r="2.05"/><circle cx="363.1" cy="144.4" r="2.05"/><circle cx="364.9" cy="145.6" r="2.05"/><circle cx="352.7" cy="166.2" r="2.05"/><circle cx="361.9" cy="159.1" r="2.05"/><circle cx="365.5" cy="163.9" r="2.05"/><circle cx="356.4" cy="174.5" r="2.05"/><circle cx="358.2" cy="180.4" r="2.05"/><circle cx="363.7" cy="181.6" r="2.05"/><circle cx="364.3" cy="192.2" r="2.05"/><circle cx="350.9" cy="206.9" r="2.05"/><circle cx="366.7" cy="216.4" r="2.05"/><circle cx="347.2" cy="217.6" r="2.05"/><circle cx="365.5" cy="229.3" r="2.05"/><circle cx="366.1" cy="244.1" r="2.05"/><circle cx="344.2" cy="242.3" r="2.05"/><circle cx="342.9" cy="258.3" r="2.05"/><circle cx="366.1" cy="264.8" r="2.05"/><circle cx="369.2" cy="280.1" r="2.05"/><circle cx="365.5" cy="284.2" r="2.05"/><circle cx="372.8" cy="290.1" r="2.05"/><circle cx="371.0" cy="297.8" r="2.05"/><circle cx="379.5" cy="299.9" r="2.05"/><circle cx="394.8" cy="301.6" r="2.05"/><circle cx="400.3" cy="297.8" r="2.05"/><circle cx="367.3" cy="300.1" r="2.05"/><circle cx="366.7" cy="295.4" r="2.05"/><circle cx="364.9" cy="291.3" r="2.05"/></g>
<line x1="340.5" y1="11.5" x2="340.5" y2="316.4" stroke="#111" stroke-width="1.2" stroke-dasharray="3.2,2.6"/>
<line x1="192" y1="300.8" x2="490" y2="300.8" stroke="#111" stroke-width="1.2" stroke-dasharray="3.2,2.6"/>
<rect x="186.5" y="11.5" width="308.2" height="304.9" fill="none" stroke="#222" stroke-width="1.3"/>
<line x1="183.0" y1="14" x2="186.5" y2="14" stroke="#222" stroke-width="1.2"/>
<text transform="translate(181.6,19.6) scale(1.08,1)" font-size="15.6" text-anchor="end">50</text>
<line x1="183.0" y1="73" x2="186.5" y2="73" stroke="#222" stroke-width="1.2"/>
<text transform="translate(181.6,78.6) scale(1.08,1)" font-size="15.6" text-anchor="end">40</text>
<line x1="183.0" y1="132" x2="186.5" y2="132" stroke="#222" stroke-width="1.2"/>
<text transform="translate(181.6,137.6) scale(1.08,1)" font-size="15.6" text-anchor="end">30</text>
<line x1="183.0" y1="191" x2="186.5" y2="191" stroke="#222" stroke-width="1.2"/>
<text transform="translate(181.6,196.6) scale(1.08,1)" font-size="15.6" text-anchor="end">20</text>
<line x1="183.0" y1="250" x2="186.5" y2="250" stroke="#222" stroke-width="1.2"/>
<text transform="translate(181.6,255.6) scale(1.08,1)" font-size="15.6" text-anchor="end">10</text>
<line x1="183.0" y1="309" x2="186.5" y2="309" stroke="#222" stroke-width="1.2"/>
<text transform="translate(181.6,314.6) scale(1.08,1)" font-size="15.6" text-anchor="end">0</text>
<line x1="218.5" y1="316.4" x2="218.5" y2="319.9" stroke="#222" stroke-width="1.2"/>
<text transform="translate(219.0,334) scale(1.06,1)" font-size="15.8" text-anchor="middle">-10</text>
<line x1="279.5" y1="316.4" x2="279.5" y2="319.9" stroke="#222" stroke-width="1.2"/>
<text transform="translate(280.0,334) scale(1.06,1)" font-size="15.8" text-anchor="middle">-5</text>
<line x1="340.5" y1="316.4" x2="340.5" y2="319.9" stroke="#222" stroke-width="1.2"/>
<text transform="translate(341.0,334) scale(1.06,1)" font-size="15.8" text-anchor="middle">0</text>
<line x1="401.5" y1="316.4" x2="401.5" y2="319.9" stroke="#222" stroke-width="1.2"/>
<text transform="translate(402.0,334) scale(1.06,1)" font-size="15.8" text-anchor="middle">5</text>
<line x1="462.5" y1="316.4" x2="462.5" y2="319.9" stroke="#222" stroke-width="1.2"/>
<text transform="translate(463.0,334) scale(1.06,1)" font-size="15.8" text-anchor="middle">10</text>
<text x="341" y="353.6" font-size="20.5" class="b" text-anchor="middle" fill="#2a2a2a">log2(FC)</text>
<text transform="translate(155.6,163) rotate(-90)" font-size="20" class="b" text-anchor="middle" fill="#2a2a2a">-log10(FDR)</text>
<circle cx="515.3" cy="138.3" r="8.25" fill="#c9001f"/>
<text x="526" y="144.7" font-size="18.3" class="b" fill="#262626">up</text>
<circle cx="515.3" cy="158.05" r="8.25" fill="#d4d4d4"/>
<text x="526" y="164.9" font-size="18.3" class="b" fill="#262626">nodiff</text>
<circle cx="515.3" cy="178.2" r="8.25" fill="#1070b3"/>
<text x="526" y="184.9" font-size="18.3" class="b" fill="#262626">down</text>
</g>
<g id="panelB">
<text x="16" y="408" font-size="20">b)</text>
<rect x="259.2" y="409.5" width="226.0" height="358.9" fill="#fff"/>
<line x1="313.4" y1="409.5" x2="313.4" y2="768.4" stroke="#d2d2d2" stroke-width="1" stroke-dasharray="4.5,3.6"/>
<line x1="374.3" y1="409.5" x2="374.3" y2="768.4" stroke="#d2d2d2" stroke-width="1" stroke-dasharray="4.5,3.6"/>
<line x1="435.4" y1="409.5" x2="435.4" y2="768.4" stroke="#d2d2d2" stroke-width="1" stroke-dasharray="4.5,3.6"/>
<line x1="259.2" y1="427.7" x2="485.2" y2="427.7" stroke="#d2d2d2" stroke-width="1" stroke-dasharray="4.5,3.6"/>
<line x1="259.2" y1="463.6" x2="485.2" y2="463.6" stroke="#d2d2d2" stroke-width="1" stroke-dasharray="4.5,3.6"/>
<line x1="259.2" y1="499.5" x2="485.2" y2="499.5" stroke="#d2d2d2" stroke-width="1" stroke-dasharray="4.5,3.6"/>
<line x1="259.2" y1="535.3" x2="485.2" y2="535.3" stroke="#d2d2d2" stroke-width="1" stroke-dasharray="4.5,3.6"/>
<line x1="259.2" y1="571.2" x2="485.2" y2="571.2" stroke="#d2d2d2" stroke-width="1" stroke-dasharray="4.5,3.6"/>
<line x1="259.2" y1="607.1" x2="485.2" y2="607.1" stroke="#d2d2d2" stroke-width="1" stroke-dasharray="4.5,3.6"/>
<line x1="259.2" y1="643.0" x2="485.2" y2="643.0" stroke="#d2d2d2" stroke-width="1" stroke-dasharray="4.5,3.6"/>
<line x1="259.2" y1="678.9" x2="485.2" y2="678.9" stroke="#d2d2d2" stroke-width="1" stroke-dasharray="4.5,3.6"/>
<line x1="259.2" y1="714.7" x2="485.2" y2="714.7" stroke="#d2d2d2" stroke-width="1" stroke-dasharray="4.5,3.6"/>
<line x1="259.2" y1="750.6" x2="485.2" y2="750.6" stroke="#d2d2d2" stroke-width="1" stroke-dasharray="4.5,3.6"/>
<circle cx="391.6" cy="427.7" r="5.7" fill="#f4562c" stroke="#2b2b2b" stroke-width="0.9"/>
<circle cx="376.1" cy="463.6" r="6.5" fill="#f85a2b" stroke="#2b2b2b" stroke-width="0.9"/>
<circle cx="396.3" cy="499.5" r="5.2" fill="#fa9840" stroke="#2b2b2b" stroke-width="0.9"/>
<circle cx="349.9" cy="535.3" r="7.5" fill="#fb9b41" stroke="#2b2b2b" stroke-width="0.9"/>
<circle cx="439.6" cy="571.2" r="3.9" fill="#fba344" stroke="#2b2b2b" stroke-width="0.9"/>
<circle cx="348.3" cy="607.1" r="7.5" fill="#fb9a40" stroke="#2b2b2b" stroke-width="0.9"/>
<circle cx="372.2" cy="643.0" r="5.7" fill="#fbc24c" stroke="#2b2b2b" stroke-width="0.9"/>
<circle cx="447.4" cy="678.9" r="3.2" fill="#f5cd49" stroke="#2b2b2b" stroke-width="0.9"/>
<circle cx="348.1" cy="714.7" r="6.5" fill="#f4dc78" stroke="#2b2b2b" stroke-width="0.9"/>
<circle cx="309.7" cy="750.6" r="9.8" fill="#f5e6aa" stroke="#2b2b2b" stroke-width="0.9"/>
<rect x="259.2" y="409.5" width="226.0" height="358.9" fill="none" stroke="#333" stroke-width="1.2"/>
<text x="251" y="432.7" font-size="14.45" class="b" text-anchor="end" fill="#222">Autophagy - animal</text>
<text x="251" y="468.6" font-size="14.45" class="b" text-anchor="end" fill="#222">MicroRNAs in cancer</text>
<text x="251" y="504.5" font-size="14.45" class="b" text-anchor="end" fill="#222">Cell cycle</text>
<text x="251" y="540.3" font-size="14.45" class="b" text-anchor="end" fill="#222">Focal adhesion</text>
<text x="251" y="576.2" font-size="14.45" class="b" text-anchor="end" fill="#222">ErbB signaling pathway</text>
<text x="251" y="612.1" font-size="14.45" class="b" text-anchor="end" fill="#222">Proteoglycans in cancer</text>
<text x="251" y="648.0" font-size="14.45" class="b" text-anchor="end" fill="#222">Ubiquitin mediated proteolysis</text>
<text x="251" y="683.9" font-size="14.45" class="b" text-anchor="end" fill="#222">Adherens junction</text>
<text x="251" y="719.7" font-size="14.45" class="b" text-anchor="end" fill="#222">Cellular senescence</text>
<text x="251" y="755.6" font-size="14.45" class="b" text-anchor="end" fill="#222">MAPK signaling pathway</text>
<text x="313.4" y="787" font-size="15" text-anchor="middle" fill="#444">0.4</text>
<text x="374.3" y="787" font-size="15" text-anchor="middle" fill="#444">0.5</text>
<text x="435.4" y="787" font-size="15" text-anchor="middle" fill="#444">0.6</text>
<text x="372" y="808" font-size="18" class="b" text-anchor="middle" fill="#2a2a2a">Gene Ratio</text>
<text transform="translate(15.3,589.5) rotate(-90)" font-size="18.1" class="b" text-anchor="middle" fill="#2a2a2a">Pathway</text>
<text x="499.3" y="423" font-size="16.1" fill="#2a2a2a">Gene number</text>
<circle cx="507.1" cy="455.4" r="4.5" fill="#666"/>
<text x="529" y="455.4" font-size="16" fill="#2a2a2a">60</text>
<circle cx="507.1" cy="478.6" r="6.2" fill="#666"/>
<text x="529" y="478.7" font-size="16" fill="#2a2a2a">80</text>
<circle cx="507.1" cy="502" r="7.9" fill="#666"/>
<text x="529" y="502.1" font-size="16" fill="#2a2a2a">100</text>
<text x="499.3" y="543" font-size="16.1" fill="#2a2a2a">-log<tspan font-size="11.5" dy="3.5">10</tspan><tspan dy="-3.5">(Qvalue)</tspan></text>
<defs><linearGradient id="gb" x1="0" y1="0" x2="0" y2="1">
<stop offset="0" stop-color="#f8502a"/><stop offset="0.09" stop-color="#f9582c"/>
<stop offset="0.30" stop-color="#fa8a3a"/><stop offset="0.455" stop-color="#fba944"/>
<stop offset="0.62" stop-color="#f9c54a"/><stop offset="0.82" stop-color="#f3d84f"/>
<stop offset="0.90" stop-color="#f3df7a"/><stop offset="1" stop-color="#f5e7ac"/></linearGradient></defs>
<rect x="499" y="557.8" width="13.7" height="96.8" fill="url(#gb)"/>
<line x1="499" y1="566.3" x2="501.6" y2="566.3" stroke="#fff" stroke-width="0.8"/>
<line x1="510.1" y1="566.3" x2="512.7" y2="566.3" stroke="#fff" stroke-width="0.8"/>
<text x="516" y="569.0" font-size="16" fill="#2a2a2a">13</text>
<line x1="499" y1="601.8" x2="501.6" y2="601.8" stroke="#fff" stroke-width="0.8"/>
<line x1="510.1" y1="601.8" x2="512.7" y2="601.8" stroke="#fff" stroke-width="0.8"/>
<text x="516" y="604.5" font-size="16" fill="#2a2a2a">12</text>
<line x1="499" y1="637.1" x2="501.6" y2="637.1" stroke="#fff" stroke-width="0.8"/>
<line x1="510.1" y1="637.1" x2="512.7" y2="637.1" stroke="#fff" stroke-width="0.8"/>
<text x="516" y="639.8000000000001" font-size="16" fill="#2a2a2a">11</text>
</g>
<g id="panelC">
<text x="92.5" y="880.5" font-size="20">c)</text>
<text x="370.6" y="871.3" font-size="16.5" class="b" text-anchor="middle" fill="#111">Autophagy</text>
<line x1="167.6" y1="1015.4" x2="559.3" y2="1015.4" stroke="#e8e8e8" stroke-width="1" stroke-dasharray="1.6,2.6"/>
<line x1="167.6" y1="993.0" x2="559.3" y2="993.0" stroke="#e8e8e8" stroke-width="1" stroke-dasharray="1.6,2.6"/>
<line x1="167.6" y1="970.7" x2="559.3" y2="970.7" stroke="#e8e8e8" stroke-width="1" stroke-dasharray="1.6,2.6"/>
<line x1="167.6" y1="948.4" x2="559.3" y2="948.4" stroke="#e8e8e8" stroke-width="1" stroke-dasharray="1.6,2.6"/>
<line x1="167.6" y1="926.0" x2="559.3" y2="926.0" stroke="#e8e8e8" stroke-width="1" stroke-dasharray="1.6,2.6"/>
<line x1="167.6" y1="903.7" x2="559.3" y2="903.7" stroke="#e8e8e8" stroke-width="1" stroke-dasharray="1.6,2.6"/>
<line x1="164.6" y1="1037.7" x2="559.3" y2="1037.7" stroke="#a8a8a8" stroke-width="1.1" stroke-dasharray="1.8,2.8"/>
<path d="M163.6,1037.7 L164.9,1029.5 L166.1,1024.5 L168.6,1020.8 L171.1,1017.1 L176.1,1016.6 L177.8,1013.3 L179.3,1007.1 L180.6,997.1 L181.6,994.1 L184.8,992.1 L186.1,986.7 L187.8,980.9 L191.0,977.7 L192.8,972.7 L197.3,970.9 L199.8,966.0 L201.8,964.2 L203.5,958.5 L206.0,956.0 L207.2,949.8 L208.5,942.3 L211.0,936.8 L213.5,934.8 L216.0,926.8 L218.5,924.3 L220.4,917.9 L224.7,916.9 L227.2,914.4 L230.9,912.9 L235.9,912.9 L239.6,911.9 L244.6,911.9 L247.1,907.4 L249.1,902.9 L253.3,901.9 L259.6,903.2 L267.1,906.1 L269.6,906.1 L272.5,902.9 L277.0,903.4 L283.3,901.4 L289.5,903.9 L294.5,906.1 L297.0,906.1 L304.4,909.9 L310.7,912.9 L315.7,913.6 L324.4,917.4 L379.1,947.2 L429.0,974.6 L478.8,1003.5 L503.7,1018.0 L528.7,1029.4 L543.6,1035.4 L552.6,1039.9 L556.1,1037.9" fill="none" stroke="#f70d14" stroke-width="3.3" stroke-linejoin="round" stroke-linecap="round"/>
<rect x="163.6" y="880.5" width="398.69999999999993" height="178.9000000000001" fill="none" stroke="#333" stroke-width="1.1"/>
<line x1="159" y1="1037.7" x2="163.6" y2="1037.7" stroke="#333" stroke-width="1.1"/>
<text transform="translate(153.3,1037.7) rotate(-90)" font-size="11.5" text-anchor="middle" fill="#111">0.0</text>
<line x1="159" y1="993.1" x2="163.6" y2="993.1" stroke="#333" stroke-width="1.1"/>
<text transform="translate(153.3,993.1) rotate(-90)" font-size="11.5" text-anchor="middle" fill="#111">0.2</text>
<line x1="159" y1="948.5" x2="163.6" y2="948.5" stroke="#333" stroke-width="1.1"/>
<text transform="translate(153.3,948.5) rotate(-90)" font-size="11.5" text-anchor="middle" fill="#111">0.4</text>
<line x1="159" y1="903.6" x2="163.6" y2="903.6" stroke="#333" stroke-width="1.1"/>
<text transform="translate(153.3,903.6) rotate(-90)" font-size="11.5" text-anchor="middle" fill="#111">0.6</text>
<text transform="translate(134.2,971) rotate(-90)" font-size="14.7" text-anchor="middle" fill="#111">Enrichment score (ES)</text>
<text x="547.1" y="892.9" font-size="10.95" text-anchor="end" fill="#111">Nominal p−value: 0.0001</text>
<text x="547.1" y="906.2" font-size="10.95" text-anchor="end" fill="#111">FDR: 0.092793256</text>
<text x="547.1" y="919.5" font-size="10.95" text-anchor="end" fill="#111">ES: 0.6124846</text>
<text x="547.1" y="932.8" font-size="10.95" text-anchor="end" fill="#111">Normalized ES: 1.2548543</text>
<rect x="163.6" y="1121.3" width="21.7" height="12.1" fill="#ff1c1c"/>
<rect x="185" y="1121.3" width="65.7" height="12.1" fill="#ff3a3a"/>
<rect x="250.4" y="1121.3" width="35.5" height="12.1" fill="#ff6363"/>
<rect x="285.6" y="1121.3" width="41.7" height="12.1" fill="#ffa3a3"/>
<rect x="327.0" y="1121.3" width="161.0" height="12.1" fill="#ffdddd"/>
<rect x="487.7" y="1121.3" width="13.5" height="12.1" fill="#d4d4ff"/>
<rect x="500.9" y="1121.3" width="15.6" height="12.1" fill="#9494ff"/>
<rect x="516.2" y="1121.3" width="29.9" height="12.1" fill="#4141ff"/>
<rect x="545.8" y="1121.3" width="9.1" height="12.1" fill="#0808f4"/>
<rect x="554.6" y="1121.3" width="8.0" height="12.1" fill="#ffffff"/>
<rect x="163.8" y="1060.9" width="2.2" height="60.4" fill="#000" fill-opacity="1.0"/><rect x="167.3" y="1060.9" width="1.0" height="60.4" fill="#000" fill-opacity="0.5"/><rect x="169.3" y="1060.9" width="1.6" height="60.4" fill="#000" fill-opacity="1.0"/><rect x="176.1" y="1060.9" width="5.8" height="60.4" fill="#000" fill-opacity="1.0"/><rect x="184.4" y="1060.9" width="4.8" height="60.4" fill="#000" fill-opacity="1.0"/><rect x="191.2" y="1060.9" width="1.6" height="60.4" fill="#000" fill-opacity="1.0"/><rect x="194.2" y="1060.9" width="1.4" height="60.4" fill="#000" fill-opacity="1.0"/><rect x="197.2" y="1060.9" width="2.8" height="60.4" fill="#000" fill-opacity="1.0"/><rect x="201.6" y="1060.9" width="1.7" height="60.4" fill="#000" fill-opacity="1.0"/><rect x="204.9" y="1060.9" width="6.0" height="60.4" fill="#000" fill-opacity="0.9"/><rect x="212.2" y="1060.9" width="3.7" height="60.4" fill="#000" fill-opacity="0.9"/><rect x="218.1" y="1060.9" width="3.8" height="60.4" fill="#000" fill-opacity="1.0"/><rect x="225.0" y="1060.9" width="1.3" height="60.4" fill="#000" fill-opacity="1.0"/><rect x="229.0" y="1060.9" width="1.1" height="60.4" fill="#000" fill-opacity="1.0"/><rect x="232.1" y="1060.9" width="1.0" height="60.4" fill="#000" fill-opacity="1.0"/><rect x="235.1" y="1060.9" width="1.0" height="60.4" fill="#000" fill-opacity="1.0"/><rect x="239.4" y="1060.9" width="1.0" height="60.4" fill="#000" fill-opacity="1.0"/><rect x="242.4" y="1060.9" width="1.0" height="60.4" fill="#000" fill-opacity="1.0"/><rect x="245.2" y="1060.9" width="4.7" height="60.4" fill="#000" fill-opacity="0.9"/><rect x="252.3" y="1060.9" width="1.0" height="60.4" fill="#000" fill-opacity="1.0"/><rect x="256.1" y="1060.9" width="1.0" height="60.4" fill="#000" fill-opacity="1.0"/><rect x="260.3" y="1060.9" width="1.0" height="60.4" fill="#000" fill-opacity="1.0"/><rect x="267.8" y="1060.9" width="1.0" height="60.4" fill="#000" fill-opacity="1.0"/><rect x="270.3" y="1060.9" width="2.6" height="60.4" fill="#000" fill-opacity="1.0"/><rect x="276.3" y="1060.9" width="1.0" height="60.4" fill="#000" fill-opacity="1.0"/><rect x="278.0" y="1060.9" width="4.2" height="60.4" fill="#000" fill-opacity="0.8"/><rect x="283.6" y="1060.9" width="1.0" height="60.4" fill="#000" fill-opacity="1.0"/><rect x="291.5" y="1060.9" width="1.0" height="60.4" fill="#000" fill-opacity="1.0"/><rect x="294.9" y="1060.9" width="1.0" height="60.4" fill="#000" fill-opacity="1.0"/><rect x="297.5" y="1060.9" width="1.0" height="60.4" fill="#000" fill-opacity="1.0"/><rect x="311.0" y="1060.9" width="4.3" height="60.4" fill="#000" fill-opacity="0.6"/><rect x="320.3" y="1060.9" width="3.4" height="60.4" fill="#000" fill-opacity="0.65"/><rect x="337.6" y="1060.9" width="1.0" height="60.4" fill="#000" fill-opacity="1.0"/><rect x="340.7" y="1060.9" width="1.0" height="60.4" fill="#000" fill-opacity="1.0"/><rect x="351.7" y="1060.9" width="1.0" height="60.4" fill="#000" fill-opacity="1.0"/><rect x="368.6" y="1060.9" width="1.0" height="60.4" fill="#000" fill-opacity="1.0"/><rect x="382.0" y="1060.9" width="1.0" height="60.4" fill="#000" fill-opacity="1.0"/><rect x="384.5" y="1060.9" width="1.0" height="60.4" fill="#000" fill-opacity="1.0"/><rect x="387.5" y="1060.9" width="1.0" height="60.4" fill="#000" fill-opacity="1.0"/><rect x="398.5" y="1060.9" width="1.0" height="60.4" fill="#000" fill-opacity="1.0"/><rect x="405.6" y="1060.9" width="1.0" height="60.4" fill="#000" fill-opacity="1.0"/><rect x="413.4" y="1060.9" width="1.0" height="60.4" fill="#000" fill-opacity="1.0"/><rect x="492.5" y="1060.9" width="1.0" height="60.4" fill="#000" fill-opacity="1.0"/><rect x="496.3" y="1060.9" width="1.0" height="60.4" fill="#000" fill-opacity="1.0"/><rect x="500.4" y="1060.9" width="1.0" height="60.4" fill="#000" fill-opacity="1.0"/><rect x="506.4" y="1060.9" width="2.2" height="60.4" fill="#000" fill-opacity="0.85"/><rect x="511.7" y="1060.9" width="1.0" height="60.4" fill="#000" fill-opacity="1.0"/><rect x="516.6" y="1060.9" width="1.0" height="60.4" fill="#000" fill-opacity="1.0"/><rect x="521.8" y="1060.9" width="1.0" height="60.4" fill="#000" fill-opacity="1.0"/><rect x="524.6" y="1060.9" width="1.0" height="60.4" fill="#000" fill-opacity="1.0"/><rect x="530.3" y="1060.9" width="2.2" height="60.4" fill="#000" fill-opacity="0.6"/><rect x="539.4" y="1060.9" width="1.0" height="60.4" fill="#000" fill-opacity="1.0"/><rect x="544.4" y="1060.9" width="1.0" height="60.4" fill="#000" fill-opacity="1.0"/><rect x="552.6" y="1060.9" width="2.0" height="60.4" fill="#000" fill-opacity="0.75"/>
<rect x="163.8" y="1121.3" width="2.2" height="12.1" fill="#8c8c8c" fill-opacity="0.78"/><rect x="167.3" y="1121.3" width="1.0" height="12.1" fill="#8c8c8c" fill-opacity="0.39"/><rect x="169.3" y="1121.3" width="1.6" height="12.1" fill="#8c8c8c" fill-opacity="0.78"/><rect x="176.1" y="1121.3" width="5.8" height="12.1" fill="#8c8c8c" fill-opacity="0.35"/><rect x="184.4" y="1121.3" width="4.8" height="12.1" fill="#8c8c8c" fill-opacity="0.50"/><rect x="191.2" y="1121.3" width="1.6" height="12.1" fill="#8c8c8c" fill-opacity="0.78"/><rect x="194.2" y="1121.3" width="1.4" height="12.1" fill="#8c8c8c" fill-opacity="0.78"/><rect x="197.2" y="1121.3" width="2.8" height="12.1" fill="#8c8c8c" fill-opacity="0.60"/><rect x="201.6" y="1121.3" width="1.7" height="12.1" fill="#8c8c8c" fill-opacity="0.78"/><rect x="204.9" y="1121.3" width="6.0" height="12.1" fill="#8c8c8c" fill-opacity="0.70"/><rect x="212.2" y="1121.3" width="3.7" height="12.1" fill="#8c8c8c" fill-opacity="0.70"/><rect x="218.1" y="1121.3" width="3.8" height="12.1" fill="#8c8c8c" fill-opacity="0.60"/><rect x="225.0" y="1121.3" width="1.3" height="12.1" fill="#8c8c8c" fill-opacity="0.78"/><rect x="229.0" y="1121.3" width="1.1" height="12.1" fill="#8c8c8c" fill-opacity="0.78"/><rect x="232.1" y="1121.3" width="1.0" height="12.1" fill="#8c8c8c" fill-opacity="0.78"/><rect x="235.1" y="1121.3" width="1.0" height="12.1" fill="#8c8c8c" fill-opacity="0.78"/><rect x="239.4" y="1121.3" width="1.0" height="12.1" fill="#8c8c8c" fill-opacity="0.78"/><rect x="242.4" y="1121.3" width="1.0" height="12.1" fill="#8c8c8c" fill-opacity="0.78"/><rect x="245.2" y="1121.3" width="4.7" height="12.1" fill="#8c8c8c" fill-opacity="0.70"/><rect x="252.3" y="1121.3" width="1.0" height="12.1" fill="#8c8c8c" fill-opacity="0.78"/><rect x="256.1" y="1121.3" width="1.0" height="12.1" fill="#8c8c8c" fill-opacity="0.78"/><rect x="260.3" y="1121.3" width="1.0" height="12.1" fill="#8c8c8c" fill-opacity="0.78"/><rect x="267.8" y="1121.3" width="1.0" height="12.1" fill="#8c8c8c" fill-opacity="0.78"/><rect x="270.3" y="1121.3" width="2.6" height="12.1" fill="#8c8c8c" fill-opacity="0.78"/><rect x="276.3" y="1121.3" width="1.0" height="12.1" fill="#8c8c8c" fill-opacity="0.78"/><rect x="278.0" y="1121.3" width="4.2" height="12.1" fill="#8c8c8c" fill-opacity="0.62"/><rect x="283.6" y="1121.3" width="1.0" height="12.1" fill="#8c8c8c" fill-opacity="0.78"/><rect x="291.5" y="1121.3" width="1.0" height="12.1" fill="#8c8c8c" fill-opacity="0.78"/><rect x="294.9" y="1121.3" width="1.0" height="12.1" fill="#8c8c8c" fill-opacity="0.78"/><rect x="297.5" y="1121.3" width="1.0" height="12.1" fill="#8c8c8c" fill-opacity="0.78"/><rect x="311.0" y="1121.3" width="4.3" height="12.1" fill="#8c8c8c" fill-opacity="0.47"/><rect x="320.3" y="1121.3" width="3.4" height="12.1" fill="#8c8c8c" fill-opacity="0.51"/><rect x="337.6" y="1121.3" width="1.0" height="12.1" fill="#8c8c8c" fill-opacity="0.78"/><rect x="340.7" y="1121.3" width="1.0" height="12.1" fill="#8c8c8c" fill-opacity="0.78"/><rect x="351.7" y="1121.3" width="1.0" height="12.1" fill="#8c8c8c" fill-opacity="0.78"/><rect x="368.6" y="1121.3" width="1.0" height="12.1" fill="#8c8c8c" fill-opacity="0.78"/><rect x="382.0" y="1121.3" width="1.0" height="12.1" fill="#8c8c8c" fill-opacity="0.78"/><rect x="384.5" y="1121.3" width="1.0" height="12.1" fill="#8c8c8c" fill-opacity="0.78"/><rect x="387.5" y="1121.3" width="1.0" height="12.1" fill="#8c8c8c" fill-opacity="0.78"/><rect x="398.5" y="1121.3" width="1.0" height="12.1" fill="#8c8c8c" fill-opacity="0.78"/><rect x="405.6" y="1121.3" width="1.0" height="12.1" fill="#8c8c8c" fill-opacity="0.78"/><rect x="413.4" y="1121.3" width="1.0" height="12.1" fill="#8c8c8c" fill-opacity="0.78"/><rect x="492.5" y="1121.3" width="1.0" height="12.1" fill="#8c8c8c" fill-opacity="0.78"/><rect x="496.3" y="1121.3" width="1.0" height="12.1" fill="#8c8c8c" fill-opacity="0.78"/><rect x="500.4" y="1121.3" width="1.0" height="12.1" fill="#8c8c8c" fill-opacity="0.78"/><rect x="506.4" y="1121.3" width="2.2" height="12.1" fill="#8c8c8c" fill-opacity="0.66"/><rect x="511.7" y="1121.3" width="1.0" height="12.1" fill="#8c8c8c" fill-opacity="0.78"/><rect x="516.6" y="1121.3" width="1.0" height="12.1" fill="#8c8c8c" fill-opacity="0.78"/><rect x="521.8" y="1121.3" width="1.0" height="12.1" fill="#8c8c8c" fill-opacity="0.78"/><rect x="524.6" y="1121.3" width="1.0" height="12.1" fill="#8c8c8c" fill-opacity="0.78"/><rect x="530.3" y="1121.3" width="2.2" height="12.1" fill="#8c8c8c" fill-opacity="0.47"/><rect x="539.4" y="1121.3" width="1.0" height="12.1" fill="#8c8c8c" fill-opacity="0.78"/><rect x="544.4" y="1121.3" width="1.0" height="12.1" fill="#8c8c8c" fill-opacity="0.78"/><rect x="552.6" y="1121.3" width="2.0" height="12.1" fill="#8c8c8c" fill-opacity="0.58"/>
<text x="168" y="1129.7" font-size="6.9" fill="#100" stroke="#100" stroke-width="0.2">Positive</text>
<text x="549.8" y="1129.7" font-size="6.9" text-anchor="end" fill="#001" stroke="#001" stroke-width="0.2">Negative</text>
<rect x="163.6" y="1060.9" width="398.69999999999993" height="60.4" fill="none" stroke="#333" stroke-width="1.1"/>
<rect x="163.6" y="1121.3" width="398.69999999999993" height="12.1" fill="none" stroke="#333" stroke-width="1.1"/>
<path d="M163.9,1194.1999999999998 L163.9,1158.1 L164.6,1158.4 L166.8,1161.9 L172.8,1165.6 L181.8,1168.6 L193.7,1171.6 L207.2,1174.6 L222.2,1177.1 L237.1,1179.4 L252.1,1181.3 L260.0,1182.2 L279.4,1184.4 L304.3,1187.0 L329.3,1189.2 L341.0,1190.4 L354.2,1191.6 L368.4,1193.3 L430.0,1194.2 L480.0,1194.8 L503.0,1195.5 L518.0,1197.2 L530.0,1199.5 L540.0,1203.0 L546.0,1207.0 L550.0,1213.0 L552.5,1222.0 L553.8,1236.0 L554.6,1258.0 L555.3,1258.0 L555.3,1193.1 L368.4,1193.1 L368.4,1194.1999999999998 Z" fill="#d4d4d4"/>
<line x1="368.4" y1="1133.4" x2="368.4" y2="1262.2" stroke="#9a9a9a" stroke-width="1" stroke-dasharray="1.6,2.2"/>
<rect x="163.6" y="1133.4" width="398.69999999999993" height="128.8" fill="none" stroke="#333" stroke-width="1.1"/>
<line x1="158.6" y1="1137.5" x2="163.6" y2="1137.5" stroke="#333" stroke-width="1.1"/>
<text transform="translate(153.3,1137.5) rotate(-90)" font-size="11.5" text-anchor="middle" fill="#111" stroke="#111" stroke-width="0.35">4</text>
<line x1="158.6" y1="1165.3" x2="163.6" y2="1165.3" stroke="#333" stroke-width="1.1"/>
<text transform="translate(153.3,1165.3) rotate(-90)" font-size="11.5" text-anchor="middle" fill="#111" stroke="#111" stroke-width="0.35">2</text>
<line x1="158.6" y1="1193.6" x2="163.6" y2="1193.6" stroke="#333" stroke-width="1.1"/>
<text transform="translate(153.3,1193.6) rotate(-90)" font-size="11.5" text-anchor="middle" fill="#111" stroke="#111" stroke-width="0.35">0</text>
<line x1="158.6" y1="1221.7" x2="163.6" y2="1221.7" stroke="#333" stroke-width="1.1"/>
<text transform="translate(153.3,1221.7) rotate(-90)" font-size="11.5" text-anchor="middle" fill="#111" stroke="#111" stroke-width="0.35">−2</text>
<line x1="158.6" y1="1249.8" x2="163.6" y2="1249.8" stroke="#333" stroke-width="1.1"/>
<text transform="translate(153.3,1249.8) rotate(-90)" font-size="11.5" text-anchor="middle" fill="#111" stroke="#111" stroke-width="0.35">−4</text>
<text transform="translate(134.4,1198.5) rotate(-90)" font-size="15" text-anchor="middle" fill="#111">SCORE</text>
<line x1="252" y1="1262.2" x2="252" y2="1266.7" stroke="#333" stroke-width="1.1"/>
<text x="252" y="1277.8" font-size="10.9" text-anchor="middle" fill="#000" stroke="#000" stroke-width="0.2">5000</text>
<line x1="341.2" y1="1262.2" x2="341.2" y2="1266.7" stroke="#333" stroke-width="1.1"/>
<text x="341.2" y="1277.8" font-size="10.9" text-anchor="middle" fill="#000" stroke="#000" stroke-width="0.2">10000</text>
<line x1="430.2" y1="1262.2" x2="430.2" y2="1266.7" stroke="#333" stroke-width="1.1"/>
<text x="430.2" y="1277.8" font-size="10.9" text-anchor="middle" fill="#000" stroke="#000" stroke-width="0.2">15000</text>
<line x1="519.3" y1="1262.2" x2="519.3" y2="1266.7" stroke="#333" stroke-width="1.1"/>
<text x="519.3" y="1277.8" font-size="10.9" text-anchor="middle" fill="#000" stroke="#000" stroke-width="0.2">20000</text>
<text x="362.5" y="1294.5" font-size="14.55" text-anchor="middle" fill="#111">Rank in ordered gene list</text>
<text x="371.6" y="1190.8" font-size="14.75" text-anchor="middle" fill="#111">Zero cross at 11513</text>
</g>
<g id="panelD">
<text x="617" y="17.5" font-size="20">d)</text>
<path d="M653.3,41.4L667.2,41.4M653.3,62.1L667.2,62.1M653.3,41.4L653.3,62.1M651.5,51.7L653.3,51.7M651.5,82.9L667.2,82.9M651.5,51.7L651.5,82.9M648.6,20.6L667.2,20.6M648.6,20.6L648.6,67.3M648.6,67.3L651.5,67.3M648.6,103.7L667.2,103.7M648.6,124.5L667.2,124.5M648.6,145.2L667.2,145.2M648.6,166.0L667.2,166.0M648.6,228.3L667.2,228.3M648.6,249.1L667.2,249.1M648.6,186.8L667.2,186.8M648.6,207.5L667.2,207.5M648.6,186.8L648.6,207.5M651.2,269.9L667.2,269.9M651.2,290.6L667.2,290.6M651.2,269.9L651.2,290.6M651.2,311.4L667.2,311.4M651.2,332.2L667.2,332.2M651.2,311.4L651.2,332.2M649.1,280.2L649.1,321.8M649.1,280.2L651.2,280.2M649.1,321.8L651.2,321.8M651.2,353.0L667.2,353.0M651.2,373.7L667.2,373.7M651.2,353.0L651.2,373.7M651.2,394.5L667.2,394.5M651.2,415.3L667.2,415.3M651.2,394.5L651.2,415.3M649.1,363.3L649.1,404.9M649.1,363.3L651.2,363.3M649.1,404.9L651.2,404.9M649.1,436.0L667.2,436.0M649.1,456.8L667.2,456.8M649.1,436.0L649.1,456.8M647.3,384.1L647.3,446.4M647.3,384.1L649.1,384.1M647.3,446.4L649.1,446.4M645.3,373.8L645.3,415.4M645.3,415.4L647.3,415.4M643.7,373.8L643.7,416.0M642.2,373.8L642.2,477.6M642.4,477.6L667.2,477.6M640.3,373.8L640.3,412.0M638.3,373.8L645.3,373.8M638.6,373.8L638.6,658.4M636.2,469.0L636.2,694.6M636.2,469.0L638.6,469.0M634.1,694.6L636.2,694.6M651.2,498.4L666.7,498.4M651.2,519.0L666.7,519.0M651.2,498.4L651.2,519.0M651.2,560.7L666.7,560.7M651.2,581.4L666.7,581.4M651.2,560.7L651.2,581.4M649.1,508.7L649.1,540.0M649.1,540.0L666.7,540.0M649.1,508.7L651.2,508.7M647.1,524.2L647.1,540.8M647.1,524.2L649.1,524.2M649.1,571.0L649.1,602.1M649.1,602.1L666.7,602.1M649.1,571.0L651.2,571.0M645.5,555.0L645.5,586.5M645.5,586.5L649.1,586.5M643.4,588.6L643.4,623.0M643.4,623.0L666.7,623.0M640.9,621.7L640.9,658.4M644.7,643.7L666.7,643.7M644.7,664.4L666.7,664.4M644.7,643.7L644.7,664.4M640.9,654.0L644.7,654.0M642.7,685.3L666.7,685.3M642.7,706.0L666.7,706.0M642.7,685.3L642.7,706.0M640.3,658.4L640.3,695.7M640.3,695.7L642.7,695.7M638.8,658.4L640.9,658.4M642.7,726.7L666.7,726.7M642.7,726.7L642.7,787.7M649.1,747.6L666.7,747.6M649.1,768.3L666.7,768.3M649.1,747.6L649.1,768.3M647.1,758.0L647.1,813.6M647.1,758.0L649.1,758.0M634.1,694.6L634.1,958.4M651.2,789.1L666.7,789.1M651.2,809.7L666.7,809.7M651.2,789.1L651.2,809.7M651.2,830.7L666.7,830.7M651.2,830.7L651.2,861.7M653.3,851.4L666.7,851.4M653.3,872.1L666.7,872.1M653.3,851.4L653.3,872.1M651.2,861.7L653.3,861.7M649.1,799.4L649.1,846.2M649.1,799.4L651.2,799.4M649.1,846.2L651.2,846.2M647.1,893.0L666.7,893.0M647.1,913.7L666.7,913.7M647.1,893.0L647.1,913.7M645.3,754.1L645.3,903.1M645.3,903.1L647.1,903.1M645.3,822.7L649.1,822.7M642.7,934.4L666.7,934.4M642.7,955.1L666.7,955.1M642.7,934.4L642.7,955.1M640.9,787.8L640.9,944.7M640.9,944.7L642.7,944.7M640.9,787.8L642.7,787.8M638.3,976.0L666.7,976.0M638.3,865.3L638.3,976.0M636.2,865.3L636.2,920.9M636.2,865.3L640.9,865.3M632.6,857.6L632.6,1059.0M632.6,1059.0L666.7,1059.0M630.5,958.4L630.5,1079.7M630.5,1079.7L666.7,1079.7M630.5,958.4L634.1,958.4M638.3,996.7L666.7,996.7M638.3,1017.4L666.7,1017.4M638.3,996.7L638.3,1017.4M636.2,1007.0L636.2,1038.1M636.2,1038.1L666.7,1038.1M636.2,1007.0L638.3,1007.0M634.1,1007.6L634.1,1023.1M634.1,1023.1L636.2,1023.1M628.4,1019.2L628.4,1109.7M628.4,1019.2L630.5,1019.2M629.8,1100.5L667.2,1100.5M629.8,1121.2L667.2,1121.2M629.8,1100.5L629.8,1121.2M627.8,1110.9L629.8,1110.9M627.8,1065.5L627.8,1110.9M625.9,1065.5L625.9,1222.4M625.9,1065.5L627.8,1065.5M625.9,1222.4L627.8,1222.4M634.3,1141.9L667.2,1141.9M634.3,1162.8L667.2,1162.8M634.3,1141.9L634.3,1162.8M634.3,1183.5L667.2,1183.5M634.3,1204.3L667.2,1204.3M634.3,1183.5L634.3,1204.3M632.4,1152.4L632.4,1193.8M632.4,1152.4L634.3,1152.4M632.4,1193.8L634.3,1193.8M629.8,1173.1L629.8,1225.0M629.8,1225.0L667.2,1225.0M629.8,1173.1L632.4,1173.1M627.8,1199.3L627.8,1245.7M627.8,1245.7L667.2,1245.7M627.8,1199.3L629.8,1199.3" fill="none" stroke="#707070" stroke-width="1.05" stroke-linecap="square"/>
<g stroke="#1e1e1e" stroke-width="1.05"><rect x="667.20" y="10.20" width="41.53" height="20.77" fill="#c7505b"/><rect x="708.73" y="10.20" width="41.53" height="20.77" fill="#db8e95"/><rect x="750.26" y="10.20" width="41.53" height="20.77" fill="#e09ea4"/><rect x="791.79" y="10.20" width="41.53" height="20.77" fill="#abc5df"/><rect x="833.32" y="10.20" width="41.53" height="20.77" fill="#98b7d7"/><rect x="874.85" y="10.20" width="41.53" height="20.77" fill="#c9d9ea"/><rect x="667.20" y="30.97" width="41.53" height="20.77" fill="#c54a55"/><rect x="708.73" y="30.97" width="41.53" height="20.77" fill="#de989e"/><rect x="750.26" y="30.97" width="41.53" height="20.77" fill="#db8e95"/><rect x="791.79" y="30.97" width="41.53" height="20.77" fill="#bfd3e7"/><rect x="833.32" y="30.97" width="41.53" height="20.77" fill="#9cbad9"/><rect x="874.85" y="30.97" width="41.53" height="20.77" fill="#afc7e1"/><rect x="667.20" y="51.75" width="41.53" height="20.77" fill="#c7505b"/><rect x="708.73" y="51.75" width="41.53" height="20.77" fill="#db8e95"/><rect x="750.26" y="51.75" width="41.53" height="20.77" fill="#dd949b"/><rect x="791.79" y="51.75" width="41.53" height="20.77" fill="#afc7e1"/><rect x="833.32" y="51.75" width="41.53" height="20.77" fill="#abc5df"/><rect x="874.85" y="51.75" width="41.53" height="20.77" fill="#abc5df"/><rect x="667.20" y="72.52" width="41.53" height="20.77" fill="#c8545f"/><rect x="708.73" y="72.52" width="41.53" height="20.77" fill="#d7838b"/><rect x="750.26" y="72.52" width="41.53" height="20.77" fill="#dd949b"/><rect x="791.79" y="72.52" width="41.53" height="20.77" fill="#c3d5e8"/><rect x="833.32" y="72.52" width="41.53" height="20.77" fill="#9cbad9"/><rect x="874.85" y="72.52" width="41.53" height="20.77" fill="#abc5df"/><rect x="667.20" y="93.29" width="41.53" height="20.77" fill="#bd313e"/><rect x="708.73" y="93.29" width="41.53" height="20.77" fill="#db8e95"/><rect x="750.26" y="93.29" width="41.53" height="20.77" fill="#e5adb2"/><rect x="791.79" y="93.29" width="41.53" height="20.77" fill="#abc5df"/><rect x="833.32" y="93.29" width="41.53" height="20.77" fill="#afc7e1"/><rect x="874.85" y="93.29" width="41.53" height="20.77" fill="#b9cee4"/><rect x="667.20" y="114.06" width="41.53" height="20.77" fill="#c95661"/><rect x="708.73" y="114.06" width="41.53" height="20.77" fill="#db8e95"/><rect x="750.26" y="114.06" width="41.53" height="20.77" fill="#d67f87"/><rect x="791.79" y="114.06" width="41.53" height="20.77" fill="#98b7d7"/><rect x="833.32" y="114.06" width="41.53" height="20.77" fill="#afc7e1"/><rect x="874.85" y="114.06" width="41.53" height="20.77" fill="#c3d5e8"/><rect x="667.20" y="134.84" width="41.53" height="20.77" fill="#ce646e"/><rect x="708.73" y="134.84" width="41.53" height="20.77" fill="#d47982"/><rect x="750.26" y="134.84" width="41.53" height="20.77" fill="#d67f87"/><rect x="791.79" y="134.84" width="41.53" height="20.77" fill="#8caed3"/><rect x="833.32" y="134.84" width="41.53" height="20.77" fill="#b3cae2"/><rect x="874.85" y="134.84" width="41.53" height="20.77" fill="#c9d9ea"/><rect x="667.20" y="155.61" width="41.53" height="20.77" fill="#c95661"/><rect x="708.73" y="155.61" width="41.53" height="20.77" fill="#d47982"/><rect x="750.26" y="155.61" width="41.53" height="20.77" fill="#df9ca2"/><rect x="791.79" y="155.61" width="41.53" height="20.77" fill="#bdd1e6"/><rect x="833.32" y="155.61" width="41.53" height="20.77" fill="#c3d5e8"/><rect x="874.85" y="155.61" width="41.53" height="20.77" fill="#92b3d5"/><rect x="667.20" y="176.38" width="41.53" height="20.77" fill="#ca5a65"/><rect x="708.73" y="176.38" width="41.53" height="20.77" fill="#cf6b74"/><rect x="750.26" y="176.38" width="41.53" height="20.77" fill="#e1a2a8"/><rect x="791.79" y="176.38" width="41.53" height="20.77" fill="#abc5df"/><rect x="833.32" y="176.38" width="41.53" height="20.77" fill="#b3cae2"/><rect x="874.85" y="176.38" width="41.53" height="20.77" fill="#b3cae2"/><rect x="667.20" y="197.16" width="41.53" height="20.77" fill="#c95661"/><rect x="708.73" y="197.16" width="41.53" height="20.77" fill="#d2737c"/><rect x="750.26" y="197.16" width="41.53" height="20.77" fill="#e09ea4"/><rect x="791.79" y="197.16" width="41.53" height="20.77" fill="#a5c0dd"/><rect x="833.32" y="197.16" width="41.53" height="20.77" fill="#afc7e1"/><rect x="874.85" y="197.16" width="41.53" height="20.77" fill="#b3cae2"/><rect x="667.20" y="217.93" width="41.53" height="20.77" fill="#cf6b74"/><rect x="708.73" y="217.93" width="41.53" height="20.77" fill="#ce646e"/><rect x="750.26" y="217.93" width="41.53" height="20.77" fill="#db8e95"/><rect x="791.79" y="217.93" width="41.53" height="20.77" fill="#9cbad9"/><rect x="833.32" y="217.93" width="41.53" height="20.77" fill="#c3d5e8"/><rect x="874.85" y="217.93" width="41.53" height="20.77" fill="#abc5df"/><rect x="667.20" y="238.70" width="41.53" height="20.77" fill="#c7505b"/><rect x="708.73" y="238.70" width="41.53" height="20.77" fill="#df9ca2"/><rect x="750.26" y="238.70" width="41.53" height="20.77" fill="#d67f87"/><rect x="791.79" y="238.70" width="41.53" height="20.77" fill="#cddcec"/><rect x="833.32" y="238.70" width="41.53" height="20.77" fill="#84a9d0"/><rect x="874.85" y="238.70" width="41.53" height="20.77" fill="#b9cee4"/><rect x="667.20" y="259.48" width="41.53" height="20.77" fill="#ca5a65"/><rect x="708.73" y="259.48" width="41.53" height="20.77" fill="#e1a2a8"/><rect x="750.26" y="259.48" width="41.53" height="20.77" fill="#cc5e68"/><rect x="791.79" y="259.48" width="41.53" height="20.77" fill="#cddcec"/><rect x="833.32" y="259.48" width="41.53" height="20.77" fill="#a5c0dd"/><rect x="874.85" y="259.48" width="41.53" height="20.77" fill="#92b3d5"/><rect x="667.20" y="280.25" width="41.53" height="20.77" fill="#cc5e68"/><rect x="708.73" y="280.25" width="41.53" height="20.77" fill="#df9ca2"/><rect x="750.26" y="280.25" width="41.53" height="20.77" fill="#cc5e68"/><rect x="791.79" y="280.25" width="41.53" height="20.77" fill="#c3d5e8"/><rect x="833.32" y="280.25" width="41.53" height="20.77" fill="#98b7d7"/><rect x="874.85" y="280.25" width="41.53" height="20.77" fill="#abc5df"/><rect x="667.20" y="301.02" width="41.53" height="20.77" fill="#cf6b74"/><rect x="708.73" y="301.02" width="41.53" height="20.77" fill="#d67f87"/><rect x="750.26" y="301.02" width="41.53" height="20.77" fill="#d2737c"/><rect x="791.79" y="301.02" width="41.53" height="20.77" fill="#cddcec"/><rect x="833.32" y="301.02" width="41.53" height="20.77" fill="#a5c0dd"/><rect x="874.85" y="301.02" width="41.53" height="20.77" fill="#92b3d5"/><rect x="667.20" y="321.79" width="41.53" height="20.77" fill="#ce646e"/><rect x="708.73" y="321.79" width="41.53" height="20.77" fill="#d7838b"/><rect x="750.26" y="321.79" width="41.53" height="20.77" fill="#d9888f"/><rect x="791.79" y="321.79" width="41.53" height="20.77" fill="#cddcec"/><rect x="833.32" y="321.79" width="41.53" height="20.77" fill="#a5c0dd"/><rect x="874.85" y="321.79" width="41.53" height="20.77" fill="#9cbad9"/><rect x="667.20" y="342.57" width="41.53" height="20.77" fill="#ca5a65"/><rect x="708.73" y="342.57" width="41.53" height="20.77" fill="#db8e95"/><rect x="750.26" y="342.57" width="41.53" height="20.77" fill="#d9888f"/><rect x="791.79" y="342.57" width="41.53" height="20.77" fill="#afc7e1"/><rect x="833.32" y="342.57" width="41.53" height="20.77" fill="#afc7e1"/><rect x="874.85" y="342.57" width="41.53" height="20.77" fill="#afc7e1"/><rect x="667.20" y="363.34" width="41.53" height="20.77" fill="#ca5a65"/><rect x="708.73" y="363.34" width="41.53" height="20.77" fill="#d7838b"/><rect x="750.26" y="363.34" width="41.53" height="20.77" fill="#d9888f"/><rect x="791.79" y="363.34" width="41.53" height="20.77" fill="#afc7e1"/><rect x="833.32" y="363.34" width="41.53" height="20.77" fill="#a5c0dd"/><rect x="874.85" y="363.34" width="41.53" height="20.77" fill="#abc5df"/><rect x="667.20" y="384.11" width="41.53" height="20.77" fill="#ce646e"/><rect x="708.73" y="384.11" width="41.53" height="20.77" fill="#d47982"/><rect x="750.26" y="384.11" width="41.53" height="20.77" fill="#d9888f"/><rect x="791.79" y="384.11" width="41.53" height="20.77" fill="#b9cee4"/><rect x="833.32" y="384.11" width="41.53" height="20.77" fill="#abc5df"/><rect x="874.85" y="384.11" width="41.53" height="20.77" fill="#abc5df"/><rect x="667.20" y="404.89" width="41.53" height="20.77" fill="#ca5a65"/><rect x="708.73" y="404.89" width="41.53" height="20.77" fill="#d67f87"/><rect x="750.26" y="404.89" width="41.53" height="20.77" fill="#db8e95"/><rect x="791.79" y="404.89" width="41.53" height="20.77" fill="#b9cee4"/><rect x="833.32" y="404.89" width="41.53" height="20.77" fill="#9fbcdb"/><rect x="874.85" y="404.89" width="41.53" height="20.77" fill="#afc7e1"/><rect x="667.20" y="425.66" width="41.53" height="20.77" fill="#ce646e"/><rect x="708.73" y="425.66" width="41.53" height="20.77" fill="#d7838b"/><rect x="750.26" y="425.66" width="41.53" height="20.77" fill="#d47982"/><rect x="791.79" y="425.66" width="41.53" height="20.77" fill="#bfd3e7"/><rect x="833.32" y="425.66" width="41.53" height="20.77" fill="#a5c0dd"/><rect x="874.85" y="425.66" width="41.53" height="20.77" fill="#a5c0dd"/><rect x="667.20" y="446.43" width="41.53" height="20.77" fill="#cc5e68"/><rect x="708.73" y="446.43" width="41.53" height="20.77" fill="#db8e95"/><rect x="750.26" y="446.43" width="41.53" height="20.77" fill="#d47982"/><rect x="791.79" y="446.43" width="41.53" height="20.77" fill="#c3d5e8"/><rect x="833.32" y="446.43" width="41.53" height="20.77" fill="#a5c0dd"/><rect x="874.85" y="446.43" width="41.53" height="20.77" fill="#9fbcdb"/><rect x="667.20" y="467.21" width="41.53" height="20.77" fill="#c2414d"/><rect x="708.73" y="467.21" width="41.53" height="20.77" fill="#e5adb2"/><rect x="750.26" y="467.21" width="41.53" height="20.77" fill="#d7838b"/><rect x="791.79" y="467.21" width="41.53" height="20.77" fill="#b3cae2"/><rect x="833.32" y="467.21" width="41.53" height="20.77" fill="#cddcec"/><rect x="874.85" y="467.21" width="41.53" height="20.77" fill="#92b3d5"/><rect x="667.20" y="487.98" width="41.53" height="20.77" fill="#d7838b"/><rect x="708.73" y="487.98" width="41.53" height="20.77" fill="#d47982"/><rect x="750.26" y="487.98" width="41.53" height="20.77" fill="#cf6b74"/><rect x="791.79" y="487.98" width="41.53" height="20.77" fill="#c3d5e8"/><rect x="833.32" y="487.98" width="41.53" height="20.77" fill="#a5c0dd"/><rect x="874.85" y="487.98" width="41.53" height="20.77" fill="#9fbcdb"/><rect x="667.20" y="508.75" width="41.53" height="20.77" fill="#d9888f"/><rect x="708.73" y="508.75" width="41.53" height="20.77" fill="#d16f78"/><rect x="750.26" y="508.75" width="41.53" height="20.77" fill="#cf6b74"/><rect x="791.79" y="508.75" width="41.53" height="20.77" fill="#c3d5e8"/><rect x="833.32" y="508.75" width="41.53" height="20.77" fill="#abc5df"/><rect x="874.85" y="508.75" width="41.53" height="20.77" fill="#abc5df"/><rect x="667.20" y="529.53" width="41.53" height="20.77" fill="#d16f78"/><rect x="708.73" y="529.53" width="41.53" height="20.77" fill="#d47982"/><rect x="750.26" y="529.53" width="41.53" height="20.77" fill="#d16f78"/><rect x="791.79" y="529.53" width="41.53" height="20.77" fill="#c7d8ea"/><rect x="833.32" y="529.53" width="41.53" height="20.77" fill="#abc5df"/><rect x="874.85" y="529.53" width="41.53" height="20.77" fill="#9cbad9"/><rect x="667.20" y="550.30" width="41.53" height="20.77" fill="#ce646e"/><rect x="708.73" y="550.30" width="41.53" height="20.77" fill="#d9888f"/><rect x="750.26" y="550.30" width="41.53" height="20.77" fill="#d16f78"/><rect x="791.79" y="550.30" width="41.53" height="20.77" fill="#abc5df"/><rect x="833.32" y="550.30" width="41.53" height="20.77" fill="#b3cae2"/><rect x="874.85" y="550.30" width="41.53" height="20.77" fill="#afc7e1"/><rect x="667.20" y="571.07" width="41.53" height="20.77" fill="#cf6b74"/><rect x="708.73" y="571.07" width="41.53" height="20.77" fill="#d47982"/><rect x="750.26" y="571.07" width="41.53" height="20.77" fill="#d67f87"/><rect x="791.79" y="571.07" width="41.53" height="20.77" fill="#abc5df"/><rect x="833.32" y="571.07" width="41.53" height="20.77" fill="#b3cae2"/><rect x="874.85" y="571.07" width="41.53" height="20.77" fill="#afc7e1"/><rect x="667.20" y="591.84" width="41.53" height="20.77" fill="#d16f78"/><rect x="708.73" y="591.84" width="41.53" height="20.77" fill="#d2737c"/><rect x="750.26" y="591.84" width="41.53" height="20.77" fill="#d47982"/><rect x="791.79" y="591.84" width="41.53" height="20.77" fill="#afc7e1"/><rect x="833.32" y="591.84" width="41.53" height="20.77" fill="#a5c0dd"/><rect x="874.85" y="591.84" width="41.53" height="20.77" fill="#b9cee4"/><rect x="667.20" y="612.62" width="41.53" height="20.77" fill="#d67f87"/><rect x="708.73" y="612.62" width="41.53" height="20.77" fill="#cc5e68"/><rect x="750.26" y="612.62" width="41.53" height="20.77" fill="#d47982"/><rect x="791.79" y="612.62" width="41.53" height="20.77" fill="#b3cae2"/><rect x="833.32" y="612.62" width="41.53" height="20.77" fill="#9cbad9"/><rect x="874.85" y="612.62" width="41.53" height="20.77" fill="#b9cee4"/><rect x="667.20" y="633.39" width="41.53" height="20.77" fill="#d47982"/><rect x="708.73" y="633.39" width="41.53" height="20.77" fill="#d9888f"/><rect x="750.26" y="633.39" width="41.53" height="20.77" fill="#c95661"/><rect x="791.79" y="633.39" width="41.53" height="20.77" fill="#c7d8ea"/><rect x="833.32" y="633.39" width="41.53" height="20.77" fill="#98b7d7"/><rect x="874.85" y="633.39" width="41.53" height="20.77" fill="#afc7e1"/><rect x="667.20" y="654.16" width="41.53" height="20.77" fill="#d2737c"/><rect x="708.73" y="654.16" width="41.53" height="20.77" fill="#d9888f"/><rect x="750.26" y="654.16" width="41.53" height="20.77" fill="#cf6b74"/><rect x="791.79" y="654.16" width="41.53" height="20.77" fill="#d3e0ee"/><rect x="833.32" y="654.16" width="41.53" height="20.77" fill="#9fbcdb"/><rect x="874.85" y="654.16" width="41.53" height="20.77" fill="#a5c0dd"/><rect x="667.20" y="674.94" width="41.53" height="20.77" fill="#eabdc1"/><rect x="708.73" y="674.94" width="41.53" height="20.77" fill="#c95661"/><rect x="750.26" y="674.94" width="41.53" height="20.77" fill="#c7505b"/><rect x="791.79" y="674.94" width="41.53" height="20.77" fill="#98b7d7"/><rect x="833.32" y="674.94" width="41.53" height="20.77" fill="#cddcec"/><rect x="874.85" y="674.94" width="41.53" height="20.77" fill="#b3cae2"/><rect x="667.20" y="695.71" width="41.53" height="20.77" fill="#df9ca2"/><rect x="708.73" y="695.71" width="41.53" height="20.77" fill="#c95661"/><rect x="750.26" y="695.71" width="41.53" height="20.77" fill="#ce646e"/><rect x="791.79" y="695.71" width="41.53" height="20.77" fill="#b9cee4"/><rect x="833.32" y="695.71" width="41.53" height="20.77" fill="#abc5df"/><rect x="874.85" y="695.71" width="41.53" height="20.77" fill="#afc7e1"/><rect x="667.20" y="716.48" width="41.53" height="20.77" fill="#c7505b"/><rect x="708.73" y="716.48" width="41.53" height="20.77" fill="#ce646e"/><rect x="750.26" y="716.48" width="41.53" height="20.77" fill="#eabdc1"/><rect x="791.79" y="716.48" width="41.53" height="20.77" fill="#cddcec"/><rect x="833.32" y="716.48" width="41.53" height="20.77" fill="#c7d8ea"/><rect x="874.85" y="716.48" width="41.53" height="20.77" fill="#8caed3"/><rect x="667.20" y="737.25" width="41.53" height="20.77" fill="#d9888f"/><rect x="708.73" y="737.25" width="41.53" height="20.77" fill="#c2414d"/><rect x="750.26" y="737.25" width="41.53" height="20.77" fill="#df9ca2"/><rect x="791.79" y="737.25" width="41.53" height="20.77" fill="#b3cae2"/><rect x="833.32" y="737.25" width="41.53" height="20.77" fill="#9fbcdb"/><rect x="874.85" y="737.25" width="41.53" height="20.77" fill="#bfd3e7"/><rect x="667.20" y="758.03" width="41.53" height="20.77" fill="#d16f78"/><rect x="708.73" y="758.03" width="41.53" height="20.77" fill="#c95661"/><rect x="750.26" y="758.03" width="41.53" height="20.77" fill="#df9ca2"/><rect x="791.79" y="758.03" width="41.53" height="20.77" fill="#bfd3e7"/><rect x="833.32" y="758.03" width="41.53" height="20.77" fill="#98b7d7"/><rect x="874.85" y="758.03" width="41.53" height="20.77" fill="#b9cee4"/><rect x="667.20" y="778.80" width="41.53" height="20.77" fill="#d16f78"/><rect x="708.73" y="778.80" width="41.53" height="20.77" fill="#cc5e68"/><rect x="750.26" y="778.80" width="41.53" height="20.77" fill="#dd949b"/><rect x="791.79" y="778.80" width="41.53" height="20.77" fill="#cddcec"/><rect x="833.32" y="778.80" width="41.53" height="20.77" fill="#a5c0dd"/><rect x="874.85" y="778.80" width="41.53" height="20.77" fill="#9cbad9"/><rect x="667.20" y="799.57" width="41.53" height="20.77" fill="#cc5e68"/><rect x="708.73" y="799.57" width="41.53" height="20.77" fill="#ce646e"/><rect x="750.26" y="799.57" width="41.53" height="20.77" fill="#df9ca2"/><rect x="791.79" y="799.57" width="41.53" height="20.77" fill="#cddcec"/><rect x="833.32" y="799.57" width="41.53" height="20.77" fill="#abc5df"/><rect x="874.85" y="799.57" width="41.53" height="20.77" fill="#92b3d5"/><rect x="667.20" y="820.35" width="41.53" height="20.77" fill="#d9888f"/><rect x="708.73" y="820.35" width="41.53" height="20.77" fill="#c95661"/><rect x="750.26" y="820.35" width="41.53" height="20.77" fill="#d9888f"/><rect x="791.79" y="820.35" width="41.53" height="20.77" fill="#c3d5e8"/><rect x="833.32" y="820.35" width="41.53" height="20.77" fill="#afc7e1"/><rect x="874.85" y="820.35" width="41.53" height="20.77" fill="#9cbad9"/><rect x="667.20" y="841.12" width="41.53" height="20.77" fill="#d16f78"/><rect x="708.73" y="841.12" width="41.53" height="20.77" fill="#cf6b74"/><rect x="750.26" y="841.12" width="41.53" height="20.77" fill="#d67f87"/><rect x="791.79" y="841.12" width="41.53" height="20.77" fill="#b9cee4"/><rect x="833.32" y="841.12" width="41.53" height="20.77" fill="#afc7e1"/><rect x="874.85" y="841.12" width="41.53" height="20.77" fill="#9cbad9"/><rect x="667.20" y="861.89" width="41.53" height="20.77" fill="#cf6b74"/><rect x="708.73" y="861.89" width="41.53" height="20.77" fill="#ce646e"/><rect x="750.26" y="861.89" width="41.53" height="20.77" fill="#dd949b"/><rect x="791.79" y="861.89" width="41.53" height="20.77" fill="#b9cee4"/><rect x="833.32" y="861.89" width="41.53" height="20.77" fill="#b3cae2"/><rect x="874.85" y="861.89" width="41.53" height="20.77" fill="#98b7d7"/><rect x="667.20" y="882.67" width="41.53" height="20.77" fill="#d47982"/><rect x="708.73" y="882.67" width="41.53" height="20.77" fill="#c54a55"/><rect x="750.26" y="882.67" width="41.53" height="20.77" fill="#df9ca2"/><rect x="791.79" y="882.67" width="41.53" height="20.77" fill="#a5c0dd"/><rect x="833.32" y="882.67" width="41.53" height="20.77" fill="#b9cee4"/><rect x="874.85" y="882.67" width="41.53" height="20.77" fill="#a5c0dd"/><rect x="667.20" y="903.44" width="41.53" height="20.77" fill="#cf6b74"/><rect x="708.73" y="903.44" width="41.53" height="20.77" fill="#c95661"/><rect x="750.26" y="903.44" width="41.53" height="20.77" fill="#e3a8ae"/><rect x="791.79" y="903.44" width="41.53" height="20.77" fill="#abc5df"/><rect x="833.32" y="903.44" width="41.53" height="20.77" fill="#c3d5e8"/><rect x="874.85" y="903.44" width="41.53" height="20.77" fill="#98b7d7"/><rect x="667.20" y="924.21" width="41.53" height="20.77" fill="#ce646e"/><rect x="708.73" y="924.21" width="41.53" height="20.77" fill="#c44651"/><rect x="750.26" y="924.21" width="41.53" height="20.77" fill="#eecccf"/><rect x="791.79" y="924.21" width="41.53" height="20.77" fill="#a5c0dd"/><rect x="833.32" y="924.21" width="41.53" height="20.77" fill="#a5c0dd"/><rect x="874.85" y="924.21" width="41.53" height="20.77" fill="#cddcec"/><rect x="667.20" y="944.99" width="41.53" height="20.77" fill="#d7838b"/><rect x="708.73" y="944.99" width="41.53" height="20.77" fill="#be3542"/><rect x="750.26" y="944.99" width="41.53" height="20.77" fill="#eabdc1"/><rect x="791.79" y="944.99" width="41.53" height="20.77" fill="#9cbad9"/><rect x="833.32" y="944.99" width="41.53" height="20.77" fill="#afc7e1"/><rect x="874.85" y="944.99" width="41.53" height="20.77" fill="#c7d8ea"/><rect x="667.20" y="965.76" width="41.53" height="20.77" fill="#d47982"/><rect x="708.73" y="965.76" width="41.53" height="20.77" fill="#c7505b"/><rect x="750.26" y="965.76" width="41.53" height="20.77" fill="#e6b1b6"/><rect x="791.79" y="965.76" width="41.53" height="20.77" fill="#ebf1f7"/><rect x="833.32" y="965.76" width="41.53" height="20.77" fill="#6090c2"/><rect x="874.85" y="965.76" width="41.53" height="20.77" fill="#c7d8ea"/><rect x="667.20" y="986.53" width="41.53" height="20.77" fill="#e6b1b6"/><rect x="708.73" y="986.53" width="41.53" height="20.77" fill="#db8e95"/><rect x="750.26" y="986.53" width="41.53" height="20.77" fill="#c7505b"/><rect x="791.79" y="986.53" width="41.53" height="20.77" fill="#fcf5f5"/><rect x="833.32" y="986.53" width="41.53" height="20.77" fill="#6493c4"/><rect x="874.85" y="986.53" width="41.53" height="20.77" fill="#b3cae2"/><rect x="667.20" y="1007.30" width="41.53" height="20.77" fill="#db8e95"/><rect x="708.73" y="1007.30" width="41.53" height="20.77" fill="#dd949b"/><rect x="750.26" y="1007.30" width="41.53" height="20.77" fill="#c95661"/><rect x="791.79" y="1007.30" width="41.53" height="20.77" fill="#eff4f9"/><rect x="833.32" y="1007.30" width="41.53" height="20.77" fill="#84a9d0"/><rect x="874.85" y="1007.30" width="41.53" height="20.77" fill="#98b7d7"/><rect x="667.20" y="1028.08" width="41.53" height="20.77" fill="#d16f78"/><rect x="708.73" y="1028.08" width="41.53" height="20.77" fill="#eabdc1"/><rect x="750.26" y="1028.08" width="41.53" height="20.77" fill="#c2414d"/><rect x="791.79" y="1028.08" width="41.53" height="20.77" fill="#d3e0ee"/><rect x="833.32" y="1028.08" width="41.53" height="20.77" fill="#8caed3"/><rect x="874.85" y="1028.08" width="41.53" height="20.77" fill="#b3cae2"/><rect x="667.20" y="1048.85" width="41.53" height="20.77" fill="#c54a55"/><rect x="708.73" y="1048.85" width="41.53" height="20.77" fill="#eecccf"/><rect x="750.26" y="1048.85" width="41.53" height="20.77" fill="#ce646e"/><rect x="791.79" y="1048.85" width="41.53" height="20.77" fill="#f7f9fc"/><rect x="833.32" y="1048.85" width="41.53" height="20.77" fill="#b9cee4"/><rect x="874.85" y="1048.85" width="41.53" height="20.77" fill="#709bc8"/><rect x="667.20" y="1069.62" width="41.53" height="20.77" fill="#f8eaec"/><rect x="708.73" y="1069.62" width="41.53" height="20.77" fill="#eecccf"/><rect x="750.26" y="1069.62" width="41.53" height="20.77" fill="#c54a55"/><rect x="791.79" y="1069.62" width="41.53" height="20.77" fill="#dd949b"/><rect x="833.32" y="1069.62" width="41.53" height="20.77" fill="#4c82bb"/><rect x="874.85" y="1069.62" width="41.53" height="20.77" fill="#e1eaf4"/><rect x="667.20" y="1090.40" width="41.53" height="20.77" fill="#e1eaf4"/><rect x="708.73" y="1090.40" width="41.53" height="20.77" fill="#c7505b"/><rect x="750.26" y="1090.40" width="41.53" height="20.77" fill="#9fbcdb"/><rect x="791.79" y="1090.40" width="41.53" height="20.77" fill="#c95661"/><rect x="833.32" y="1090.40" width="41.53" height="20.77" fill="#edc5c9"/><rect x="874.85" y="1090.40" width="41.53" height="20.77" fill="#92b3d5"/><rect x="667.20" y="1111.17" width="41.53" height="20.77" fill="#ebf1f7"/><rect x="708.73" y="1111.17" width="41.53" height="20.77" fill="#c03b48"/><rect x="750.26" y="1111.17" width="41.53" height="20.77" fill="#f0d2d5"/><rect x="791.79" y="1111.17" width="41.53" height="20.77" fill="#db8e95"/><rect x="833.32" y="1111.17" width="41.53" height="20.77" fill="#f3f7fa"/><rect x="874.85" y="1111.17" width="41.53" height="20.77" fill="#4c82bb"/><rect x="667.20" y="1131.94" width="41.53" height="20.77" fill="#abc5df"/><rect x="708.73" y="1131.94" width="41.53" height="20.77" fill="#b9cee4"/><rect x="750.26" y="1131.94" width="41.53" height="20.77" fill="#cddcec"/><rect x="791.79" y="1131.94" width="41.53" height="20.77" fill="#ba2734"/><rect x="833.32" y="1131.94" width="41.53" height="20.77" fill="#fcf5f5"/><rect x="874.85" y="1131.94" width="41.53" height="20.77" fill="#cf6b74"/><rect x="667.20" y="1152.71" width="41.53" height="20.77" fill="#92b3d5"/><rect x="708.73" y="1152.71" width="41.53" height="20.77" fill="#cddcec"/><rect x="750.26" y="1152.71" width="41.53" height="20.77" fill="#afc7e1"/><rect x="791.79" y="1152.71" width="41.53" height="20.77" fill="#cf6b74"/><rect x="833.32" y="1152.71" width="41.53" height="20.77" fill="#de989e"/><rect x="874.85" y="1152.71" width="41.53" height="20.77" fill="#cc5e68"/><rect x="667.20" y="1173.49" width="41.53" height="20.77" fill="#abc5df"/><rect x="708.73" y="1173.49" width="41.53" height="20.77" fill="#a5c0dd"/><rect x="750.26" y="1173.49" width="41.53" height="20.77" fill="#bfd3e7"/><rect x="791.79" y="1173.49" width="41.53" height="20.77" fill="#eecccf"/><rect x="833.32" y="1173.49" width="41.53" height="20.77" fill="#d47982"/><rect x="874.85" y="1173.49" width="41.53" height="20.77" fill="#be3542"/><rect x="667.20" y="1194.26" width="41.53" height="20.77" fill="#b9cee4"/><rect x="708.73" y="1194.26" width="41.53" height="20.77" fill="#9cbad9"/><rect x="750.26" y="1194.26" width="41.53" height="20.77" fill="#bdd1e6"/><rect x="791.79" y="1194.26" width="41.53" height="20.77" fill="#e8b7bb"/><rect x="833.32" y="1194.26" width="41.53" height="20.77" fill="#d67f87"/><rect x="874.85" y="1194.26" width="41.53" height="20.77" fill="#c03b48"/><rect x="667.20" y="1215.03" width="41.53" height="20.77" fill="#f7e6e8"/><rect x="708.73" y="1215.03" width="41.53" height="20.77" fill="#ffffff"/><rect x="750.26" y="1215.03" width="41.53" height="20.77" fill="#3874b3"/><rect x="791.79" y="1215.03" width="41.53" height="20.77" fill="#db8e95"/><rect x="833.32" y="1215.03" width="41.53" height="20.77" fill="#db8e95"/><rect x="874.85" y="1215.03" width="41.53" height="20.77" fill="#df9ca2"/><rect x="667.20" y="1235.81" width="41.53" height="20.77" fill="#faf1f1"/><rect x="708.73" y="1235.81" width="41.53" height="20.77" fill="#3874b3"/><rect x="750.26" y="1235.81" width="41.53" height="20.77" fill="#edc5c9"/><rect x="791.79" y="1235.81" width="41.53" height="20.77" fill="#cf6b74"/><rect x="833.32" y="1235.81" width="41.53" height="20.77" fill="#f3dadc"/><rect x="874.85" y="1235.81" width="41.53" height="20.77" fill="#dd949b"/></g>
<text x="925.3" y="24.8" font-size="16.2" fill="#000" stroke="#000" stroke-width="0.25">Tsc2</text>
<text x="925.3" y="45.6" font-size="16.2" fill="#000" stroke="#000" stroke-width="0.25">Atg4c</text>
<text x="925.3" y="66.4" font-size="16.2" fill="#000" stroke="#000" stroke-width="0.25">Lamp2</text>
<text x="925.3" y="87.1" font-size="16.2" fill="#000" stroke="#000" stroke-width="0.25">Cflar</text>
<text x="925.3" y="107.9" font-size="16.2" fill="#000" stroke="#000" stroke-width="0.25">Bad</text>
<text x="925.3" y="128.7" font-size="16.2" fill="#000" stroke="#000" stroke-width="0.25">Nras</text>
<text x="925.3" y="149.5" font-size="16.2" fill="#000" stroke="#000" stroke-width="0.25">Atg5</text>
<text x="925.3" y="170.3" font-size="16.2" fill="#000" stroke="#000" stroke-width="0.25">Mapk3</text>
<text x="925.3" y="191.1" font-size="16.2" fill="#000" stroke="#000" stroke-width="0.25">Tank</text>
<text x="925.3" y="211.9" font-size="16.2" fill="#000" stroke="#000" stroke-width="0.25">Hmgb1</text>
<text x="925.3" y="232.6" font-size="16.2" fill="#000" stroke="#000" stroke-width="0.25">Rab1a</text>
<text x="925.3" y="253.4" font-size="16.2" fill="#000" stroke="#000" stroke-width="0.25">Lamp1</text>
<text x="925.3" y="274.2" font-size="16.2" fill="#000" stroke="#000" stroke-width="0.25">Atg2a</text>
<text x="925.3" y="295.0" font-size="16.2" fill="#000" stroke="#000" stroke-width="0.25">Kras</text>
<text x="925.3" y="315.8" font-size="16.2" fill="#000" stroke="#000" stroke-width="0.25">Sqstm1</text>
<text x="925.3" y="336.6" font-size="16.2" fill="#000" stroke="#000" stroke-width="0.25">Rubcn</text>
<text x="925.3" y="357.3" font-size="16.2" fill="#000" stroke="#000" stroke-width="0.25">Pten</text>
<text x="925.3" y="378.1" font-size="16.2" fill="#000" stroke="#000" stroke-width="0.25">Hif1a</text>
<text x="925.3" y="398.9" font-size="16.2" fill="#000" stroke="#000" stroke-width="0.25">Mtmr3</text>
<text x="925.3" y="419.7" font-size="16.2" fill="#000" stroke="#000" stroke-width="0.25">Atg13</text>
<text x="925.3" y="440.5" font-size="16.2" fill="#000" stroke="#000" stroke-width="0.25">Deptor</text>
<text x="925.3" y="461.3" font-size="16.2" fill="#000" stroke="#000" stroke-width="0.25">Atg12</text>
<text x="925.3" y="482.1" font-size="16.2" fill="#000" stroke="#000" stroke-width="0.25">Wipi1</text>
<text x="925.3" y="502.8" font-size="16.2" fill="#000" stroke="#000" stroke-width="0.25">Akt2</text>
<text x="925.3" y="523.6" font-size="16.2" fill="#000" stroke="#000" stroke-width="0.25">Rraga</text>
<text x="925.3" y="544.4" font-size="16.2" fill="#000" stroke="#000" stroke-width="0.25">Akt3</text>
<text x="925.3" y="565.2" font-size="16.2" fill="#000" stroke="#000" stroke-width="0.25">Pdpk1</text>
<text x="925.3" y="586.0" font-size="16.2" fill="#000" stroke="#000" stroke-width="0.25">Mapk1</text>
<text x="925.3" y="606.8" font-size="16.2" fill="#000" stroke="#000" stroke-width="0.25">Itpr1</text>
<text x="925.3" y="627.6" font-size="16.2" fill="#000" stroke="#000" stroke-width="0.25">Irs2</text>
<text x="925.3" y="648.3" font-size="16.2" fill="#000" stroke="#000" stroke-width="0.25">Tbk1</text>
<text x="925.3" y="669.1" font-size="16.2" fill="#000" stroke="#000" stroke-width="0.25">Raf1</text>
<text x="925.3" y="689.9" font-size="16.2" fill="#000" stroke="#000" stroke-width="0.25">Atg14</text>
<text x="925.3" y="710.7" font-size="16.2" fill="#000" stroke="#000" stroke-width="0.25">Rptor</text>
<text x="925.3" y="731.5" font-size="16.2" fill="#000" stroke="#000" stroke-width="0.25">Prkcd</text>
<text x="925.3" y="752.3" font-size="16.2" fill="#000" stroke="#000" stroke-width="0.25">Ulk1</text>
<text x="925.3" y="773.0" font-size="16.2" fill="#000" stroke="#000" stroke-width="0.25">Wipi2</text>
<text x="925.3" y="793.8" font-size="16.2" fill="#000" stroke="#000" stroke-width="0.25">Mapk9</text>
<text x="925.3" y="814.6" font-size="16.2" fill="#000" stroke="#000" stroke-width="0.25">Atg2b</text>
<text x="925.3" y="835.4" font-size="16.2" fill="#000" stroke="#000" stroke-width="0.25">Akt1</text>
<text x="925.3" y="856.2" font-size="16.2" fill="#000" stroke="#000" stroke-width="0.25">Rragc</text>
<text x="925.3" y="877.0" font-size="16.2" fill="#000" stroke="#000" stroke-width="0.25">Rheb</text>
<text x="925.3" y="897.8" font-size="16.2" fill="#000" stroke="#000" stroke-width="0.25">Mtor</text>
<text x="925.3" y="918.5" font-size="16.2" fill="#000" stroke="#000" stroke-width="0.25">Igbp1</text>
<text x="925.3" y="939.3" font-size="16.2" fill="#000" stroke="#000" stroke-width="0.25">Atg7</text>
<text x="925.3" y="960.1" font-size="16.2" fill="#000" stroke="#000" stroke-width="0.25">Atg4a</text>
<text x="925.3" y="980.9" font-size="16.2" fill="#000" stroke="#000" stroke-width="0.25">Mras</text>
<text x="925.3" y="1001.7" font-size="16.2" fill="#000" stroke="#000" stroke-width="0.25">Atg9a</text>
<text x="925.3" y="1022.5" font-size="16.2" fill="#000" stroke="#000" stroke-width="0.25">Becn1</text>
<text x="925.3" y="1043.3" font-size="16.2" fill="#000" stroke="#000" stroke-width="0.25">Atg3</text>
<text x="925.3" y="1064.0" font-size="16.2" fill="#000" stroke="#000" stroke-width="0.25">Atg4b</text>
<text x="925.3" y="1084.8" font-size="16.2" fill="#000" stroke="#000" stroke-width="0.25">Hras</text>
<text x="925.3" y="1105.6" font-size="16.2" fill="#000" stroke="#000" stroke-width="0.25">Atg4d</text>
<text x="925.3" y="1126.4" font-size="16.2" fill="#000" stroke="#000" stroke-width="0.25">Atg101</text>
<text x="925.3" y="1147.2" font-size="16.2" fill="#000" stroke="#000" stroke-width="0.25">Ctsd</text>
<text x="925.3" y="1168.0" font-size="16.2" fill="#000" stroke="#000" stroke-width="0.25">Ctsl</text>
<text x="925.3" y="1188.7" font-size="16.2" fill="#000" stroke="#000" stroke-width="0.25">Vmp1</text>
<text x="925.3" y="1209.5" font-size="16.2" fill="#000" stroke="#000" stroke-width="0.25">Atg9b</text>
<text x="925.3" y="1230.3" font-size="16.2" fill="#000" stroke="#000" stroke-width="0.25">Ctsb</text>
<text x="925.3" y="1251.1" font-size="16.2" fill="#000" stroke="#000" stroke-width="0.25">Vamp8</text>
<path d="M917.2,20.6h3.6M917.2,41.4h3.6M917.2,62.1h3.6M917.2,82.9h3.6M917.2,103.7h3.6M917.2,124.5h3.6M917.2,145.2h3.6M917.2,166.0h3.6M917.2,186.8h3.6M917.2,207.5h3.6M917.2,228.3h3.6M917.2,249.1h3.6M917.2,269.9h3.6M917.2,290.6h3.6M917.2,311.4h3.6M917.2,332.2h3.6M917.2,353.0h3.6M917.2,373.7h3.6M917.2,394.5h3.6M917.2,415.3h3.6M917.2,436.0h3.6M917.2,456.8h3.6M917.2,477.6h3.6M917.2,498.4h3.6M917.2,519.1h3.6M917.2,539.9h3.6M917.2,560.7h3.6M917.2,581.5h3.6M917.2,602.2h3.6M917.2,623.0h3.6M917.2,643.8h3.6M917.2,664.5h3.6M917.2,685.3h3.6M917.2,706.1h3.6M917.2,726.9h3.6M917.2,747.6h3.6M917.2,768.4h3.6M917.2,789.2h3.6M917.2,810.0h3.6M917.2,830.7h3.6M917.2,851.5h3.6M917.2,872.3h3.6M917.2,893.1h3.6M917.2,913.8h3.6M917.2,934.6h3.6M917.2,955.4h3.6M917.2,976.1h3.6M917.2,996.9h3.6M917.2,1017.7h3.6M917.2,1038.5h3.6M917.2,1059.2h3.6M917.2,1080.0h3.6M917.2,1100.8h3.6M917.2,1121.6h3.6M917.2,1142.3h3.6M917.2,1163.1h3.6M917.2,1183.9h3.6M917.2,1204.6h3.6M917.2,1225.4h3.6M917.2,1246.2h3.6M688.0,1257.4v3.4M729.5,1257.4v3.4M771.0,1257.4v3.4M812.6,1257.4v3.4M854.1,1257.4v3.4M895.6,1257.4v3.4" stroke="#cfcfcf" stroke-width="1" fill="none"/>
<text transform="translate(673.8,1265.4) rotate(90)" font-size="16.6" fill="#000" stroke="#000" stroke-width="0.25">Light-3</text>
<text transform="translate(715.3,1265.4) rotate(90)" font-size="16.6" fill="#000" stroke="#000" stroke-width="0.25">Light-2</text>
<text transform="translate(756.8,1265.4) rotate(90)" font-size="16.6" fill="#000" stroke="#000" stroke-width="0.25">Light-1</text>
<text transform="translate(798.4,1265.4) rotate(90)" font-size="16.6" fill="#000" stroke="#000" stroke-width="0.25">Dark-3</text>
<text transform="translate(839.9,1265.4) rotate(90)" font-size="16.6" fill="#000" stroke="#000" stroke-width="0.25">Dark-2</text>
<text transform="translate(881.4,1265.4) rotate(90)" font-size="16.6" fill="#000" stroke="#000" stroke-width="0.25">Dark-1</text>
<defs><linearGradient id="gd" x1="0" y1="0" x2="0" y2="1">
<stop offset="0" stop-color="#bd313e"/><stop offset="0.5" stop-color="#ffffff"/><stop offset="1" stop-color="#3874b3"/>
</linearGradient></defs>
<rect x="977.8" y="571.9" width="12.2" height="83" fill="url(#gd)"/>
<line x1="977.8" y1="583.4" x2="980.2" y2="583.4" stroke="#fff" stroke-width="0.8"/>
<line x1="987.6" y1="583.4" x2="990" y2="583.4" stroke="#fff" stroke-width="0.8"/>
<text x="993" y="587.6999999999999" font-size="11.5" fill="#111">1</text>
<line x1="977.8" y1="608.0" x2="980.2" y2="608.0" stroke="#fff" stroke-width="0.8"/>
<line x1="987.6" y1="608.0" x2="990" y2="608.0" stroke="#fff" stroke-width="0.8"/>
<text x="993" y="612.3" font-size="11.5" fill="#111">0</text>
<line x1="977.8" y1="632.6" x2="980.2" y2="632.6" stroke="#fff" stroke-width="0.8"/>
<line x1="987.6" y1="632.6" x2="990" y2="632.6" stroke="#fff" stroke-width="0.8"/>
<text x="993" y="636.9" font-size="11.5" fill="#111">-1</text>
</g>
</svg>
</body></html>
